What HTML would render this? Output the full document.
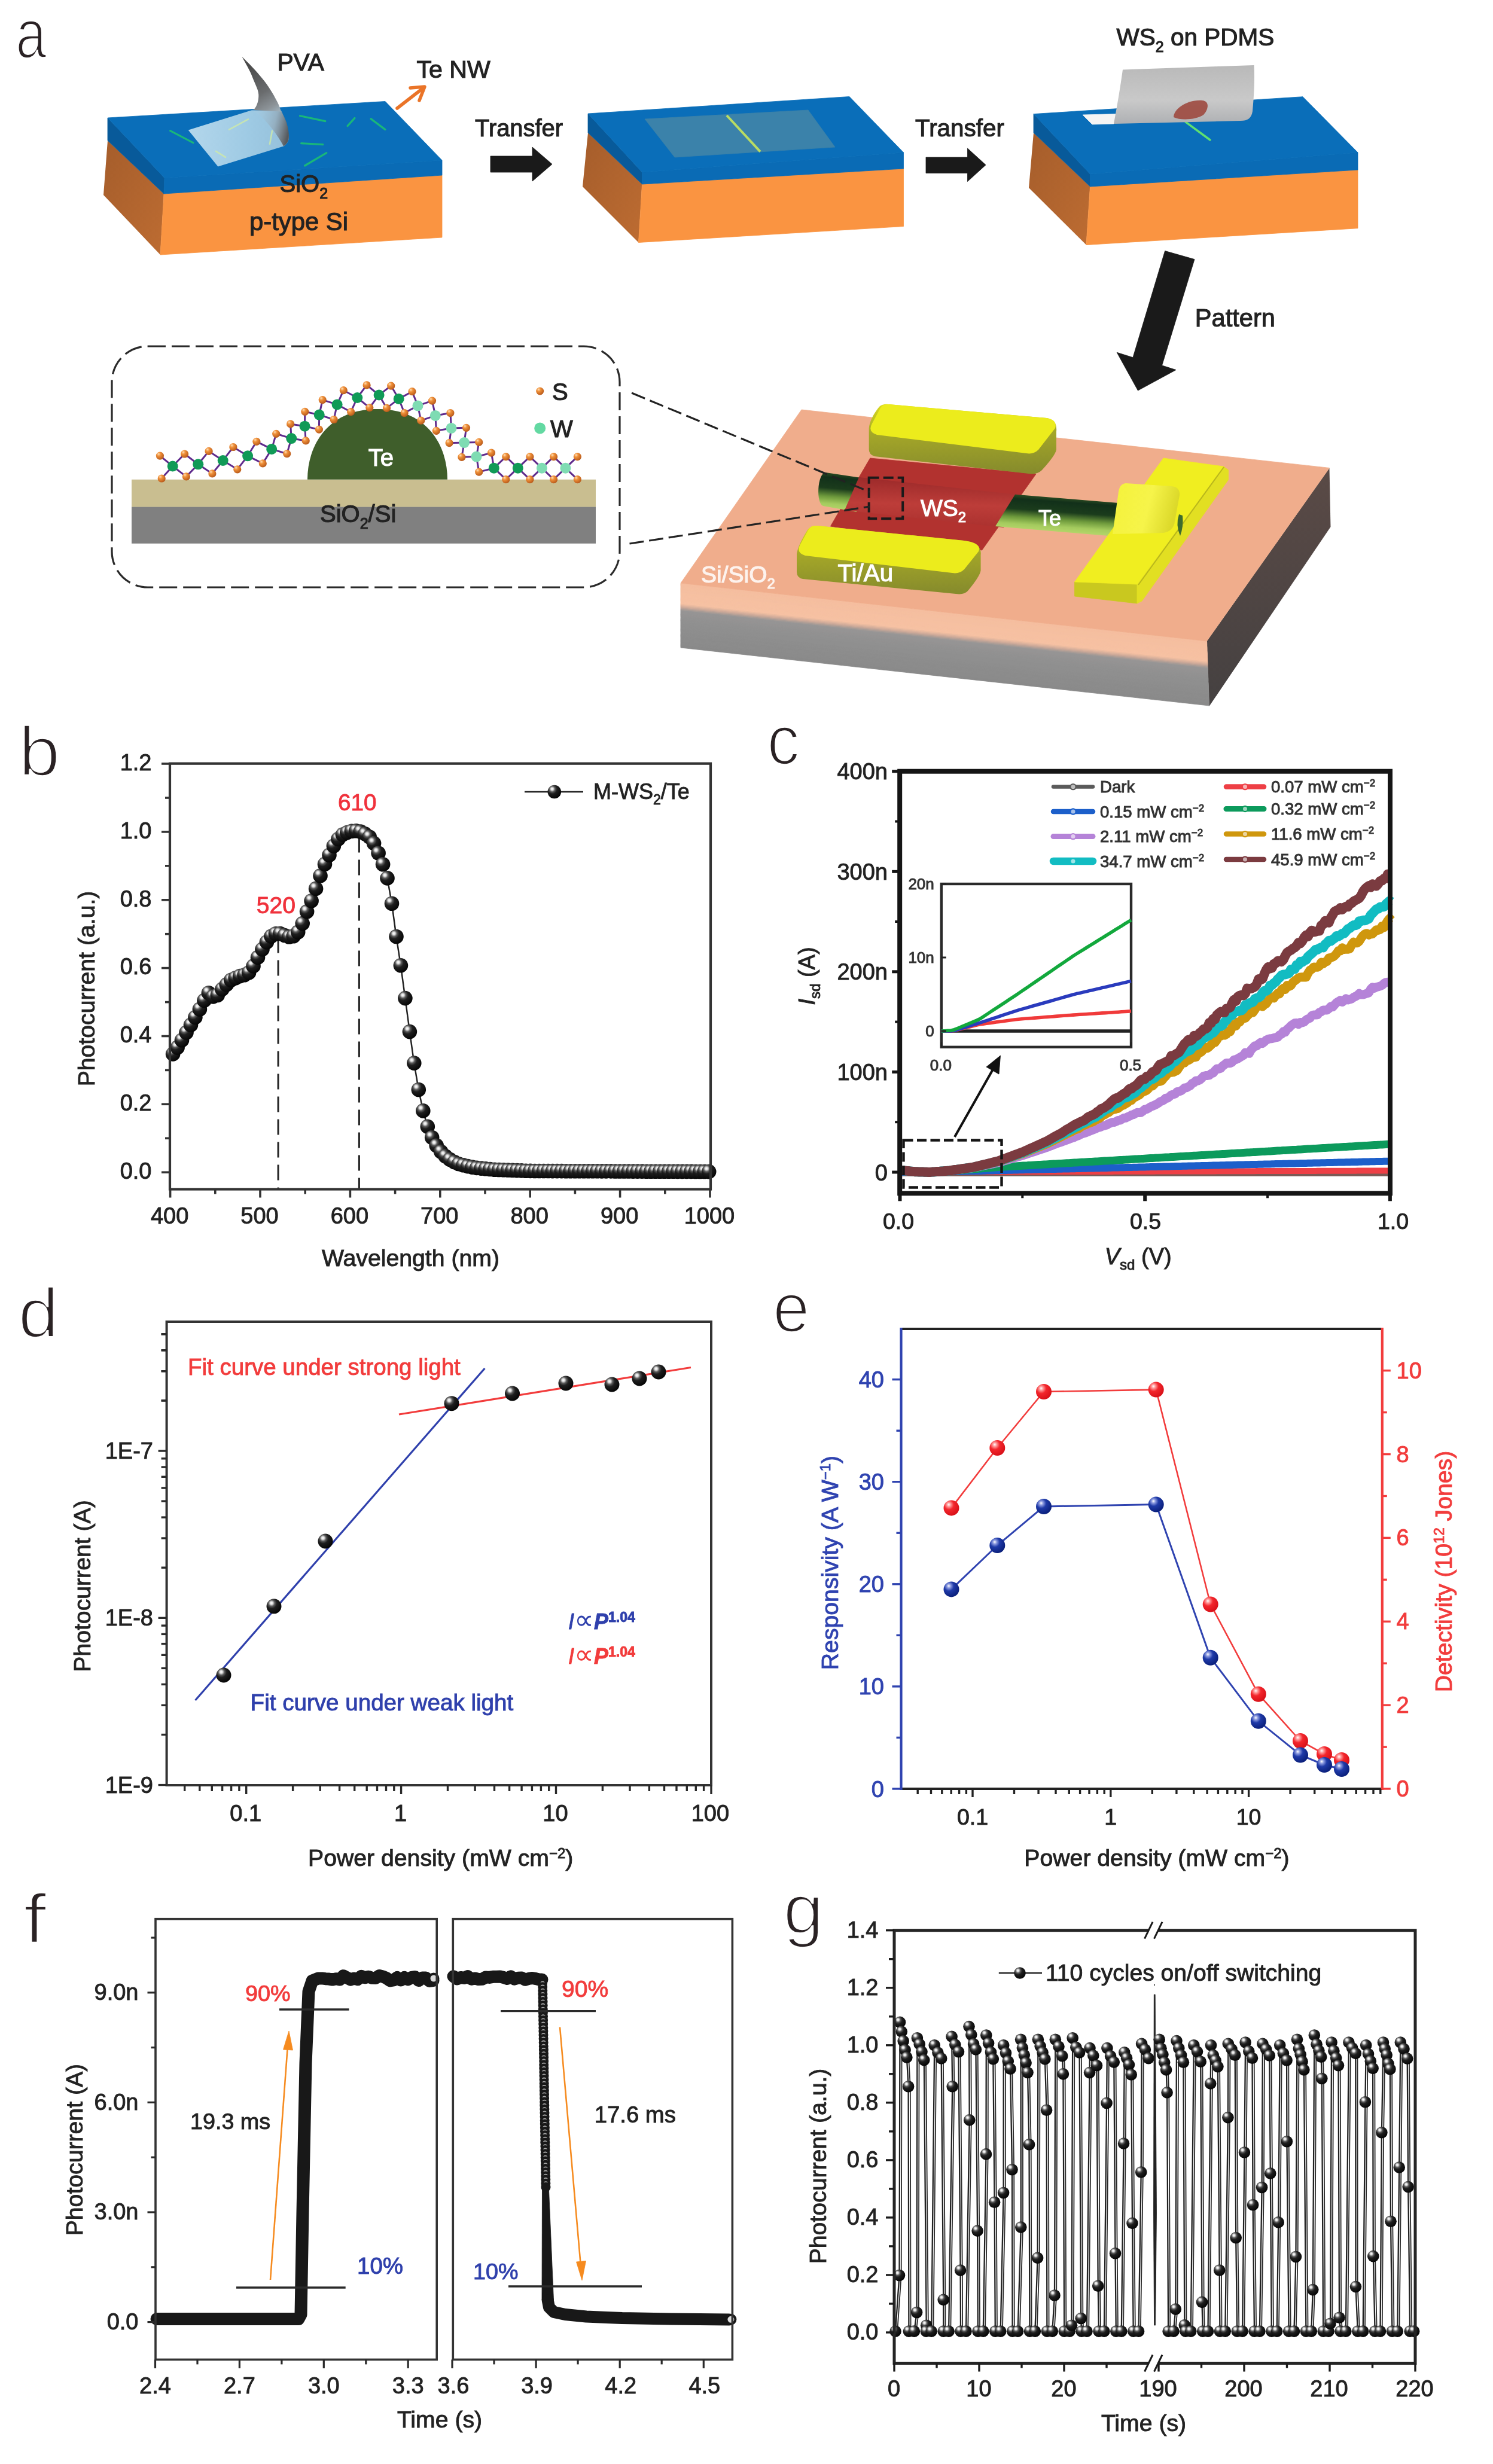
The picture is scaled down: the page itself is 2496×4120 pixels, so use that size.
<!DOCTYPE html>
<html lang="en"><head><meta charset="utf-8"><title>Figure</title>
<style>
html,body{margin:0;padding:0;background:#fff;}
svg{display:block;font-family:"Liberation Sans",sans-serif;filter:blur(0.6px);}
</style></head><body>
<svg width="2496" height="4120" viewBox="0 0 2496 4120">
<rect width="2496" height="4120" fill="#fff"/>

<defs>
<radialGradient id="spk" cx="0.36" cy="0.32" r="0.7" fx="0.33" fy="0.28">
 <stop offset="0" stop-color="#ffffff"/><stop offset="0.13" stop-color="#e0e0e0"/><stop offset="0.3" stop-color="#5a5a5a"/><stop offset="0.5" stop-color="#1e1e1e"/><stop offset="1" stop-color="#050505"/>
</radialGradient>
<radialGradient id="spr" cx="0.36" cy="0.32" r="0.7" fx="0.33" fy="0.28">
 <stop offset="0" stop-color="#fff"/><stop offset="0.18" stop-color="#ff9a9a"/><stop offset="0.45" stop-color="#f3262c"/><stop offset="1" stop-color="#d81018"/>
</radialGradient>
<radialGradient id="spb" cx="0.36" cy="0.32" r="0.7" fx="0.33" fy="0.28">
 <stop offset="0" stop-color="#fff"/><stop offset="0.18" stop-color="#8d9be0"/><stop offset="0.45" stop-color="#1f3aa8"/><stop offset="1" stop-color="#0a1f7a"/>
</radialGradient>
<radialGradient id="spS" cx="0.36" cy="0.32" r="0.7" fx="0.33" fy="0.28">
 <stop offset="0" stop-color="#ffe0b8"/><stop offset="0.35" stop-color="#f0913a"/><stop offset="1" stop-color="#b8591a"/>
</radialGradient>
<linearGradient id="orL" x1="0" y1="0" x2="1" y2="1"><stop offset="0" stop-color="#a55d2b"/><stop offset="1" stop-color="#bd6c32"/></linearGradient>
<linearGradient id="pvaflat" x1="0" y1="0" x2="1" y2="0"><stop offset="0" stop-color="#bcdcee"/><stop offset="0.6" stop-color="#a6cfe6"/><stop offset="1" stop-color="#9cc4dc"/></linearGradient>
<linearGradient id="pvacurl" gradientUnits="userSpaceOnUse" x1="415" y1="110" x2="462" y2="190"><stop offset="0" stop-color="#4a4a4a"/><stop offset="0.55" stop-color="#6a6c6e"/><stop offset="0.85" stop-color="#8d9499"/><stop offset="1" stop-color="#9fb2be"/></linearGradient>
<linearGradient id="pvalow" gradientUnits="userSpaceOnUse" x1="428" y1="200" x2="484" y2="214"><stop offset="0" stop-color="#a9cbe0" stop-opacity="0.3"/><stop offset="0.55" stop-color="#93a9b8" stop-opacity="0.75"/><stop offset="0.85" stop-color="#6d757c" stop-opacity="0.95"/><stop offset="1" stop-color="#55595d"/></linearGradient>
<linearGradient id="pdms" x1="0" y1="0" x2="0" y2="1"><stop offset="0" stop-color="#b9b9b9"/><stop offset="0.6" stop-color="#c9c9c9"/><stop offset="1" stop-color="#aeb0b3"/></linearGradient>
<linearGradient id="devR" x1="0" y1="0" x2="0" y2="1"><stop offset="0" stop-color="#5a4a46"/><stop offset="1" stop-color="#454141"/></linearGradient>
<linearGradient id="devF" x1="0" y1="0" x2="0" y2="1"><stop offset="0" stop-color="#f3b496"/><stop offset="0.22" stop-color="#eeb096"/><stop offset="0.38" stop-color="#a9a4a2"/><stop offset="1" stop-color="#8f8f8f"/></linearGradient>
<linearGradient id="wire" gradientUnits="userSpaceOnUse" x1="1780" y1="833" x2="1776" y2="889"><stop offset="0" stop-color="#2a4a22"/><stop offset="0.12" stop-color="#12301a"/><stop offset="0.42" stop-color="#1b3c1c"/><stop offset="0.66" stop-color="#6e9a3c"/><stop offset="0.86" stop-color="#a4cb5e"/><stop offset="1" stop-color="#b2d468"/></linearGradient>
<linearGradient id="wireL" gradientUnits="userSpaceOnUse" x1="1410" y1="793" x2="1405" y2="852"><stop offset="0" stop-color="#2a4a22"/><stop offset="0.12" stop-color="#12301a"/><stop offset="0.42" stop-color="#1b3c1c"/><stop offset="0.66" stop-color="#6e9a3c"/><stop offset="0.86" stop-color="#a4cb5e"/><stop offset="1" stop-color="#b2d468"/></linearGradient>
<linearGradient id="ridge" x1="0.04" y1="0" x2="-0.04" y2="1"><stop offset="0" stop-color="#9c2a2a"/><stop offset="0.5" stop-color="#bd3d39"/><stop offset="1" stop-color="#a82f2d"/></linearGradient>
<linearGradient id="elF" x1="0" y1="0" x2="0.05" y2="1"><stop offset="0" stop-color="#dcdc20"/><stop offset="0.4" stop-color="#a6a828"/><stop offset="1" stop-color="#878c2c"/></linearGradient>
<linearGradient id="bump" x1="0" y1="0" x2="1" y2="0.2"><stop offset="0" stop-color="#f4f23a"/><stop offset="0.6" stop-color="#f6f44a"/><stop offset="1" stop-color="#dcd92a"/></linearGradient>
</defs>

<polygon points="180.0,235.0 274.0,324.0 268.0,426.0 173.0,326.0" fill="url(#orL)"  />
<polygon points="274.0,324.0 739.0,293.0 739.0,397.0 268.0,426.0" fill="#fa9441" stroke="#fa9441" stroke-width="0.8" />
<polygon points="180.0,197.0 275.0,297.5 274.0,324.0 180.0,235.0" fill="#085a9a" stroke="#085a9a" stroke-width="0.8" />
<polygon points="275.0,297.5 739.0,268.0 739.0,293.0 274.0,324.0" fill="#0a6bb5" stroke="#0a6bb5" stroke-width="0.8" />
<polygon points="180.0,197.0 644.0,169.5 739.0,268.0 275.0,297.5" fill="#0a6eb9" stroke="#0a6eb9" stroke-width="0.8" />
<line x1="284.6" y1="218.7" x2="322.8" y2="238.7" stroke="#19b77a" stroke-width="3.2" stroke-linecap="round"/>
<line x1="501.6" y1="193.7" x2="543.8" y2="202.6" stroke="#19b77a" stroke-width="3.2" stroke-linecap="round"/>
<line x1="581.0" y1="210.6" x2="593.0" y2="197.4" stroke="#19b77a" stroke-width="3.2" stroke-linecap="round"/>
<line x1="620.0" y1="198.6" x2="644.0" y2="216.6" stroke="#19b77a" stroke-width="3.2" stroke-linecap="round"/>
<line x1="503.6" y1="239.6" x2="539.8" y2="241.6" stroke="#19b77a" stroke-width="3.2" stroke-linecap="round"/>
<line x1="509.6" y1="277.0" x2="545.8" y2="255.6" stroke="#19b77a" stroke-width="3.2" stroke-linecap="round"/>
<path d="M314.8,217.5 L420.1,184.5 L470,185 C476,198 482,215 482.8,231.5 C482,238 478,242 474.1,244.5 L364.4,278.5 Z" fill="url(#pvaflat)" opacity="0.95"/>
<line x1="383.0" y1="216.6" x2="415.0" y2="199.4" stroke="#cfeaa8" stroke-width="2.6" stroke-linecap="round" opacity="0.8"/>
<line x1="451.0" y1="240.8" x2="455.0" y2="218.7" stroke="#cfeaa8" stroke-width="2.6" stroke-linecap="round" opacity="0.8"/>
<line x1="361.0" y1="252.8" x2="377.0" y2="262.9" stroke="#cfeaa8" stroke-width="2.6" stroke-linecap="round" opacity="0.8"/>
<path d="M428,181 L470,185 C474,193 477,199 479.3,205.4 C482,215 483.5,224 482.8,231.5 C482,238 478,242 474.1,244.5 C468,232 452,210 440,198 C434,192 428,187 420.1,184.5 Z" fill="url(#pvalow)"/>
<path d="M404.5,94.8 C410,105 418,118 421.9,128.7 C427,142 432,150 432.3,158.3 C432.5,166 431,176 424,184 L470,186.5 C468,180 466,175 463.7,170.5 C456,155 448,143 439.3,132.2 C428,118 415,105 404.5,94.8 Z" fill="url(#pvacurl)"/>
<g stroke="#ea7428" stroke-width="5.5" fill="none" stroke-linecap="round" stroke-linejoin="round"><path d="M664,181 L709,146"/><path d="M686,147 L710,145 L701,168"/></g>
<text x="463.4" y="118.0" font-size="40.7" text-anchor="start" fill="#222" stroke="#222" stroke-width="1.1" >PVA</text>
<text x="696.5" y="130.4" font-size="41.1" text-anchor="start" fill="#222" stroke="#222" stroke-width="1.1" >Te NW</text>
<text x="467.5" y="321.0" font-size="40.0" text-anchor="start" fill="#222" stroke="#222" stroke-width="1.1" >SiO<tspan font-size="25" dy="11">2</tspan></text>
<text x="417.0" y="385.4" font-size="41.8" text-anchor="start" fill="#222" stroke="#222" stroke-width="1.1" >p-type Si</text>
<polygon points="820.0,261.0 890.0,261.0 890.0,246.0 923.0,274.5 890.0,303.0 890.0,288.0 820.0,288.0" fill="#1a1a1a" stroke="#1a1a1a" stroke-width="0.8" />
<polygon points="1548.0,263.0 1617.5,263.0 1617.5,248.0 1648.0,275.8 1617.5,303.5 1617.5,289.5 1548.0,289.5" fill="#1a1a1a" stroke="#1a1a1a" stroke-width="0.8" />
<text x="794.0" y="227.7" font-size="39.9" text-anchor="start" fill="#222" stroke="#222" stroke-width="1.1" >Transfer</text>
<text x="1530.0" y="228.0" font-size="40.4" text-anchor="start" fill="#222" stroke="#222" stroke-width="1.1" >Transfer</text>
<polygon points="983.0,222.0 1073.5,308.0 1067.5,405.5 974.0,312.0" fill="url(#orL)"  />
<polygon points="1073.5,308.0 1510.5,282.0 1510.5,378.5 1067.5,405.5" fill="#fa9441" stroke="#fa9441" stroke-width="0.8" />
<polygon points="983.0,190.0 1073.5,288.0 1073.5,308.0 983.0,222.0" fill="#085a9a" stroke="#085a9a" stroke-width="0.8" />
<polygon points="1073.5,288.0 1510.5,255.0 1510.5,282.0 1073.5,308.0" fill="#0a6bb5" stroke="#0a6bb5" stroke-width="0.8" />
<polygon points="983.0,190.0 1420.0,161.5 1510.5,255.0 1073.5,288.0" fill="#0a6eb9" stroke="#0a6eb9" stroke-width="0.8" />
<polygon points="1078.0,199.0 1351.0,184.0 1396.0,246.0 1128.0,263.0" fill="#3b82aa" stroke="#3b82aa" stroke-width="0.8" />
<line x1="1215.0" y1="193.0" x2="1271.0" y2="253.6" stroke="#b9dc62" stroke-width="4" />
<polygon points="1728.0,222.0 1822.5,312.0 1816.0,409.5 1720.0,314.0" fill="url(#orL)"  />
<polygon points="1822.5,312.0 2270.0,284.0 2270.0,381.7 1816.0,409.5" fill="#fa9441" stroke="#fa9441" stroke-width="0.8" />
<polygon points="1728.0,190.6 1822.5,291.0 1822.5,312.0 1728.0,222.0" fill="#085a9a" stroke="#085a9a" stroke-width="0.8" />
<polygon points="1822.5,291.0 2270.0,255.0 2270.0,284.0 1822.5,312.0" fill="#0a6bb5" stroke="#0a6bb5" stroke-width="0.8" />
<polygon points="1728.0,190.6 2178.0,161.7 2270.0,255.0 1822.5,291.0" fill="#0a6eb9" stroke="#0a6eb9" stroke-width="0.8" />
<line x1="1982.0" y1="203.9" x2="2023.0" y2="234.0" stroke="#5fe070" stroke-width="3.5" stroke-linecap="round"/>
<polygon points="1810.0,192.0 1868.0,190.6 1862.0,207.0 1826.0,208.0" fill="#f4f4f4" stroke="#f4f4f4" stroke-width="0.8" />
<path d="M1877,116.5 L2096.5,109 C2098,135 2096,165 2094,186 C2092,198 2086,202 2074,202 L1862,207 C1868,175 1873,145 1877,116.5 Z" fill="url(#pdms)"/>
<path d="M1962,196 C1962,182 1985,166 2010,168 C2022,169 2021,182 2012,192 C2000,200 1975,202 1962,196 Z" fill="#9e4c42" opacity="0.92"/>
<text x="1866.5" y="75.5" font-size="40.5" text-anchor="start" fill="#222" stroke="#222" stroke-width="1.1" >WS<tspan font-size="25" dy="11">2</tspan><tspan dy="-11"> on PDMS</tspan></text>
<polygon points="1947.6,419.5 1997.0,433.6 1942.6,611.0 1966.0,618.5 1902.4,653.0 1867.2,589.3 1894.0,597.7" fill="#1a1a1a" stroke="#1a1a1a" stroke-width="0.8" />
<text x="1997.8" y="546.4" font-size="41.6" text-anchor="start" fill="#222" stroke="#222" stroke-width="1.1" >Pattern</text>
<rect x="187" y="579" width="849" height="403" rx="60" ry="60" fill="none" stroke="#2a2a2a" stroke-width="3.2" stroke-dasharray="30 10"/>
<rect x="220" y="801.8" width="776" height="46" fill="#c9be90"/>
<rect x="220" y="847.6" width="776" height="61.2" fill="#808080"/>
<path d="M514,801.8 C514,745 548,684 631,684 C714,684 748,745 748,801.8 Z" fill="#3f5e2b"/>
<text x="636.8" y="779.0" font-size="40.0" text-anchor="middle" fill="#fff" stroke="#fff" stroke-width="1.1" >Te</text>
<text x="535.0" y="873.0" font-size="40.0" text-anchor="start" fill="#222" stroke="#222" stroke-width="1.1" >SiO<tspan font-size="25" dy="11">2</tspan><tspan dy="-11">/Si</tspan></text>
<circle cx="902.7" cy="654" r="6.5" fill="url(#spS)"/>
<text x="923.0" y="669.4" font-size="40.0" text-anchor="start" fill="#222" stroke="#222" stroke-width="1.1" >S</text>
<circle cx="902.7" cy="716" r="9.5" fill="#63d9a2"/>
<text x="920.0" y="730.5" font-size="40.0" text-anchor="start" fill="#222" stroke="#222" stroke-width="1.1" >W</text>
<g stroke="#5f2a8c" stroke-width="3">
<line x1="288.7" y1="779.5" x2="267.4" y2="762.1"/>
<line x1="288.7" y1="779.5" x2="270.2" y2="800.0"/>
<line x1="288.7" y1="779.5" x2="308.6" y2="759.0"/>
<line x1="288.7" y1="779.5" x2="311.4" y2="796.9"/>
<line x1="331.3" y1="776.3" x2="308.6" y2="759.0"/>
<line x1="331.3" y1="776.3" x2="311.4" y2="796.9"/>
<line x1="331.3" y1="776.3" x2="349.1" y2="754.4"/>
<line x1="331.3" y1="776.3" x2="354.9" y2="791.9"/>
<line x1="372.7" y1="770.0" x2="349.1" y2="754.4"/>
<line x1="372.7" y1="770.0" x2="354.9" y2="791.9"/>
<line x1="372.7" y1="770.0" x2="389.9" y2="747.5"/>
<line x1="372.7" y1="770.0" x2="396.8" y2="784.8"/>
<line x1="414.1" y1="762.3" x2="389.9" y2="747.5"/>
<line x1="414.1" y1="762.3" x2="396.8" y2="784.8"/>
<line x1="414.1" y1="762.3" x2="428.9" y2="738.3"/>
<line x1="414.1" y1="762.3" x2="439.3" y2="774.9"/>
<line x1="454.2" y1="750.9" x2="428.9" y2="738.3"/>
<line x1="454.2" y1="750.9" x2="439.3" y2="774.9"/>
<line x1="454.2" y1="750.9" x2="461.7" y2="725.3"/>
<line x1="454.2" y1="750.9" x2="479.7" y2="758.7"/>
<line x1="487.2" y1="733.1" x2="461.7" y2="725.3"/>
<line x1="487.2" y1="733.1" x2="479.7" y2="758.7"/>
<line x1="487.2" y1="733.1" x2="485.6" y2="708.9"/>
<line x1="487.2" y1="733.1" x2="511.2" y2="736.9"/>
<line x1="509.5" y1="712.7" x2="485.6" y2="708.9"/>
<line x1="509.5" y1="712.7" x2="511.2" y2="736.9"/>
<line x1="509.5" y1="712.7" x2="509.8" y2="688.3"/>
<line x1="509.5" y1="712.7" x2="533.4" y2="718.1"/>
<line x1="533.7" y1="693.6" x2="509.8" y2="688.3"/>
<line x1="533.7" y1="693.6" x2="533.4" y2="718.1"/>
<line x1="533.7" y1="693.6" x2="539.2" y2="668.6"/>
<line x1="533.7" y1="693.6" x2="558.1" y2="701.5"/>
<line x1="563.6" y1="676.4" x2="539.2" y2="668.6"/>
<line x1="563.6" y1="676.4" x2="558.1" y2="701.5"/>
<line x1="563.6" y1="676.4" x2="574.3" y2="652.7"/>
<line x1="563.6" y1="676.4" x2="586.6" y2="688.7"/>
<line x1="597.3" y1="665.0" x2="574.3" y2="652.7"/>
<line x1="597.3" y1="665.0" x2="586.6" y2="688.7"/>
<line x1="597.3" y1="665.0" x2="613.1" y2="643.9"/>
<line x1="597.3" y1="665.0" x2="617.8" y2="681.6"/>
<line x1="633.6" y1="660.5" x2="613.1" y2="643.9"/>
<line x1="633.6" y1="660.5" x2="617.8" y2="681.6"/>
<line x1="633.6" y1="660.5" x2="653.7" y2="645.1"/>
<line x1="633.6" y1="660.5" x2="646.5" y2="682.4"/>
<line x1="666.7" y1="666.9" x2="653.7" y2="645.1"/>
<line x1="666.7" y1="666.9" x2="646.5" y2="682.4"/>
<line x1="666.7" y1="666.9" x2="689.0" y2="654.7"/>
<line x1="666.7" y1="666.9" x2="676.1" y2="690.5"/>
<line x1="698.5" y1="678.4" x2="689.0" y2="654.7"/>
<line x1="698.5" y1="678.4" x2="676.1" y2="690.5"/>
<line x1="698.5" y1="678.4" x2="722.5" y2="670.1"/>
<line x1="698.5" y1="678.4" x2="703.8" y2="703.2"/>
<line x1="727.8" y1="694.9" x2="722.5" y2="670.1"/>
<line x1="727.8" y1="694.9" x2="703.8" y2="703.2"/>
<line x1="727.8" y1="694.9" x2="752.9" y2="690.5"/>
<line x1="727.8" y1="694.9" x2="729.4" y2="720.3"/>
<line x1="754.5" y1="715.9" x2="752.9" y2="690.5"/>
<line x1="754.5" y1="715.9" x2="729.4" y2="720.3"/>
<line x1="754.5" y1="715.9" x2="779.5" y2="715.3"/>
<line x1="754.5" y1="715.9" x2="751.1" y2="740.7"/>
<line x1="776.1" y1="740.1" x2="779.5" y2="715.3"/>
<line x1="776.1" y1="740.1" x2="751.1" y2="740.7"/>
<line x1="776.1" y1="740.1" x2="800.7" y2="739.4"/>
<line x1="776.1" y1="740.1" x2="771.9" y2="764.3"/>
<line x1="796.5" y1="763.6" x2="800.7" y2="739.4"/>
<line x1="796.5" y1="763.6" x2="771.9" y2="764.3"/>
<line x1="796.5" y1="763.6" x2="821.5" y2="757.2"/>
<line x1="796.5" y1="763.6" x2="800.7" y2="789.1"/>
<line x1="825.8" y1="782.7" x2="821.5" y2="757.2"/>
<line x1="825.8" y1="782.7" x2="800.7" y2="789.1"/>
<line x1="825.8" y1="782.7" x2="845.8" y2="763.7"/>
<line x1="825.8" y1="782.7" x2="845.8" y2="801.7"/>
<line x1="865.8" y1="782.7" x2="845.8" y2="763.7"/>
<line x1="865.8" y1="782.7" x2="845.8" y2="801.7"/>
<line x1="865.8" y1="782.7" x2="885.9" y2="763.7"/>
<line x1="865.8" y1="782.7" x2="885.9" y2="801.7"/>
<line x1="905.9" y1="782.7" x2="885.9" y2="763.7"/>
<line x1="905.9" y1="782.7" x2="885.9" y2="801.7"/>
<line x1="905.9" y1="782.7" x2="925.6" y2="763.7"/>
<line x1="905.9" y1="782.7" x2="925.6" y2="801.7"/>
<line x1="945.4" y1="782.7" x2="925.6" y2="763.7"/>
<line x1="945.4" y1="782.7" x2="925.6" y2="801.7"/>
<line x1="945.4" y1="782.7" x2="965.4" y2="763.7"/>
<line x1="945.4" y1="782.7" x2="965.4" y2="801.7"/>
</g>
<circle cx="288.7" cy="779.5" r="9" fill="#109a57"/>
<circle cx="331.3" cy="776.3" r="9" fill="#109a57"/>
<circle cx="372.7" cy="770.0" r="9" fill="#109a57"/>
<circle cx="414.1" cy="762.3" r="9" fill="#109a57"/>
<circle cx="454.2" cy="750.9" r="9" fill="#109a57"/>
<circle cx="487.2" cy="733.1" r="9" fill="#109a57"/>
<circle cx="509.5" cy="712.7" r="9" fill="#109a57"/>
<circle cx="533.7" cy="693.6" r="9" fill="#109a57"/>
<circle cx="563.6" cy="676.4" r="9" fill="#109a57"/>
<circle cx="597.3" cy="665.0" r="9" fill="#109a57"/>
<circle cx="633.6" cy="660.5" r="9" fill="#109a57"/>
<circle cx="666.7" cy="666.9" r="9" fill="#109a57"/>
<circle cx="698.5" cy="678.4" r="9" fill="#7fdcb3"/>
<circle cx="727.8" cy="694.9" r="9" fill="#7fdcb3"/>
<circle cx="754.5" cy="715.9" r="9" fill="#7fdcb3"/>
<circle cx="776.1" cy="740.1" r="9" fill="#7fdcb3"/>
<circle cx="796.5" cy="763.6" r="9" fill="#7fdcb3"/>
<circle cx="825.8" cy="782.7" r="9" fill="#109a57"/>
<circle cx="865.8" cy="782.7" r="9" fill="#109a57"/>
<circle cx="905.9" cy="782.7" r="9" fill="#7fdcb3"/>
<circle cx="945.4" cy="782.7" r="9" fill="#7fdcb3"/>
<circle cx="267.4" cy="762.1" r="6.6" fill="url(#spS)"/>
<circle cx="270.2" cy="800.0" r="6.6" fill="url(#spS)"/>
<circle cx="308.6" cy="759.0" r="6.6" fill="url(#spS)"/>
<circle cx="311.4" cy="796.9" r="6.6" fill="url(#spS)"/>
<circle cx="349.1" cy="754.4" r="6.6" fill="url(#spS)"/>
<circle cx="354.9" cy="791.9" r="6.6" fill="url(#spS)"/>
<circle cx="389.9" cy="747.5" r="6.6" fill="url(#spS)"/>
<circle cx="396.8" cy="784.8" r="6.6" fill="url(#spS)"/>
<circle cx="428.9" cy="738.3" r="6.6" fill="url(#spS)"/>
<circle cx="439.3" cy="774.9" r="6.6" fill="url(#spS)"/>
<circle cx="461.7" cy="725.3" r="6.6" fill="url(#spS)"/>
<circle cx="479.7" cy="758.7" r="6.6" fill="url(#spS)"/>
<circle cx="485.6" cy="708.9" r="6.6" fill="url(#spS)"/>
<circle cx="511.2" cy="736.9" r="6.6" fill="url(#spS)"/>
<circle cx="509.8" cy="688.3" r="6.6" fill="url(#spS)"/>
<circle cx="533.4" cy="718.1" r="6.6" fill="url(#spS)"/>
<circle cx="539.2" cy="668.6" r="6.6" fill="url(#spS)"/>
<circle cx="558.1" cy="701.5" r="6.6" fill="url(#spS)"/>
<circle cx="574.3" cy="652.7" r="6.6" fill="url(#spS)"/>
<circle cx="586.6" cy="688.7" r="6.6" fill="url(#spS)"/>
<circle cx="613.1" cy="643.9" r="6.6" fill="url(#spS)"/>
<circle cx="617.8" cy="681.6" r="6.6" fill="url(#spS)"/>
<circle cx="653.7" cy="645.1" r="6.6" fill="url(#spS)"/>
<circle cx="646.5" cy="682.4" r="6.6" fill="url(#spS)"/>
<circle cx="689.0" cy="654.7" r="6.6" fill="url(#spS)"/>
<circle cx="676.1" cy="690.5" r="6.6" fill="url(#spS)"/>
<circle cx="722.5" cy="670.1" r="6.6" fill="url(#spS)"/>
<circle cx="703.8" cy="703.2" r="6.6" fill="url(#spS)"/>
<circle cx="752.9" cy="690.5" r="6.6" fill="url(#spS)"/>
<circle cx="729.4" cy="720.3" r="6.6" fill="url(#spS)"/>
<circle cx="779.5" cy="715.3" r="6.6" fill="url(#spS)"/>
<circle cx="751.1" cy="740.7" r="6.6" fill="url(#spS)"/>
<circle cx="800.7" cy="739.4" r="6.6" fill="url(#spS)"/>
<circle cx="771.9" cy="764.3" r="6.6" fill="url(#spS)"/>
<circle cx="821.5" cy="757.2" r="6.6" fill="url(#spS)"/>
<circle cx="800.7" cy="789.1" r="6.6" fill="url(#spS)"/>
<circle cx="845.8" cy="763.7" r="6.6" fill="url(#spS)"/>
<circle cx="845.8" cy="801.7" r="6.6" fill="url(#spS)"/>
<circle cx="885.9" cy="763.7" r="6.6" fill="url(#spS)"/>
<circle cx="885.9" cy="801.7" r="6.6" fill="url(#spS)"/>
<circle cx="925.6" cy="763.7" r="6.6" fill="url(#spS)"/>
<circle cx="925.6" cy="801.7" r="6.6" fill="url(#spS)"/>
<circle cx="965.4" cy="763.7" r="6.6" fill="url(#spS)"/>
<circle cx="965.4" cy="801.7" r="6.6" fill="url(#spS)"/>
<polygon points="2222.5,782.4 2224.5,881.0 2021.5,1181.0 2017.5,1072.0" fill="url(#devR)"  />
<polygon points="1138.0,975.0 2017.5,1072.0 2017.6,1074.9 1138.0,977.9" fill="#f5be9f" stroke="#f5be9f" stroke-width="0.8" />
<polygon points="1138.0,977.1 2017.6,1074.0 2017.7,1076.9 1138.0,980.0" fill="#f5be9f" stroke="#f5be9f" stroke-width="0.8" />
<polygon points="1138.0,979.1 2017.7,1076.1 2017.8,1079.0 1138.0,982.1" fill="#f5bea0" stroke="#f5bea0" stroke-width="0.8" />
<polygon points="1138.0,981.2 2017.7,1078.2 2017.8,1081.0 1138.0,984.1" fill="#f5bfa0" stroke="#f5bfa0" stroke-width="0.8" />
<polygon points="1138.0,983.3 2017.8,1080.2 2017.9,1083.1 1138.0,986.2" fill="#f5bfa0" stroke="#f5bfa0" stroke-width="0.8" />
<polygon points="1138.0,985.4 2017.9,1082.2 2018.0,1085.1 1138.0,988.3" fill="#f5bfa0" stroke="#f5bfa0" stroke-width="0.8" />
<polygon points="1138.0,987.5 2018.0,1084.3 2018.1,1087.2 1138.0,990.4" fill="#f5bfa1" stroke="#f5bfa1" stroke-width="0.8" />
<polygon points="1138.0,989.5 2018.0,1086.3 2018.1,1089.2 1138.0,992.4" fill="#f5bfa1" stroke="#f5bfa1" stroke-width="0.8" />
<polygon points="1138.0,991.6 2018.1,1088.4 2018.2,1091.3 1138.0,994.5" fill="#f6c0a1" stroke="#f6c0a1" stroke-width="0.8" />
<polygon points="1138.0,993.7 2018.2,1090.5 2018.3,1093.3 1138.0,996.6" fill="#f6c0a1" stroke="#f6c0a1" stroke-width="0.8" />
<polygon points="1138.0,995.8 2018.3,1092.5 2018.4,1095.4 1138.0,998.7" fill="#f6c0a2" stroke="#f6c0a2" stroke-width="0.8" />
<polygon points="1138.0,997.8 2018.3,1094.5 2018.4,1097.4 1138.0,1000.7" fill="#f6c0a2" stroke="#f6c0a2" stroke-width="0.8" />
<polygon points="1138.0,999.9 2018.4,1096.6 2018.5,1099.5 1138.0,1002.8" fill="#f6c0a2" stroke="#f6c0a2" stroke-width="0.8" />
<polygon points="1138.0,1002.0 2018.5,1098.7 2018.6,1101.5 1138.0,1004.9" fill="#f6c0a2" stroke="#f6c0a2" stroke-width="0.8" />
<polygon points="1138.0,1004.0 2018.6,1100.7 2018.7,1103.6 1138.0,1007.0" fill="#f6c1a2" stroke="#f6c1a2" stroke-width="0.8" />
<polygon points="1138.0,1006.1 2018.6,1102.8 2018.7,1105.6 1138.0,1009.0" fill="#f6c1a3" stroke="#f6c1a3" stroke-width="0.8" />
<polygon points="1138.0,1008.2 2018.7,1104.8 2018.8,1107.7 1138.0,1011.1" fill="#f6c1a3" stroke="#f6c1a3" stroke-width="0.8" />
<polygon points="1138.0,1010.3 2018.8,1106.8 2018.9,1109.7 1138.0,1013.2" fill="#ebbba0" stroke="#ebbba0" stroke-width="0.8" />
<polygon points="1138.0,1012.4 2018.9,1108.9 2019.0,1111.8 1138.0,1015.3" fill="#dcb39d" stroke="#dcb39d" stroke-width="0.8" />
<polygon points="1138.0,1014.4 2018.9,1111.0 2019.0,1113.8 1138.0,1017.3" fill="#ceaa99" stroke="#ceaa99" stroke-width="0.8" />
<polygon points="1138.0,1016.5 2019.0,1113.0 2019.1,1115.9 1138.0,1019.4" fill="#baa297" stroke="#baa297" stroke-width="0.8" />
<polygon points="1138.0,1018.6 2019.1,1115.1 2019.2,1118.0 1138.0,1021.5" fill="#a69b96" stroke="#a69b96" stroke-width="0.8" />
<polygon points="1138.0,1020.7 2019.2,1117.2 2019.3,1120.1 1138.0,1023.6" fill="#979595" stroke="#979595" stroke-width="0.8" />
<polygon points="1138.0,1022.7 2019.3,1119.3 2019.4,1122.2 1138.0,1025.6" fill="#969494" stroke="#969494" stroke-width="0.8" />
<polygon points="1138.0,1024.8 2019.3,1121.4 2019.4,1124.3 1138.0,1027.7" fill="#959494" stroke="#959494" stroke-width="0.8" />
<polygon points="1138.0,1026.9 2019.4,1123.5 2019.5,1126.4 1138.0,1029.8" fill="#959393" stroke="#959393" stroke-width="0.8" />
<polygon points="1138.0,1029.0 2019.5,1125.6 2019.6,1128.5 1138.0,1031.9" fill="#949393" stroke="#949393" stroke-width="0.8" />
<polygon points="1138.0,1031.0 2019.6,1127.7 2019.7,1130.6 1138.0,1034.0" fill="#939292" stroke="#939292" stroke-width="0.8" />
<polygon points="1138.0,1033.1 2019.6,1129.8 2019.7,1132.7 1138.0,1036.0" fill="#929292" stroke="#929292" stroke-width="0.8" />
<polygon points="1138.0,1035.2 2019.7,1131.8 2019.8,1134.8 1138.0,1038.1" fill="#929191" stroke="#929191" stroke-width="0.8" />
<polygon points="1138.0,1037.3 2019.8,1133.9 2019.9,1136.9 1138.0,1040.2" fill="#919191" stroke="#919191" stroke-width="0.8" />
<polygon points="1138.0,1039.4 2019.9,1136.0 2020.0,1139.0 1138.0,1042.3" fill="#909090" stroke="#909090" stroke-width="0.8" />
<polygon points="1138.0,1041.4 2019.9,1138.1 2020.1,1141.1 1138.0,1044.3" fill="#909090" stroke="#909090" stroke-width="0.8" />
<polygon points="1138.0,1043.5 2020.0,1140.2 2020.1,1143.2 1138.0,1046.4" fill="#8f8f8f" stroke="#8f8f8f" stroke-width="0.8" />
<polygon points="1138.0,1045.6 2020.1,1142.3 2020.2,1145.2 1138.0,1048.5" fill="#8f8f8f" stroke="#8f8f8f" stroke-width="0.8" />
<polygon points="1138.0,1047.7 2020.2,1144.4 2020.3,1147.3 1138.0,1050.6" fill="#8f8f8f" stroke="#8f8f8f" stroke-width="0.8" />
<polygon points="1138.0,1049.8 2020.3,1146.5 2020.4,1149.4 1138.0,1052.7" fill="#8f8f8f" stroke="#8f8f8f" stroke-width="0.8" />
<polygon points="1138.0,1051.8 2020.3,1148.6 2020.4,1151.5 1138.0,1054.7" fill="#8e8e8e" stroke="#8e8e8e" stroke-width="0.8" />
<polygon points="1138.0,1053.9 2020.4,1150.7 2020.5,1153.6 1138.0,1056.8" fill="#8e8e8e" stroke="#8e8e8e" stroke-width="0.8" />
<polygon points="1138.0,1056.0 2020.5,1152.8 2020.6,1155.7 1138.0,1058.9" fill="#8e8e8e" stroke="#8e8e8e" stroke-width="0.8" />
<polygon points="1138.0,1058.1 2020.6,1154.9 2020.7,1157.8 1138.0,1061.0" fill="#8d8d8d" stroke="#8d8d8d" stroke-width="0.8" />
<polygon points="1138.0,1060.1 2020.6,1157.0 2020.8,1159.9 1138.0,1063.0" fill="#8d8d8d" stroke="#8d8d8d" stroke-width="0.8" />
<polygon points="1138.0,1062.2 2020.7,1159.1 2020.8,1162.0 1138.0,1065.1" fill="#8d8d8d" stroke="#8d8d8d" stroke-width="0.8" />
<polygon points="1138.0,1064.3 2020.8,1161.2 2020.9,1164.1 1138.0,1067.2" fill="#8c8c8c" stroke="#8c8c8c" stroke-width="0.8" />
<polygon points="1138.0,1066.4 2020.9,1163.2 2021.0,1166.2 1138.0,1069.3" fill="#8c8c8c" stroke="#8c8c8c" stroke-width="0.8" />
<polygon points="1138.0,1068.5 2021.0,1165.3 2021.1,1168.3 1138.0,1071.4" fill="#8c8c8c" stroke="#8c8c8c" stroke-width="0.8" />
<polygon points="1138.0,1070.5 2021.0,1167.4 2021.1,1170.4 1138.0,1073.4" fill="#8c8c8c" stroke="#8c8c8c" stroke-width="0.8" />
<polygon points="1138.0,1072.6 2021.1,1169.5 2021.2,1172.5 1138.0,1075.5" fill="#8b8b8b" stroke="#8b8b8b" stroke-width="0.8" />
<polygon points="1138.0,1074.7 2021.2,1171.6 2021.3,1174.6 1138.0,1077.6" fill="#8b8b8b" stroke="#8b8b8b" stroke-width="0.8" />
<polygon points="1138.0,1076.8 2021.3,1173.7 2021.4,1176.7 1138.0,1079.7" fill="#8b8b8b" stroke="#8b8b8b" stroke-width="0.8" />
<polygon points="1138.0,1078.8 2021.3,1175.8 2021.5,1178.7 1138.0,1081.8" fill="#8a8a8a" stroke="#8a8a8a" stroke-width="0.8" />
<polygon points="1138.0,1080.9 2021.4,1177.9 2021.5,1180.0 1138.0,1083.0" fill="#8a8a8a" stroke="#8a8a8a" stroke-width="0.8" />
<polygon points="1340.0,685.0 2222.5,782.4 2017.5,1072.0 1138.0,975.0" fill="#f0ad8c" stroke="#f0ad8c" stroke-width="0.8" />
<polygon points="1454.7,766.0 1732.0,792.6 1641.6,920.0 1388.4,880.0" fill="#b2322f" stroke="#b2322f" stroke-width="0.8" />
<path d="M1380,790 L1440,799 L1432,856 L1376,846 C1364,842 1366,792 1380,790 Z" fill="url(#wireL)"/>
<polygon points="1436.0,798.0 1700.0,827.0 1678.0,882.0 1412.0,853.0" fill="url(#ridge)"  />
<polygon points="1697.0,826.8 1870.0,841.0 1866.0,897.0 1664.0,880.0" fill="url(#wire)"  />
<path d="M1486,676 L1750,699 Q1768,702 1766,722 L1766,752 Q1764,762 1742,786 Q1734,794 1720,792 L1462,763 Q1452,760 1452.7,750 L1452.7,716 Q1454,700 1470,680 Q1476,675 1486,676 Z" fill="url(#elF)"/>
<path d="M1486,676 L1750,699 Q1768,702 1764,716 L1736,752 Q1728,760 1716,758 L1466,727 Q1450,722 1458,708 L1472,682 Q1476,675 1486,676 Z" fill="#ecec1c"/>
<path d="M1366,879 L1612,904 Q1642,908 1639.6,928 L1639.6,954 Q1638,964 1618,988 Q1612,995 1598,993 L1342,968 Q1332,966 1332,956 L1332,926 Q1334,912 1350,886 Q1356,878 1366,879 Z" fill="url(#elF)"/>
<path d="M1366,879 L1612,904 Q1642,908 1636,922 L1612,952 Q1604,960 1592,958 L1346,929 Q1330,924 1338,910 L1352,885 Q1356,878 1366,879 Z" fill="#ecec1c"/>
<rect x="1452.7" y="798.7" width="56.5" height="68.5" fill="none" stroke="#1a1a1a" stroke-width="4" stroke-dasharray="17 7"/>
<path d="M1056,657 L1454,822.6" stroke="#222" stroke-width="3.2" stroke-dasharray="24 9" fill="none"/>
<path d="M1052.5,909 L1454,847" stroke="#222" stroke-width="3.2" stroke-dasharray="24 9" fill="none"/>
<polygon points="1796.5,973.0 1901.0,977.0 1901.0,1009.0 1796.5,997.0" fill="#c9c81f" stroke="#c9c81f" stroke-width="0.8" />
<polygon points="2045.6,780.0 2053.7,786.0 2053.7,802.0 1909.0,1005.0 1901.0,1009.0 1901.0,977.0" fill="#e2df22" stroke="#e2df22" stroke-width="0.8" />
<polygon points="1945.0,766.0 2045.6,780.0 1901.0,977.0 1796.5,973.0" fill="#f0ee20" stroke="#f0ee20" stroke-width="0.8" />
<path d="M1882,808 Q1872,809 1870,822 L1860,893 L1945,891 Q1962,888 1964,872 L1972,828 Q1973,814 1958,813 Z" fill="url(#bump)"/>
<line x1="2046.0" y1="781.0" x2="1903.0" y2="978.0" stroke="#b9b71c" stroke-width="2" />
<path d="M1971,860 Q1965,878 1973,896 Q1979,880 1977,862 Z" fill="#3d6b2e"/>
<text x="1539.0" y="863.0" font-size="39.0" text-anchor="start" fill="#fff" stroke="#fff" stroke-width="1.1" >WS<tspan font-size="24" dy="10">2</tspan></text>
<text x="1736.0" y="879.0" font-size="36.0" text-anchor="start" fill="#fff" stroke="#fff" stroke-width="1.1" >Te</text>
<text x="1400.5" y="971.5" font-size="40.3" text-anchor="start" fill="#fff" stroke="#fff" stroke-width="1.1" >Ti/Au</text>
<text x="1172.0" y="973.7" font-size="39.0" text-anchor="start" fill="#fdf3ee" stroke="#fdf3ee" stroke-width="1.1" >Si/SiO<tspan font-size="24" dy="10">2</tspan></text>
<line x1="465.1" y1="1567.4" x2="465.1" y2="1988.5" stroke="#222" stroke-width="3" stroke-dasharray="26 12"/>
<line x1="600.4" y1="1399.4" x2="600.4" y2="1988.5" stroke="#222" stroke-width="3" stroke-dasharray="26 12"/>
<polyline points="289.1,1762.4 296.6,1751.6 304.0,1739.2 311.5,1726.5 319.0,1713.8 326.4,1701.0 333.9,1687.5 341.4,1672.9 348.9,1660.2 356.3,1666.4 363.8,1664.0 371.3,1654.1 378.7,1646.4 386.2,1638.7 393.7,1635.2 401.1,1632.1 408.6,1630.3 416.1,1626.3 423.5,1615.4 431.0,1600.9 438.5,1587.2 445.9,1575.2 453.4,1565.6 460.9,1561.2 468.3,1561.0 475.8,1564.0 483.3,1566.5 490.7,1565.3 498.2,1558.5 505.7,1544.1 513.1,1524.3 520.6,1506.2 528.1,1485.9 535.5,1464.4 543.0,1444.9 550.5,1429.7 557.9,1414.5 565.4,1403.0 572.9,1395.6 580.3,1392.1 587.8,1389.7 595.3,1389.3 602.7,1390.5 610.2,1394.4 617.7,1399.5 625.1,1410.1 632.6,1426.5 640.1,1445.2 647.5,1468.4 655.0,1510.7 662.5,1566.0 669.9,1614.3 677.4,1669.1 684.9,1725.1 692.3,1777.6 699.8,1822.0 707.3,1857.4 714.8,1883.8 722.2,1902.0 729.7,1915.5 737.2,1925.8 744.6,1933.3 752.1,1938.8 759.6,1943.1 767.0,1946.3 774.5,1948.2 782.0,1950.1 789.4,1951.6 796.9,1952.9 804.4,1953.6 811.8,1954.3 819.3,1955.0 826.8,1955.7 834.2,1956.0 841.7,1956.2 849.2,1956.5 856.6,1956.8 864.1,1957.1 871.6,1957.4 879.0,1957.7 886.5,1957.9 894.0,1958.0 901.4,1958.0 908.9,1958.0 916.4,1958.0 923.8,1958.1 931.3,1958.1 938.8,1958.1 946.2,1958.2 953.7,1958.2 961.2,1958.2 968.6,1958.2 976.1,1958.3 983.6,1958.3 991.0,1958.3 998.5,1958.3 1006.0,1958.4 1013.4,1958.4 1020.9,1958.4 1028.4,1958.5 1035.8,1958.5 1043.3,1958.5 1050.8,1958.5 1058.3,1958.6 1065.7,1958.6 1073.2,1958.6 1080.7,1958.7 1088.1,1958.7 1095.6,1958.7 1103.1,1958.7 1110.5,1958.8 1118.0,1958.8 1125.5,1958.8 1132.9,1958.9 1140.4,1958.9 1147.9,1958.9 1155.3,1958.9 1162.8,1959.0 1170.3,1959.0 1177.7,1959.0 1185.2,1959.1" fill="none" stroke="#222" stroke-width="2.5"/>
<circle cx="289.1" cy="1762.4" r="12.3" fill="url(#spk)"/>
<circle cx="296.6" cy="1751.6" r="12.3" fill="url(#spk)"/>
<circle cx="304.0" cy="1739.2" r="12.3" fill="url(#spk)"/>
<circle cx="311.5" cy="1726.5" r="12.3" fill="url(#spk)"/>
<circle cx="319.0" cy="1713.8" r="12.3" fill="url(#spk)"/>
<circle cx="326.4" cy="1701.0" r="12.3" fill="url(#spk)"/>
<circle cx="333.9" cy="1687.5" r="12.3" fill="url(#spk)"/>
<circle cx="341.4" cy="1672.9" r="12.3" fill="url(#spk)"/>
<circle cx="348.9" cy="1660.2" r="12.3" fill="url(#spk)"/>
<circle cx="356.3" cy="1666.4" r="12.3" fill="url(#spk)"/>
<circle cx="363.8" cy="1664.0" r="12.3" fill="url(#spk)"/>
<circle cx="371.3" cy="1654.1" r="12.3" fill="url(#spk)"/>
<circle cx="378.7" cy="1646.4" r="12.3" fill="url(#spk)"/>
<circle cx="386.2" cy="1638.7" r="12.3" fill="url(#spk)"/>
<circle cx="393.7" cy="1635.2" r="12.3" fill="url(#spk)"/>
<circle cx="401.1" cy="1632.1" r="12.3" fill="url(#spk)"/>
<circle cx="408.6" cy="1630.3" r="12.3" fill="url(#spk)"/>
<circle cx="416.1" cy="1626.3" r="12.3" fill="url(#spk)"/>
<circle cx="423.5" cy="1615.4" r="12.3" fill="url(#spk)"/>
<circle cx="431.0" cy="1600.9" r="12.3" fill="url(#spk)"/>
<circle cx="438.5" cy="1587.2" r="12.3" fill="url(#spk)"/>
<circle cx="445.9" cy="1575.2" r="12.3" fill="url(#spk)"/>
<circle cx="453.4" cy="1565.6" r="12.3" fill="url(#spk)"/>
<circle cx="460.9" cy="1561.2" r="12.3" fill="url(#spk)"/>
<circle cx="468.3" cy="1561.0" r="12.3" fill="url(#spk)"/>
<circle cx="475.8" cy="1564.0" r="12.3" fill="url(#spk)"/>
<circle cx="483.3" cy="1566.5" r="12.3" fill="url(#spk)"/>
<circle cx="490.7" cy="1565.3" r="12.3" fill="url(#spk)"/>
<circle cx="498.2" cy="1558.5" r="12.3" fill="url(#spk)"/>
<circle cx="505.7" cy="1544.1" r="12.3" fill="url(#spk)"/>
<circle cx="513.1" cy="1524.3" r="12.3" fill="url(#spk)"/>
<circle cx="520.6" cy="1506.2" r="12.3" fill="url(#spk)"/>
<circle cx="528.1" cy="1485.9" r="12.3" fill="url(#spk)"/>
<circle cx="535.5" cy="1464.4" r="12.3" fill="url(#spk)"/>
<circle cx="543.0" cy="1444.9" r="12.3" fill="url(#spk)"/>
<circle cx="550.5" cy="1429.7" r="12.3" fill="url(#spk)"/>
<circle cx="557.9" cy="1414.5" r="12.3" fill="url(#spk)"/>
<circle cx="565.4" cy="1403.0" r="12.3" fill="url(#spk)"/>
<circle cx="572.9" cy="1395.6" r="12.3" fill="url(#spk)"/>
<circle cx="580.3" cy="1392.1" r="12.3" fill="url(#spk)"/>
<circle cx="587.8" cy="1389.7" r="12.3" fill="url(#spk)"/>
<circle cx="595.3" cy="1389.3" r="12.3" fill="url(#spk)"/>
<circle cx="602.7" cy="1390.5" r="12.3" fill="url(#spk)"/>
<circle cx="610.2" cy="1394.4" r="12.3" fill="url(#spk)"/>
<circle cx="617.7" cy="1399.5" r="12.3" fill="url(#spk)"/>
<circle cx="625.1" cy="1410.1" r="12.3" fill="url(#spk)"/>
<circle cx="632.6" cy="1426.5" r="12.3" fill="url(#spk)"/>
<circle cx="640.1" cy="1445.2" r="12.3" fill="url(#spk)"/>
<circle cx="647.5" cy="1468.4" r="12.3" fill="url(#spk)"/>
<circle cx="655.0" cy="1510.7" r="12.3" fill="url(#spk)"/>
<circle cx="662.5" cy="1566.0" r="12.3" fill="url(#spk)"/>
<circle cx="669.9" cy="1614.3" r="12.3" fill="url(#spk)"/>
<circle cx="677.4" cy="1669.1" r="12.3" fill="url(#spk)"/>
<circle cx="684.9" cy="1725.1" r="12.3" fill="url(#spk)"/>
<circle cx="692.3" cy="1777.6" r="12.3" fill="url(#spk)"/>
<circle cx="699.8" cy="1822.0" r="12.3" fill="url(#spk)"/>
<circle cx="707.3" cy="1857.4" r="12.3" fill="url(#spk)"/>
<circle cx="714.8" cy="1883.8" r="12.3" fill="url(#spk)"/>
<circle cx="722.2" cy="1902.0" r="12.3" fill="url(#spk)"/>
<circle cx="729.7" cy="1915.5" r="12.3" fill="url(#spk)"/>
<circle cx="737.2" cy="1925.8" r="12.3" fill="url(#spk)"/>
<circle cx="744.6" cy="1933.3" r="12.3" fill="url(#spk)"/>
<circle cx="752.1" cy="1938.8" r="12.3" fill="url(#spk)"/>
<circle cx="759.6" cy="1943.1" r="12.3" fill="url(#spk)"/>
<circle cx="767.0" cy="1946.3" r="12.3" fill="url(#spk)"/>
<circle cx="774.5" cy="1948.2" r="12.3" fill="url(#spk)"/>
<circle cx="782.0" cy="1950.1" r="12.3" fill="url(#spk)"/>
<circle cx="789.4" cy="1951.6" r="12.3" fill="url(#spk)"/>
<circle cx="796.9" cy="1952.9" r="12.3" fill="url(#spk)"/>
<circle cx="804.4" cy="1953.6" r="12.3" fill="url(#spk)"/>
<circle cx="811.8" cy="1954.3" r="12.3" fill="url(#spk)"/>
<circle cx="819.3" cy="1955.0" r="12.3" fill="url(#spk)"/>
<circle cx="826.8" cy="1955.7" r="12.3" fill="url(#spk)"/>
<circle cx="834.2" cy="1956.0" r="12.3" fill="url(#spk)"/>
<circle cx="841.7" cy="1956.2" r="12.3" fill="url(#spk)"/>
<circle cx="849.2" cy="1956.5" r="12.3" fill="url(#spk)"/>
<circle cx="856.6" cy="1956.8" r="12.3" fill="url(#spk)"/>
<circle cx="864.1" cy="1957.1" r="12.3" fill="url(#spk)"/>
<circle cx="871.6" cy="1957.4" r="12.3" fill="url(#spk)"/>
<circle cx="879.0" cy="1957.7" r="12.3" fill="url(#spk)"/>
<circle cx="886.5" cy="1957.9" r="12.3" fill="url(#spk)"/>
<circle cx="894.0" cy="1958.0" r="12.3" fill="url(#spk)"/>
<circle cx="901.4" cy="1958.0" r="12.3" fill="url(#spk)"/>
<circle cx="908.9" cy="1958.0" r="12.3" fill="url(#spk)"/>
<circle cx="916.4" cy="1958.0" r="12.3" fill="url(#spk)"/>
<circle cx="923.8" cy="1958.1" r="12.3" fill="url(#spk)"/>
<circle cx="931.3" cy="1958.1" r="12.3" fill="url(#spk)"/>
<circle cx="938.8" cy="1958.1" r="12.3" fill="url(#spk)"/>
<circle cx="946.2" cy="1958.2" r="12.3" fill="url(#spk)"/>
<circle cx="953.7" cy="1958.2" r="12.3" fill="url(#spk)"/>
<circle cx="961.2" cy="1958.2" r="12.3" fill="url(#spk)"/>
<circle cx="968.6" cy="1958.2" r="12.3" fill="url(#spk)"/>
<circle cx="976.1" cy="1958.3" r="12.3" fill="url(#spk)"/>
<circle cx="983.6" cy="1958.3" r="12.3" fill="url(#spk)"/>
<circle cx="991.0" cy="1958.3" r="12.3" fill="url(#spk)"/>
<circle cx="998.5" cy="1958.3" r="12.3" fill="url(#spk)"/>
<circle cx="1006.0" cy="1958.4" r="12.3" fill="url(#spk)"/>
<circle cx="1013.4" cy="1958.4" r="12.3" fill="url(#spk)"/>
<circle cx="1020.9" cy="1958.4" r="12.3" fill="url(#spk)"/>
<circle cx="1028.4" cy="1958.5" r="12.3" fill="url(#spk)"/>
<circle cx="1035.8" cy="1958.5" r="12.3" fill="url(#spk)"/>
<circle cx="1043.3" cy="1958.5" r="12.3" fill="url(#spk)"/>
<circle cx="1050.8" cy="1958.5" r="12.3" fill="url(#spk)"/>
<circle cx="1058.3" cy="1958.6" r="12.3" fill="url(#spk)"/>
<circle cx="1065.7" cy="1958.6" r="12.3" fill="url(#spk)"/>
<circle cx="1073.2" cy="1958.6" r="12.3" fill="url(#spk)"/>
<circle cx="1080.7" cy="1958.7" r="12.3" fill="url(#spk)"/>
<circle cx="1088.1" cy="1958.7" r="12.3" fill="url(#spk)"/>
<circle cx="1095.6" cy="1958.7" r="12.3" fill="url(#spk)"/>
<circle cx="1103.1" cy="1958.7" r="12.3" fill="url(#spk)"/>
<circle cx="1110.5" cy="1958.8" r="12.3" fill="url(#spk)"/>
<circle cx="1118.0" cy="1958.8" r="12.3" fill="url(#spk)"/>
<circle cx="1125.5" cy="1958.8" r="12.3" fill="url(#spk)"/>
<circle cx="1132.9" cy="1958.9" r="12.3" fill="url(#spk)"/>
<circle cx="1140.4" cy="1958.9" r="12.3" fill="url(#spk)"/>
<circle cx="1147.9" cy="1958.9" r="12.3" fill="url(#spk)"/>
<circle cx="1155.3" cy="1958.9" r="12.3" fill="url(#spk)"/>
<circle cx="1162.8" cy="1959.0" r="12.3" fill="url(#spk)"/>
<circle cx="1170.3" cy="1959.0" r="12.3" fill="url(#spk)"/>
<circle cx="1177.7" cy="1959.0" r="12.3" fill="url(#spk)"/>
<circle cx="1185.2" cy="1959.1" r="12.3" fill="url(#spk)"/>
<rect x="284" y="1276.7" width="904" height="711.8" fill="none" stroke="#333" stroke-width="4.2"/>
<line x1="270.0" y1="1960.2" x2="284.0" y2="1960.2" stroke="#333" stroke-width="3.6" />
<line x1="276.0" y1="1903.3" x2="284.0" y2="1903.3" stroke="#333" stroke-width="3.6" />
<line x1="270.0" y1="1846.3" x2="284.0" y2="1846.3" stroke="#333" stroke-width="3.6" />
<line x1="276.0" y1="1789.4" x2="284.0" y2="1789.4" stroke="#333" stroke-width="3.6" />
<line x1="270.0" y1="1732.5" x2="284.0" y2="1732.5" stroke="#333" stroke-width="3.6" />
<line x1="276.0" y1="1675.6" x2="284.0" y2="1675.6" stroke="#333" stroke-width="3.6" />
<line x1="270.0" y1="1618.6" x2="284.0" y2="1618.6" stroke="#333" stroke-width="3.6" />
<line x1="276.0" y1="1561.7" x2="284.0" y2="1561.7" stroke="#333" stroke-width="3.6" />
<line x1="270.0" y1="1504.8" x2="284.0" y2="1504.8" stroke="#333" stroke-width="3.6" />
<line x1="276.0" y1="1447.8" x2="284.0" y2="1447.8" stroke="#333" stroke-width="3.6" />
<line x1="270.0" y1="1390.9" x2="284.0" y2="1390.9" stroke="#333" stroke-width="3.6" />
<line x1="276.0" y1="1334.0" x2="284.0" y2="1334.0" stroke="#333" stroke-width="3.6" />
<line x1="270.0" y1="1277.0" x2="284.0" y2="1277.0" stroke="#333" stroke-width="3.6" />
<line x1="284.6" y1="1988.5" x2="284.6" y2="2002.5" stroke="#333" stroke-width="3.6" />
<line x1="359.8" y1="1988.5" x2="359.8" y2="1996.5" stroke="#333" stroke-width="3.6" />
<line x1="435.0" y1="1988.5" x2="435.0" y2="2002.5" stroke="#333" stroke-width="3.6" />
<line x1="510.2" y1="1988.5" x2="510.2" y2="1996.5" stroke="#333" stroke-width="3.6" />
<line x1="585.4" y1="1988.5" x2="585.4" y2="2002.5" stroke="#333" stroke-width="3.6" />
<line x1="660.6" y1="1988.5" x2="660.6" y2="1996.5" stroke="#333" stroke-width="3.6" />
<line x1="735.8" y1="1988.5" x2="735.8" y2="2002.5" stroke="#333" stroke-width="3.6" />
<line x1="811.0" y1="1988.5" x2="811.0" y2="1996.5" stroke="#333" stroke-width="3.6" />
<line x1="886.2" y1="1988.5" x2="886.2" y2="2002.5" stroke="#333" stroke-width="3.6" />
<line x1="961.4" y1="1988.5" x2="961.4" y2="1996.5" stroke="#333" stroke-width="3.6" />
<line x1="1036.6" y1="1988.5" x2="1036.6" y2="2002.5" stroke="#333" stroke-width="3.6" />
<line x1="1111.8" y1="1988.5" x2="1111.8" y2="1996.5" stroke="#333" stroke-width="3.6" />
<line x1="1187.0" y1="1988.5" x2="1187.0" y2="2002.5" stroke="#333" stroke-width="3.6" />
<text x="253.5" y="1971.0" font-size="38.0" text-anchor="end" fill="#222" stroke="#222" stroke-width="0.9" >0.0</text>
<text x="253.5" y="1857.1" font-size="38.0" text-anchor="end" fill="#222" stroke="#222" stroke-width="0.9" >0.2</text>
<text x="253.5" y="1743.3" font-size="38.0" text-anchor="end" fill="#222" stroke="#222" stroke-width="0.9" >0.4</text>
<text x="253.5" y="1629.4" font-size="38.0" text-anchor="end" fill="#222" stroke="#222" stroke-width="0.9" >0.6</text>
<text x="253.5" y="1515.6" font-size="38.0" text-anchor="end" fill="#222" stroke="#222" stroke-width="0.9" >0.8</text>
<text x="253.5" y="1401.7" font-size="38.0" text-anchor="end" fill="#222" stroke="#222" stroke-width="0.9" >1.0</text>
<text x="253.5" y="1287.8" font-size="38.0" text-anchor="end" fill="#222" stroke="#222" stroke-width="0.9" >1.2</text>
<text x="283.6" y="2046.0" font-size="38.0" text-anchor="middle" fill="#222" stroke="#222" stroke-width="0.9" >400</text>
<text x="434.0" y="2046.0" font-size="38.0" text-anchor="middle" fill="#222" stroke="#222" stroke-width="0.9" >500</text>
<text x="584.4" y="2046.0" font-size="38.0" text-anchor="middle" fill="#222" stroke="#222" stroke-width="0.9" >600</text>
<text x="734.8" y="2046.0" font-size="38.0" text-anchor="middle" fill="#222" stroke="#222" stroke-width="0.9" >700</text>
<text x="885.2" y="2046.0" font-size="38.0" text-anchor="middle" fill="#222" stroke="#222" stroke-width="0.9" >800</text>
<text x="1035.6" y="2046.0" font-size="38.0" text-anchor="middle" fill="#222" stroke="#222" stroke-width="0.9" >900</text>
<text x="1186.0" y="2046.0" font-size="38.0" text-anchor="middle" fill="#222" stroke="#222" stroke-width="0.9" >1000</text>
<text x="686.5" y="2116.7" font-size="39.2" text-anchor="middle" fill="#222" stroke="#222" stroke-width="0.9" >Wavelength (nm)</text>
<text transform="translate(157.5,1653.0) rotate(-90)" font-size="39.2" text-anchor="middle" fill="#222" stroke="#222" stroke-width="0.9" >Photocurrent (a.u.)</text>
<line x1="877.0" y1="1324.0" x2="975.0" y2="1324.0" stroke="#222" stroke-width="2.5" />
<circle cx="926.8" cy="1324.0" r="11.3" fill="url(#spk)"/>
<text x="992.0" y="1335.6" font-size="36.0" text-anchor="start" fill="#222" stroke="#222" stroke-width="0.9" >M-WS<tspan font-size="23" dy="9">2</tspan><tspan dy="-9">/Te</tspan></text>
<text x="565.0" y="1355.0" font-size="38.7" text-anchor="start" fill="#f0323c" stroke="#f0323c" stroke-width="0.9" >610</text>
<text x="428.7" y="1526.5" font-size="39.1" text-anchor="start" fill="#f0323c" stroke="#f0323c" stroke-width="0.9" >520</text>
<polyline points="1504.5,1963.7 1507.7,1963.7 1510.8,1963.7 1514.0,1963.7 1517.2,1963.7 1520.4,1963.7 1523.5,1963.7 1526.7,1963.7 1529.9,1963.7 1533.1,1963.7 1536.2,1963.7 1539.4,1963.7 1542.6,1963.7 1545.8,1963.7 1548.9,1963.7 1552.1,1963.7 1555.3,1963.7 1558.4,1963.7 1561.6,1963.7 1564.8,1963.7 1568.0,1963.7 1571.1,1963.7 1574.3,1963.7 1577.5,1963.7 1580.7,1963.7 1583.8,1963.7 1587.0,1963.7 1590.2,1963.7 1593.3,1963.7 1596.5,1963.7 1599.7,1963.7 1602.9,1963.7 1606.0,1963.7 1609.2,1963.7 1612.4,1963.7 1615.6,1963.7 1618.7,1963.7 1621.9,1963.7 1625.1,1963.7 1628.3,1963.7 1631.4,1963.7 1634.6,1963.7 1637.8,1963.7 1640.9,1963.7 1644.1,1963.7 1647.3,1963.7 1650.5,1963.7 1653.6,1963.7 1656.8,1963.7 1660.0,1963.7 1663.2,1963.7 1666.3,1963.7 1669.5,1963.7 1672.7,1963.7 1675.9,1963.7 1679.0,1963.7 1682.2,1963.7 1685.4,1963.7 1688.5,1963.7 1691.7,1963.7 1694.9,1963.7 1698.1,1963.7 1701.2,1963.7 1704.4,1963.7 1707.6,1963.7 1710.8,1963.7 1713.9,1963.7 1717.1,1963.7 1720.3,1963.7 1723.5,1963.7 1726.6,1963.7 1729.8,1963.7 1733.0,1963.7 1736.1,1963.7 1739.3,1963.7 1742.5,1963.7 1745.7,1963.7 1748.8,1963.7 1752.0,1963.7 1755.2,1963.7 1758.4,1963.7 1761.5,1963.7 1764.7,1963.7 1767.9,1963.7 1771.0,1963.7 1774.2,1963.7 1777.4,1963.7 1780.6,1963.7 1783.7,1963.7 1786.9,1963.7 1790.1,1963.7 1793.3,1963.7 1796.4,1963.7 1799.6,1963.7 1802.8,1963.7 1806.0,1963.7 1809.1,1963.7 1812.3,1963.7 1815.5,1963.7 1818.6,1963.7 1821.8,1963.7 1825.0,1963.7 1828.2,1963.7 1831.3,1963.7 1834.5,1963.7 1837.7,1963.7 1840.9,1963.7 1844.0,1963.7 1847.2,1963.7 1850.4,1963.7 1853.6,1963.7 1856.7,1963.7 1859.9,1963.7 1863.1,1963.7 1866.2,1963.7 1869.4,1963.7 1872.6,1963.7 1875.8,1963.7 1878.9,1963.7 1882.1,1963.7 1885.3,1963.7 1888.5,1963.7 1891.6,1963.7 1894.8,1963.7 1898.0,1963.7 1901.1,1963.7 1904.3,1963.7 1907.5,1963.7 1910.7,1963.7 1913.8,1963.7 1917.0,1963.7 1920.2,1963.7 1923.4,1963.7 1926.5,1963.7 1929.7,1963.7 1932.9,1963.7 1936.1,1963.7 1939.2,1963.7 1942.4,1963.7 1945.6,1963.7 1948.7,1963.7 1951.9,1963.7 1955.1,1963.7 1958.3,1963.7 1961.4,1963.7 1964.6,1963.7 1967.8,1963.7 1971.0,1963.7 1974.1,1963.7 1977.3,1963.7 1980.5,1963.7 1983.7,1963.7 1986.8,1963.7 1990.0,1963.7 1993.2,1963.7 1996.3,1963.7 1999.5,1963.7 2002.7,1963.7 2005.9,1963.7 2009.0,1963.7 2012.2,1963.7 2015.4,1963.7 2018.6,1963.7 2021.7,1963.7 2024.9,1963.7 2028.1,1963.7 2031.3,1963.7 2034.4,1963.7 2037.6,1963.7 2040.8,1963.7 2043.9,1963.7 2047.1,1963.7 2050.3,1963.7 2053.5,1963.7 2056.6,1963.7 2059.8,1963.7 2063.0,1963.7 2066.2,1963.7 2069.3,1963.7 2072.5,1963.7 2075.7,1963.7 2078.8,1963.7 2082.0,1963.7 2085.2,1963.7 2088.4,1963.7 2091.5,1963.7 2094.7,1963.7 2097.9,1963.7 2101.1,1963.7 2104.2,1963.7 2107.4,1963.7 2110.6,1963.7 2113.8,1963.7 2116.9,1963.7 2120.1,1963.7 2123.3,1963.7 2126.4,1963.7 2129.6,1963.7 2132.8,1963.7 2136.0,1963.7 2139.1,1963.7 2142.3,1963.7 2145.5,1963.7 2148.7,1963.7 2151.8,1963.7 2155.0,1963.7 2158.2,1963.7 2161.4,1963.7 2164.5,1963.7 2167.7,1963.7 2170.9,1963.7 2174.0,1963.7 2177.2,1963.7 2180.4,1963.7 2183.6,1963.7 2186.7,1963.7 2189.9,1963.7 2193.1,1963.7 2196.3,1963.7 2199.4,1963.7 2202.6,1963.7 2205.8,1963.7 2208.9,1963.7 2212.1,1963.7 2215.3,1963.7 2218.5,1963.7 2221.6,1963.7 2224.8,1963.7 2228.0,1963.7 2231.2,1963.7 2234.3,1963.7 2237.5,1963.7 2240.7,1963.7 2243.9,1963.7 2247.0,1963.7 2250.2,1963.7 2253.4,1963.7 2256.5,1963.7 2259.7,1963.7 2262.9,1963.7 2266.1,1963.7 2269.2,1963.7 2272.4,1963.7 2275.6,1963.7 2278.8,1963.7 2281.9,1963.7 2285.1,1963.7 2288.3,1963.7 2291.5,1963.7 2294.6,1963.7 2297.8,1963.7 2301.0,1963.7 2304.1,1963.7 2307.3,1963.7 2310.5,1963.7 2313.7,1963.7 2316.8,1963.7 2320.0,1963.7 2323.2,1963.7 2326.4,1963.7" fill="none" stroke="#7a5a55" stroke-width="6" stroke-linejoin="round" stroke-linecap="butt"/>
<polyline points="1504.5,1960.0 1507.7,1960.0 1510.8,1960.0 1514.0,1960.0 1517.2,1959.9 1520.4,1959.9 1523.5,1959.9 1526.7,1959.9 1529.9,1959.9 1533.1,1959.9 1536.2,1959.9 1539.4,1959.9 1542.6,1959.8 1545.8,1959.8 1548.9,1959.8 1552.1,1959.8 1555.3,1959.8 1558.4,1959.8 1561.6,1959.8 1564.8,1959.8 1568.0,1959.7 1571.1,1959.7 1574.3,1959.7 1577.5,1959.7 1580.7,1959.7 1583.8,1959.7 1587.0,1959.7 1590.2,1959.7 1593.3,1959.6 1596.5,1959.6 1599.7,1959.6 1602.9,1959.6 1606.0,1959.6 1609.2,1959.6 1612.4,1959.6 1615.6,1959.6 1618.7,1959.6 1621.9,1959.6 1625.1,1959.6 1628.3,1959.5 1631.4,1959.5 1634.6,1959.5 1637.8,1959.5 1640.9,1959.5 1644.1,1959.5 1647.3,1959.5 1650.5,1959.5 1653.6,1959.5 1656.8,1959.5 1660.0,1959.4 1663.2,1959.4 1666.3,1959.4 1669.5,1959.4 1672.7,1959.4 1675.9,1959.4 1679.0,1959.4 1682.2,1959.4 1685.4,1959.4 1688.5,1959.4 1691.7,1959.4 1694.9,1959.3 1698.1,1959.3 1701.2,1959.3 1704.4,1959.3 1707.6,1959.3 1710.8,1959.3 1713.9,1959.3 1717.1,1959.3 1720.3,1959.3 1723.5,1959.3 1726.6,1959.3 1729.8,1959.2 1733.0,1959.2 1736.1,1959.2 1739.3,1959.2 1742.5,1959.2 1745.7,1959.2 1748.8,1959.2 1752.0,1959.2 1755.2,1959.2 1758.4,1959.2 1761.5,1959.1 1764.7,1959.1 1767.9,1959.1 1771.0,1959.1 1774.2,1959.1 1777.4,1959.1 1780.6,1959.1 1783.7,1959.1 1786.9,1959.1 1790.1,1959.1 1793.3,1959.1 1796.4,1959.0 1799.6,1959.0 1802.8,1959.0 1806.0,1959.0 1809.1,1959.0 1812.3,1959.0 1815.5,1959.0 1818.6,1959.0 1821.8,1959.0 1825.0,1959.0 1828.2,1959.0 1831.3,1958.9 1834.5,1958.9 1837.7,1958.9 1840.9,1958.9 1844.0,1958.9 1847.2,1958.9 1850.4,1958.9 1853.6,1958.9 1856.7,1958.9 1859.9,1958.9 1863.1,1958.8 1866.2,1958.8 1869.4,1958.8 1872.6,1958.8 1875.8,1958.8 1878.9,1958.8 1882.1,1958.8 1885.3,1958.8 1888.5,1958.8 1891.6,1958.8 1894.8,1958.8 1898.0,1958.7 1901.1,1958.7 1904.3,1958.7 1907.5,1958.7 1910.7,1958.7 1913.8,1958.7 1917.0,1958.7 1920.2,1958.7 1923.4,1958.7 1926.5,1958.7 1929.7,1958.7 1932.9,1958.6 1936.1,1958.6 1939.2,1958.6 1942.4,1958.6 1945.6,1958.6 1948.7,1958.6 1951.9,1958.6 1955.1,1958.6 1958.3,1958.6 1961.4,1958.6 1964.6,1958.5 1967.8,1958.5 1971.0,1958.5 1974.1,1958.5 1977.3,1958.5 1980.5,1958.5 1983.7,1958.5 1986.8,1958.5 1990.0,1958.5 1993.2,1958.5 1996.3,1958.5 1999.5,1958.4 2002.7,1958.4 2005.9,1958.4 2009.0,1958.4 2012.2,1958.4 2015.4,1958.4 2018.6,1958.4 2021.7,1958.4 2024.9,1958.4 2028.1,1958.4 2031.3,1958.4 2034.4,1958.3 2037.6,1958.3 2040.8,1958.3 2043.9,1958.3 2047.1,1958.3 2050.3,1958.3 2053.5,1958.3 2056.6,1958.3 2059.8,1958.3 2063.0,1958.3 2066.2,1958.2 2069.3,1958.2 2072.5,1958.2 2075.7,1958.2 2078.8,1958.2 2082.0,1958.2 2085.2,1958.2 2088.4,1958.2 2091.5,1958.2 2094.7,1958.2 2097.9,1958.2 2101.1,1958.1 2104.2,1958.1 2107.4,1958.1 2110.6,1958.1 2113.8,1958.1 2116.9,1958.1 2120.1,1958.1 2123.3,1958.1 2126.4,1958.1 2129.6,1958.1 2132.8,1958.1 2136.0,1958.0 2139.1,1958.0 2142.3,1958.0 2145.5,1958.0 2148.7,1958.0 2151.8,1958.0 2155.0,1958.0 2158.2,1958.0 2161.4,1958.0 2164.5,1958.0 2167.7,1957.9 2170.9,1957.9 2174.0,1957.9 2177.2,1957.9 2180.4,1957.9 2183.6,1957.9 2186.7,1957.9 2189.9,1957.9 2193.1,1957.9 2196.3,1957.9 2199.4,1957.9 2202.6,1957.8 2205.8,1957.8 2208.9,1957.8 2212.1,1957.8 2215.3,1957.8 2218.5,1957.8 2221.6,1957.8 2224.8,1957.8 2228.0,1957.8 2231.2,1957.8 2234.3,1957.8 2237.5,1957.7 2240.7,1957.7 2243.9,1957.7 2247.0,1957.7 2250.2,1957.7 2253.4,1957.7 2256.5,1957.7 2259.7,1957.7 2262.9,1957.7 2266.1,1957.7 2269.2,1957.6 2272.4,1957.6 2275.6,1957.6 2278.8,1957.6 2281.9,1957.6 2285.1,1957.6 2288.3,1957.6 2291.5,1957.6 2294.6,1957.6 2297.8,1957.6 2301.0,1957.6 2304.1,1957.5 2307.3,1957.5 2310.5,1957.5 2313.7,1957.5 2316.8,1957.5 2320.0,1957.5 2323.2,1957.5 2326.4,1957.5" fill="none" stroke="#ee3f45" stroke-width="10" stroke-linejoin="round" stroke-linecap="butt"/>
<polyline points="1504.5,1960.0 1507.7,1960.0 1510.8,1959.9 1514.0,1959.9 1517.2,1959.9 1520.4,1959.8 1523.5,1959.8 1526.7,1959.8 1529.9,1959.7 1533.1,1959.7 1536.2,1959.7 1539.4,1959.6 1542.6,1959.6 1545.8,1959.6 1548.9,1959.5 1552.1,1959.5 1555.3,1959.5 1558.4,1959.4 1561.6,1959.4 1564.8,1959.4 1568.0,1959.4 1571.1,1959.3 1574.3,1959.3 1577.5,1959.3 1580.7,1959.2 1583.8,1959.2 1587.0,1959.1 1590.2,1959.1 1593.3,1959.0 1596.5,1958.9 1599.7,1958.8 1602.9,1958.8 1606.0,1958.7 1609.2,1958.6 1612.4,1958.5 1615.6,1958.5 1618.7,1958.4 1621.9,1958.3 1625.1,1958.2 1628.3,1958.2 1631.4,1958.1 1634.6,1958.0 1637.8,1957.9 1640.9,1957.9 1644.1,1957.8 1647.3,1957.7 1650.5,1957.6 1653.6,1957.6 1656.8,1957.5 1660.0,1957.4 1663.2,1957.3 1666.3,1957.3 1669.5,1957.2 1672.7,1957.1 1675.9,1957.0 1679.0,1957.0 1682.2,1956.9 1685.4,1956.8 1688.5,1956.7 1691.7,1956.7 1694.9,1956.6 1698.1,1956.5 1701.2,1956.4 1704.4,1956.3 1707.6,1956.3 1710.8,1956.2 1713.9,1956.1 1717.1,1956.0 1720.3,1956.0 1723.5,1955.9 1726.6,1955.8 1729.8,1955.7 1733.0,1955.7 1736.1,1955.6 1739.3,1955.5 1742.5,1955.4 1745.7,1955.4 1748.8,1955.3 1752.0,1955.2 1755.2,1955.1 1758.4,1955.1 1761.5,1955.0 1764.7,1954.9 1767.9,1954.8 1771.0,1954.8 1774.2,1954.7 1777.4,1954.6 1780.6,1954.5 1783.7,1954.5 1786.9,1954.4 1790.1,1954.3 1793.3,1954.2 1796.4,1954.2 1799.6,1954.1 1802.8,1954.0 1806.0,1953.9 1809.1,1953.8 1812.3,1953.8 1815.5,1953.7 1818.6,1953.6 1821.8,1953.5 1825.0,1953.5 1828.2,1953.4 1831.3,1953.3 1834.5,1953.2 1837.7,1953.2 1840.9,1953.1 1844.0,1953.0 1847.2,1952.9 1850.4,1952.9 1853.6,1952.8 1856.7,1952.7 1859.9,1952.6 1863.1,1952.6 1866.2,1952.5 1869.4,1952.4 1872.6,1952.3 1875.8,1952.3 1878.9,1952.2 1882.1,1952.1 1885.3,1952.0 1888.5,1952.0 1891.6,1951.9 1894.8,1951.8 1898.0,1951.7 1901.1,1951.7 1904.3,1951.6 1907.5,1951.5 1910.7,1951.4 1913.8,1951.4 1917.0,1951.3 1920.2,1951.2 1923.4,1951.1 1926.5,1951.0 1929.7,1951.0 1932.9,1950.9 1936.1,1950.8 1939.2,1950.7 1942.4,1950.7 1945.6,1950.6 1948.7,1950.5 1951.9,1950.4 1955.1,1950.4 1958.3,1950.3 1961.4,1950.2 1964.6,1950.1 1967.8,1950.1 1971.0,1950.0 1974.1,1949.9 1977.3,1949.8 1980.5,1949.8 1983.7,1949.7 1986.8,1949.6 1990.0,1949.5 1993.2,1949.5 1996.3,1949.4 1999.5,1949.3 2002.7,1949.2 2005.9,1949.2 2009.0,1949.1 2012.2,1949.0 2015.4,1948.9 2018.6,1948.9 2021.7,1948.8 2024.9,1948.7 2028.1,1948.6 2031.3,1948.5 2034.4,1948.5 2037.6,1948.4 2040.8,1948.3 2043.9,1948.2 2047.1,1948.2 2050.3,1948.1 2053.5,1948.0 2056.6,1947.9 2059.8,1947.9 2063.0,1947.8 2066.2,1947.7 2069.3,1947.6 2072.5,1947.6 2075.7,1947.5 2078.8,1947.4 2082.0,1947.3 2085.2,1947.3 2088.4,1947.2 2091.5,1947.1 2094.7,1947.0 2097.9,1947.0 2101.1,1946.9 2104.2,1946.8 2107.4,1946.7 2110.6,1946.7 2113.8,1946.6 2116.9,1946.5 2120.1,1946.4 2123.3,1946.4 2126.4,1946.3 2129.6,1946.2 2132.8,1946.1 2136.0,1946.1 2139.1,1946.0 2142.3,1945.9 2145.5,1945.8 2148.7,1945.7 2151.8,1945.7 2155.0,1945.6 2158.2,1945.5 2161.4,1945.4 2164.5,1945.4 2167.7,1945.3 2170.9,1945.2 2174.0,1945.1 2177.2,1945.1 2180.4,1945.0 2183.6,1944.9 2186.7,1944.8 2189.9,1944.8 2193.1,1944.7 2196.3,1944.6 2199.4,1944.5 2202.6,1944.5 2205.8,1944.4 2208.9,1944.3 2212.1,1944.2 2215.3,1944.2 2218.5,1944.1 2221.6,1944.0 2224.8,1943.9 2228.0,1943.9 2231.2,1943.8 2234.3,1943.7 2237.5,1943.6 2240.7,1943.6 2243.9,1943.5 2247.0,1943.4 2250.2,1943.3 2253.4,1943.2 2256.5,1943.2 2259.7,1943.1 2262.9,1943.0 2266.1,1942.9 2269.2,1942.9 2272.4,1942.8 2275.6,1942.7 2278.8,1942.6 2281.9,1942.6 2285.1,1942.5 2288.3,1942.4 2291.5,1942.3 2294.6,1942.3 2297.8,1942.2 2301.0,1942.1 2304.1,1942.0 2307.3,1942.0 2310.5,1941.9 2313.7,1941.8 2316.8,1941.7 2320.0,1941.7 2323.2,1941.6 2326.4,1941.6" fill="none" stroke="#1c5fca" stroke-width="12" stroke-linejoin="round" stroke-linecap="butt"/>
<polyline points="1504.5,1958.3 1507.7,1958.4 1510.8,1958.5 1514.0,1958.6 1517.2,1958.8 1520.4,1958.9 1523.5,1959.0 1526.7,1959.1 1529.9,1959.2 1533.1,1959.3 1536.2,1959.4 1539.4,1959.5 1542.6,1959.6 1545.8,1959.7 1548.9,1959.8 1552.1,1959.9 1555.3,1959.9 1558.4,1959.8 1561.6,1959.6 1564.8,1959.4 1568.0,1959.3 1571.1,1959.1 1574.3,1958.9 1577.5,1958.8 1580.7,1958.6 1583.8,1958.5 1587.0,1958.3 1590.2,1958.0 1593.3,1957.8 1596.5,1957.5 1599.7,1957.2 1602.9,1957.0 1606.0,1956.7 1609.2,1956.5 1612.4,1956.2 1615.6,1955.9 1618.7,1955.7 1621.9,1955.4 1625.1,1955.2 1628.3,1954.9 1631.4,1954.6 1634.6,1954.4 1637.8,1954.1 1640.9,1953.9 1644.1,1953.6 1647.3,1953.3 1650.5,1953.1 1653.6,1952.8 1656.8,1952.6 1660.0,1952.3 1663.2,1952.0 1666.3,1951.8 1669.5,1951.6 1672.7,1951.4 1675.9,1951.2 1679.0,1951.0 1682.2,1950.8 1685.4,1950.6 1688.5,1950.4 1691.7,1950.2 1694.9,1950.1 1698.1,1949.9 1701.2,1949.7 1704.4,1949.5 1707.6,1949.3 1710.8,1949.1 1713.9,1948.9 1717.1,1948.8 1720.3,1948.6 1723.5,1948.4 1726.6,1948.2 1729.8,1948.0 1733.0,1947.8 1736.1,1947.6 1739.3,1947.5 1742.5,1947.3 1745.7,1947.1 1748.8,1946.9 1752.0,1946.7 1755.2,1946.5 1758.4,1946.3 1761.5,1946.1 1764.7,1946.0 1767.9,1945.8 1771.0,1945.6 1774.2,1945.4 1777.4,1945.2 1780.6,1945.0 1783.7,1944.8 1786.9,1944.7 1790.1,1944.5 1793.3,1944.3 1796.4,1944.1 1799.6,1943.9 1802.8,1943.7 1806.0,1943.5 1809.1,1943.3 1812.3,1943.2 1815.5,1943.0 1818.6,1942.8 1821.8,1942.6 1825.0,1942.4 1828.2,1942.2 1831.3,1942.0 1834.5,1941.9 1837.7,1941.7 1840.9,1941.5 1844.0,1941.3 1847.2,1941.1 1850.4,1940.9 1853.6,1940.7 1856.7,1940.5 1859.9,1940.4 1863.1,1940.2 1866.2,1940.0 1869.4,1939.8 1872.6,1939.6 1875.8,1939.4 1878.9,1939.2 1882.1,1939.1 1885.3,1938.9 1888.5,1938.7 1891.6,1938.5 1894.8,1938.3 1898.0,1938.1 1901.1,1937.9 1904.3,1937.7 1907.5,1937.6 1910.7,1937.4 1913.8,1937.2 1917.0,1937.0 1920.2,1936.8 1923.4,1936.6 1926.5,1936.4 1929.7,1936.3 1932.9,1936.1 1936.1,1935.9 1939.2,1935.7 1942.4,1935.5 1945.6,1935.3 1948.7,1935.1 1951.9,1934.9 1955.1,1934.8 1958.3,1934.6 1961.4,1934.4 1964.6,1934.2 1967.8,1934.0 1971.0,1933.8 1974.1,1933.6 1977.3,1933.5 1980.5,1933.3 1983.7,1933.1 1986.8,1932.9 1990.0,1932.7 1993.2,1932.5 1996.3,1932.3 1999.5,1932.2 2002.7,1932.0 2005.9,1931.8 2009.0,1931.6 2012.2,1931.4 2015.4,1931.2 2018.6,1931.0 2021.7,1930.8 2024.9,1930.7 2028.1,1930.5 2031.3,1930.3 2034.4,1930.1 2037.6,1929.9 2040.8,1929.7 2043.9,1929.5 2047.1,1929.4 2050.3,1929.2 2053.5,1929.0 2056.6,1928.8 2059.8,1928.6 2063.0,1928.4 2066.2,1928.2 2069.3,1928.0 2072.5,1927.9 2075.7,1927.7 2078.8,1927.5 2082.0,1927.3 2085.2,1927.1 2088.4,1926.9 2091.5,1926.7 2094.7,1926.6 2097.9,1926.4 2101.1,1926.2 2104.2,1926.0 2107.4,1925.8 2110.6,1925.6 2113.8,1925.4 2116.9,1925.2 2120.1,1925.1 2123.3,1924.9 2126.4,1924.7 2129.6,1924.5 2132.8,1924.3 2136.0,1924.1 2139.1,1923.9 2142.3,1923.8 2145.5,1923.6 2148.7,1923.4 2151.8,1923.2 2155.0,1923.0 2158.2,1922.8 2161.4,1922.6 2164.5,1922.4 2167.7,1922.3 2170.9,1922.1 2174.0,1921.9 2177.2,1921.7 2180.4,1921.5 2183.6,1921.3 2186.7,1921.1 2189.9,1921.0 2193.1,1920.8 2196.3,1920.6 2199.4,1920.4 2202.6,1920.2 2205.8,1920.0 2208.9,1919.8 2212.1,1919.6 2215.3,1919.5 2218.5,1919.3 2221.6,1919.1 2224.8,1918.9 2228.0,1918.7 2231.2,1918.5 2234.3,1918.3 2237.5,1918.2 2240.7,1918.0 2243.9,1917.8 2247.0,1917.6 2250.2,1917.4 2253.4,1917.2 2256.5,1917.0 2259.7,1916.9 2262.9,1916.7 2266.1,1916.5 2269.2,1916.3 2272.4,1916.1 2275.6,1915.9 2278.8,1915.7 2281.9,1915.5 2285.1,1915.4 2288.3,1915.2 2291.5,1915.0 2294.6,1914.8 2297.8,1914.6 2301.0,1914.4 2304.1,1914.2 2307.3,1914.1 2310.5,1913.9 2313.7,1913.7 2316.8,1913.5 2320.0,1913.3 2323.2,1913.1 2326.4,1913.1" fill="none" stroke="#0c9a5c" stroke-width="13" stroke-linejoin="round" stroke-linecap="butt"/>
<polyline points="1504.5,1956.6 1507.7,1957.0 1510.8,1957.3 1514.0,1957.6 1517.2,1958.0 1520.4,1958.3 1523.5,1958.6 1526.7,1958.9 1529.9,1959.2 1533.1,1959.3 1536.2,1959.4 1539.4,1959.5 1542.6,1959.6 1545.8,1959.7 1548.9,1959.8 1552.1,1959.9 1555.3,1959.9 1558.4,1959.7 1561.6,1959.4 1564.8,1959.2 1568.0,1959.0 1571.1,1958.7 1574.3,1958.5 1577.5,1958.3 1580.7,1958.1 1583.8,1957.8 1587.0,1957.6 1590.2,1957.2 1593.3,1956.8 1596.5,1956.4 1599.7,1956.0 1602.9,1955.6 1606.0,1955.2 1609.2,1954.8 1612.4,1954.4 1615.6,1954.0 1618.7,1953.6 1621.9,1953.2 1625.1,1952.8 1628.3,1952.3 1631.4,1951.6 1634.6,1951.0 1637.8,1950.3 1640.9,1949.7 1644.1,1949.0 1647.3,1948.4 1650.5,1947.7 1653.6,1947.1 1656.8,1946.4 1660.0,1945.8 1663.2,1945.1 1666.3,1944.4 1669.5,1943.7 1672.7,1942.8 1675.9,1941.8 1679.0,1940.9 1682.2,1940.0 1685.4,1939.1 1688.5,1938.1 1691.7,1937.2 1694.9,1936.3 1698.1,1935.4 1701.2,1934.4 1704.4,1933.5 1707.6,1932.6 1710.8,1931.6 1713.9,1930.5 1717.1,1929.5 1720.3,1928.4 1723.5,1927.4 1726.6,1926.3 1729.8,1925.3 1733.0,1924.2 1736.1,1923.2 1739.3,1922.1 1742.5,1921.0 1745.7,1920.0 1748.8,1918.9 1752.0,1917.8 1755.2,1916.6 1758.4,1915.4 1761.5,1914.1 1764.7,1912.9 1767.9,1911.6 1771.0,1910.5 1774.2,1909.5 1777.4,1908.2 1780.6,1907.3 1783.7,1906.1 1786.9,1904.9 1790.1,1903.5 1793.3,1902.5 1796.4,1901.5 1799.6,1899.8 1802.8,1898.8 1806.0,1897.1 1809.1,1895.7 1812.3,1894.8 1815.5,1893.8 1818.6,1892.6 1821.8,1891.2 1825.0,1890.0 1828.2,1888.8 1831.3,1887.6 1834.5,1885.9 1837.7,1885.0 1840.9,1884.0 1844.0,1882.6 1847.2,1881.9 1850.4,1881.0 1853.6,1878.8 1856.7,1877.8 1859.9,1876.6 1863.1,1876.4 1866.2,1875.1 1869.4,1873.4 1872.6,1873.1 1875.8,1871.2 1878.9,1869.5 1882.1,1869.3 1885.3,1867.4 1888.5,1866.2 1891.6,1864.4 1894.8,1863.7 1898.0,1861.9 1901.1,1860.3 1904.3,1860.6 1907.5,1860.2 1910.7,1857.9 1913.8,1855.2 1917.0,1854.6 1920.2,1852.9 1923.4,1850.8 1926.5,1849.6 1929.7,1848.1 1932.9,1846.6 1936.1,1844.8 1939.2,1842.3 1942.4,1841.1 1945.6,1839.4 1948.7,1836.3 1951.9,1836.3 1955.1,1833.7 1958.3,1830.9 1961.4,1830.0 1964.6,1829.1 1967.8,1825.7 1971.0,1825.0 1974.1,1824.1 1977.3,1821.9 1980.5,1818.9 1983.7,1818.7 1986.8,1817.0 1990.0,1815.2 1993.2,1811.4 1996.3,1810.1 1999.5,1806.9 2002.7,1807.1 2005.9,1805.7 2009.0,1802.9 2012.2,1799.5 2015.4,1798.6 2018.6,1798.4 2021.7,1797.9 2024.9,1795.0 2028.1,1794.2 2031.3,1790.1 2034.4,1786.9 2037.6,1787.3 2040.8,1786.4 2043.9,1782.5 2047.1,1780.3 2050.3,1777.5 2053.5,1777.5 2056.6,1777.7 2059.8,1776.2 2063.0,1772.1 2066.2,1771.6 2069.3,1770.2 2072.5,1768.3 2075.7,1766.4 2078.8,1764.6 2082.0,1760.0 2085.2,1760.8 2088.4,1761.3 2091.5,1755.6 2094.7,1752.1 2097.9,1748.7 2101.1,1749.0 2104.2,1745.6 2107.4,1743.1 2110.6,1744.6 2113.8,1741.9 2116.9,1739.0 2120.1,1737.6 2123.3,1736.8 2126.4,1736.7 2129.6,1735.6 2132.8,1734.8 2136.0,1734.4 2139.1,1730.6 2142.3,1729.3 2145.5,1724.9 2148.7,1725.8 2151.8,1720.9 2155.0,1718.5 2158.2,1715.1 2161.4,1712.7 2164.5,1710.7 2167.7,1710.6 2170.9,1712.8 2174.0,1709.4 2177.2,1709.9 2180.4,1708.7 2183.6,1705.4 2186.7,1703.6 2189.9,1702.5 2193.1,1698.3 2196.3,1697.0 2199.4,1697.1 2202.6,1696.8 2205.8,1692.7 2208.9,1691.8 2212.1,1688.9 2215.3,1688.9 2218.5,1689.0 2221.6,1686.5 2224.8,1682.9 2228.0,1683.7 2231.2,1680.1 2234.3,1676.6 2237.5,1674.6 2240.7,1672.7 2243.9,1675.5 2247.0,1673.1 2250.2,1669.9 2253.4,1671.9 2256.5,1671.1 2259.7,1670.1 2262.9,1667.6 2266.1,1666.1 2269.2,1664.4 2272.4,1661.2 2275.6,1663.0 2278.8,1663.1 2281.9,1662.1 2285.1,1661.0 2288.3,1660.0 2291.5,1654.0 2294.6,1650.8 2297.8,1652.4 2301.0,1650.5 2304.1,1649.9 2307.3,1648.9 2310.5,1647.5 2313.7,1644.5 2316.8,1642.6 2320.0,1642.2 2323.2,1642.2 2326.4,1641.9" fill="none" stroke="#b583d8" stroke-width="15" stroke-linejoin="round" stroke-linecap="butt"/>
<polyline points="1504.5,1956.6 1507.7,1957.0 1510.8,1957.3 1514.0,1957.6 1517.2,1957.9 1520.4,1958.3 1523.5,1958.6 1526.7,1958.9 1529.9,1959.2 1533.1,1959.3 1536.2,1959.4 1539.4,1959.5 1542.6,1959.6 1545.8,1959.7 1548.9,1959.8 1552.1,1959.9 1555.3,1959.9 1558.4,1959.6 1561.6,1959.4 1564.8,1959.2 1568.0,1958.9 1571.1,1958.7 1574.3,1958.5 1577.5,1958.2 1580.7,1958.0 1583.8,1957.8 1587.0,1957.5 1590.2,1957.0 1593.3,1956.6 1596.5,1956.2 1599.7,1955.7 1602.9,1955.3 1606.0,1954.9 1609.2,1954.5 1612.4,1954.0 1615.6,1953.6 1618.7,1953.2 1621.9,1952.7 1625.1,1952.3 1628.3,1951.8 1631.4,1951.1 1634.6,1950.3 1637.8,1949.6 1640.9,1948.9 1644.1,1948.1 1647.3,1947.4 1650.5,1946.7 1653.6,1946.0 1656.8,1945.2 1660.0,1944.5 1663.2,1943.8 1666.3,1943.1 1669.5,1942.2 1672.7,1941.2 1675.9,1940.1 1679.0,1939.0 1682.2,1938.0 1685.4,1936.9 1688.5,1935.8 1691.7,1934.8 1694.9,1933.7 1698.1,1932.6 1701.2,1931.6 1704.4,1930.5 1707.6,1929.4 1710.8,1928.3 1713.9,1927.0 1717.1,1925.7 1720.3,1924.4 1723.5,1923.2 1726.6,1921.9 1729.8,1920.6 1733.0,1919.4 1736.1,1918.1 1739.3,1916.8 1742.5,1915.5 1745.7,1914.3 1748.8,1913.0 1752.0,1911.6 1755.2,1910.0 1758.4,1908.6 1761.5,1907.0 1764.7,1905.2 1767.9,1903.8 1771.0,1902.1 1774.2,1900.8 1777.4,1899.0 1780.6,1897.3 1783.7,1895.7 1786.9,1894.2 1790.1,1892.8 1793.3,1891.1 1796.4,1889.2 1799.6,1888.3 1802.8,1887.3 1806.0,1885.1 1809.1,1882.9 1812.3,1881.6 1815.5,1880.3 1818.6,1878.4 1821.8,1877.6 1825.0,1876.4 1828.2,1875.2 1831.3,1873.0 1834.5,1871.5 1837.7,1870.1 1840.9,1867.4 1844.0,1864.5 1847.2,1863.7 1850.4,1861.4 1853.6,1860.1 1856.7,1857.3 1859.9,1855.7 1863.1,1855.0 1866.2,1854.0 1869.4,1853.3 1872.6,1850.7 1875.8,1848.7 1878.9,1847.6 1882.1,1845.5 1885.3,1843.7 1888.5,1840.3 1891.6,1839.9 1894.8,1835.7 1898.0,1834.5 1901.1,1832.6 1904.3,1831.2 1907.5,1828.2 1910.7,1825.7 1913.8,1824.6 1917.0,1823.1 1920.2,1820.1 1923.4,1816.8 1926.5,1816.0 1929.7,1813.0 1932.9,1809.2 1936.1,1808.4 1939.2,1808.2 1942.4,1807.0 1945.6,1802.8 1948.7,1799.7 1951.9,1795.4 1955.1,1792.5 1958.3,1793.2 1961.4,1792.9 1964.6,1791.4 1967.8,1789.9 1971.0,1785.1 1974.1,1780.4 1977.3,1776.5 1980.5,1777.2 1983.7,1772.8 1986.8,1772.8 1990.0,1771.1 1993.2,1767.1 1996.3,1768.1 1999.5,1767.5 2002.7,1761.3 2005.9,1760.4 2009.0,1758.4 2012.2,1754.7 2015.4,1751.0 2018.6,1752.6 2021.7,1750.1 2024.9,1747.0 2028.1,1743.8 2031.3,1743.1 2034.4,1738.8 2037.6,1732.6 2040.8,1732.4 2043.9,1730.1 2047.1,1731.1 2050.3,1729.4 2053.5,1724.3 2056.6,1724.9 2059.8,1717.8 2063.0,1712.7 2066.2,1715.5 2069.3,1708.9 2072.5,1709.1 2075.7,1704.7 2078.8,1701.3 2082.0,1702.4 2085.2,1698.6 2088.4,1695.6 2091.5,1691.6 2094.7,1693.0 2097.9,1688.5 2101.1,1683.1 2104.2,1681.6 2107.4,1680.9 2110.6,1683.1 2113.8,1679.9 2116.9,1678.3 2120.1,1673.2 2123.3,1669.7 2126.4,1667.6 2129.6,1668.8 2132.8,1664.3 2136.0,1660.9 2139.1,1661.9 2142.3,1655.1 2145.5,1652.4 2148.7,1654.5 2151.8,1647.5 2155.0,1649.5 2158.2,1647.8 2161.4,1642.6 2164.5,1639.9 2167.7,1637.8 2170.9,1634.9 2174.0,1634.0 2177.2,1633.8 2180.4,1633.9 2183.6,1633.9 2186.7,1627.3 2189.9,1622.4 2193.1,1620.6 2196.3,1616.9 2199.4,1617.2 2202.6,1617.2 2205.8,1615.3 2208.9,1609.0 2212.1,1611.8 2215.3,1608.3 2218.5,1607.7 2221.6,1601.8 2224.8,1601.3 2228.0,1600.2 2231.2,1598.0 2234.3,1594.6 2237.5,1589.8 2240.7,1589.9 2243.9,1584.8 2247.0,1587.6 2250.2,1587.0 2253.4,1587.3 2256.5,1586.5 2259.7,1579.4 2262.9,1575.2 2266.1,1576.7 2269.2,1576.7 2272.4,1573.9 2275.6,1568.6 2278.8,1564.3 2281.9,1561.7 2285.1,1560.7 2288.3,1563.3 2291.5,1561.7 2294.6,1561.7 2297.8,1558.0 2301.0,1554.8 2304.1,1555.4 2307.3,1554.4 2310.5,1548.5 2313.7,1550.9 2316.8,1544.7 2320.0,1539.6 2323.2,1535.5 2326.4,1538.8" fill="none" stroke="#cf970d" stroke-width="15" stroke-linejoin="round" stroke-linecap="butt"/>
<polyline points="1504.5,1956.6 1507.7,1957.0 1510.8,1957.3 1514.0,1957.6 1517.2,1957.9 1520.4,1958.3 1523.5,1958.6 1526.7,1958.9 1529.9,1959.2 1533.1,1959.3 1536.2,1959.4 1539.4,1959.5 1542.6,1959.6 1545.8,1959.7 1548.9,1959.8 1552.1,1959.9 1555.3,1959.9 1558.4,1959.6 1561.6,1959.4 1564.8,1959.2 1568.0,1958.9 1571.1,1958.7 1574.3,1958.4 1577.5,1958.2 1580.7,1958.0 1583.8,1957.7 1587.0,1957.4 1590.2,1957.0 1593.3,1956.6 1596.5,1956.1 1599.7,1955.7 1602.9,1955.2 1606.0,1954.8 1609.2,1954.3 1612.4,1953.9 1615.6,1953.4 1618.7,1953.0 1621.9,1952.6 1625.1,1952.1 1628.3,1951.6 1631.4,1950.8 1634.6,1950.1 1637.8,1949.3 1640.9,1948.6 1644.1,1947.8 1647.3,1947.1 1650.5,1946.3 1653.6,1945.5 1656.8,1944.8 1660.0,1944.0 1663.2,1943.3 1666.3,1942.5 1669.5,1941.6 1672.7,1940.5 1675.9,1939.4 1679.0,1938.3 1682.2,1937.2 1685.4,1936.0 1688.5,1934.9 1691.7,1933.8 1694.9,1932.7 1698.1,1931.6 1701.2,1930.4 1704.4,1929.3 1707.6,1928.2 1710.8,1927.0 1713.9,1925.6 1717.1,1924.3 1720.3,1922.9 1723.5,1921.5 1726.6,1920.2 1729.8,1918.8 1733.0,1917.5 1736.1,1916.1 1739.3,1914.8 1742.5,1913.4 1745.7,1912.1 1748.8,1910.7 1752.0,1909.2 1755.2,1907.5 1758.4,1905.8 1761.5,1904.2 1764.7,1902.6 1767.9,1900.9 1771.0,1899.3 1774.2,1897.5 1777.4,1895.9 1780.6,1894.4 1783.7,1892.5 1786.9,1890.7 1790.1,1888.8 1793.3,1887.4 1796.4,1885.7 1799.6,1884.0 1802.8,1882.6 1806.0,1880.2 1809.1,1878.8 1812.3,1877.5 1815.5,1875.6 1818.6,1874.2 1821.8,1872.0 1825.0,1870.4 1828.2,1869.1 1831.3,1867.8 1834.5,1865.1 1837.7,1863.3 1840.9,1860.6 1844.0,1858.7 1847.2,1855.9 1850.4,1854.6 1853.6,1853.1 1856.7,1851.4 1859.9,1848.4 1863.1,1846.3 1866.2,1844.8 1869.4,1843.6 1872.6,1840.7 1875.8,1837.6 1878.9,1835.8 1882.1,1835.3 1885.3,1834.2 1888.5,1832.5 1891.6,1830.5 1894.8,1828.8 1898.0,1827.0 1901.1,1823.5 1904.3,1819.9 1907.5,1819.0 1910.7,1815.4 1913.8,1813.9 1917.0,1810.8 1920.2,1807.5 1923.4,1804.5 1926.5,1804.6 1929.7,1802.7 1932.9,1799.6 1936.1,1795.5 1939.2,1795.1 1942.4,1793.1 1945.6,1788.9 1948.7,1788.1 1951.9,1785.6 1955.1,1783.3 1958.3,1779.6 1961.4,1775.4 1964.6,1775.0 1967.8,1771.4 1971.0,1768.3 1974.1,1765.0 1977.3,1763.2 1980.5,1759.6 1983.7,1758.8 1986.8,1757.1 1990.0,1755.8 1993.2,1751.6 1996.3,1749.4 1999.5,1748.1 2002.7,1746.7 2005.9,1742.3 2009.0,1739.2 2012.2,1735.9 2015.4,1734.5 2018.6,1732.1 2021.7,1731.3 2024.9,1726.9 2028.1,1726.9 2031.3,1723.5 2034.4,1719.0 2037.6,1715.8 2040.8,1716.0 2043.9,1714.2 2047.1,1708.8 2050.3,1705.8 2053.5,1701.7 2056.6,1698.3 2059.8,1697.7 2063.0,1693.6 2066.2,1691.2 2069.3,1691.1 2072.5,1689.7 2075.7,1689.6 2078.8,1686.4 2082.0,1680.2 2085.2,1680.7 2088.4,1677.1 2091.5,1676.7 2094.7,1675.5 2097.9,1670.3 2101.1,1668.8 2104.2,1668.0 2107.4,1665.7 2110.6,1660.4 2113.8,1656.7 2116.9,1656.9 2120.1,1654.6 2123.3,1647.8 2126.4,1647.4 2129.6,1643.9 2132.8,1641.8 2136.0,1637.3 2139.1,1634.7 2142.3,1631.0 2145.5,1629.4 2148.7,1629.5 2151.8,1628.4 2155.0,1627.3 2158.2,1621.0 2161.4,1620.9 2164.5,1620.4 2167.7,1613.4 2170.9,1613.2 2174.0,1607.8 2177.2,1608.8 2180.4,1606.0 2183.6,1604.9 2186.7,1599.6 2189.9,1596.9 2193.1,1594.3 2196.3,1591.1 2199.4,1587.7 2202.6,1588.0 2205.8,1585.5 2208.9,1584.1 2212.1,1584.4 2215.3,1579.1 2218.5,1576.6 2221.6,1572.9 2224.8,1573.6 2228.0,1570.9 2231.2,1568.8 2234.3,1565.1 2237.5,1565.9 2240.7,1563.8 2243.9,1560.9 2247.0,1561.0 2250.2,1557.3 2253.4,1553.3 2256.5,1552.1 2259.7,1549.2 2262.9,1547.0 2266.1,1547.3 2269.2,1545.8 2272.4,1540.2 2275.6,1540.2 2278.8,1538.8 2281.9,1539.2 2285.1,1537.7 2288.3,1536.4 2291.5,1530.2 2294.6,1527.1 2297.8,1523.6 2301.0,1520.2 2304.1,1519.7 2307.3,1516.6 2310.5,1516.4 2313.7,1516.2 2316.8,1512.0 2320.0,1509.1 2323.2,1506.3 2326.4,1508.2" fill="none" stroke="#12bcc2" stroke-width="16" stroke-linejoin="round" stroke-linecap="butt"/>
<polyline points="1504.5,1956.6 1507.7,1957.0 1510.8,1957.3 1514.0,1957.6 1517.2,1957.9 1520.4,1958.3 1523.5,1958.6 1526.7,1958.9 1529.9,1959.2 1533.1,1959.3 1536.2,1959.4 1539.4,1959.5 1542.6,1959.6 1545.8,1959.7 1548.9,1959.8 1552.1,1959.9 1555.3,1959.9 1558.4,1959.6 1561.6,1959.4 1564.8,1959.1 1568.0,1958.9 1571.1,1958.7 1574.3,1958.4 1577.5,1958.2 1580.7,1957.9 1583.8,1957.7 1587.0,1957.4 1590.2,1957.0 1593.3,1956.5 1596.5,1956.0 1599.7,1955.6 1602.9,1955.1 1606.0,1954.7 1609.2,1954.2 1612.4,1953.8 1615.6,1953.3 1618.7,1952.9 1621.9,1952.4 1625.1,1952.0 1628.3,1951.4 1631.4,1950.6 1634.6,1949.9 1637.8,1949.1 1640.9,1948.3 1644.1,1947.5 1647.3,1946.7 1650.5,1946.0 1653.6,1945.2 1656.8,1944.4 1660.0,1943.6 1663.2,1942.8 1666.3,1942.1 1669.5,1941.2 1672.7,1940.0 1675.9,1938.8 1679.0,1937.6 1682.2,1936.5 1685.4,1935.3 1688.5,1934.1 1691.7,1933.0 1694.9,1931.8 1698.1,1930.6 1701.2,1929.5 1704.4,1928.3 1707.6,1927.1 1710.8,1925.9 1713.9,1924.4 1717.1,1923.0 1720.3,1921.6 1723.5,1920.1 1726.6,1918.7 1729.8,1917.3 1733.0,1915.9 1736.1,1914.4 1739.3,1913.0 1742.5,1911.6 1745.7,1910.1 1748.8,1908.7 1752.0,1907.1 1755.2,1905.2 1758.4,1903.4 1761.5,1901.5 1764.7,1899.7 1767.9,1898.0 1771.0,1896.4 1774.2,1894.8 1777.4,1892.7 1780.6,1890.5 1783.7,1888.4 1786.9,1886.8 1790.1,1884.9 1793.3,1882.8 1796.4,1880.9 1799.6,1879.2 1802.8,1877.8 1806.0,1876.0 1809.1,1874.8 1812.3,1873.3 1815.5,1870.9 1818.6,1868.1 1821.8,1866.5 1825.0,1865.1 1828.2,1863.7 1831.3,1861.9 1834.5,1859.0 1837.7,1857.2 1840.9,1853.9 1844.0,1853.1 1847.2,1851.3 1850.4,1848.8 1853.6,1846.7 1856.7,1843.3 1859.9,1840.5 1863.1,1837.6 1866.2,1836.0 1869.4,1835.9 1872.6,1833.2 1875.8,1830.8 1878.9,1828.7 1882.1,1827.2 1885.3,1823.9 1888.5,1820.4 1891.6,1820.4 1894.8,1817.3 1898.0,1815.7 1901.1,1813.3 1904.3,1809.5 1907.5,1806.0 1910.7,1804.4 1913.8,1804.5 1917.0,1799.9 1920.2,1799.4 1923.4,1797.1 1926.5,1792.5 1929.7,1791.1 1932.9,1789.4 1936.1,1783.9 1939.2,1779.6 1942.4,1779.1 1945.6,1777.3 1948.7,1775.7 1951.9,1774.4 1955.1,1771.9 1958.3,1765.2 1961.4,1765.3 1964.6,1763.4 1967.8,1761.3 1971.0,1759.6 1974.1,1754.9 1977.3,1749.7 1980.5,1745.0 1983.7,1742.5 1986.8,1738.6 1990.0,1740.4 1993.2,1738.5 1996.3,1731.8 1999.5,1732.6 2002.7,1730.6 2005.9,1726.8 2009.0,1724.9 2012.2,1720.7 2015.4,1720.6 2018.6,1718.0 2021.7,1710.2 2024.9,1710.5 2028.1,1703.8 2031.3,1704.2 2034.4,1697.1 2037.6,1694.3 2040.8,1691.7 2043.9,1693.0 2047.1,1693.1 2050.3,1686.4 2053.5,1686.1 2056.6,1684.6 2059.8,1677.4 2063.0,1671.6 2066.2,1674.1 2069.3,1666.6 2072.5,1664.7 2075.7,1663.8 2078.8,1664.4 2082.0,1661.0 2085.2,1652.6 2088.4,1652.9 2091.5,1653.0 2094.7,1651.7 2097.9,1649.9 2101.1,1645.6 2104.2,1637.1 2107.4,1638.4 2110.6,1636.8 2113.8,1628.2 2116.9,1621.6 2120.1,1616.9 2123.3,1619.4 2126.4,1618.6 2129.6,1611.6 2132.8,1610.6 2136.0,1606.8 2139.1,1606.8 2142.3,1608.1 2145.5,1604.7 2148.7,1598.0 2151.8,1592.8 2155.0,1590.5 2158.2,1588.8 2161.4,1586.1 2164.5,1584.4 2167.7,1581.4 2170.9,1576.1 2174.0,1577.4 2177.2,1573.6 2180.4,1567.4 2183.6,1563.5 2186.7,1566.0 2189.9,1559.4 2193.1,1555.7 2196.3,1558.4 2199.4,1557.8 2202.6,1556.9 2205.8,1556.5 2208.9,1547.0 2212.1,1545.6 2215.3,1539.7 2218.5,1541.8 2221.6,1542.7 2224.8,1534.6 2228.0,1529.6 2231.2,1524.0 2234.3,1522.4 2237.5,1521.7 2240.7,1518.1 2243.9,1521.0 2247.0,1517.7 2250.2,1515.8 2253.4,1516.3 2256.5,1511.5 2259.7,1510.3 2262.9,1507.1 2266.1,1505.4 2269.2,1503.9 2272.4,1501.8 2275.6,1497.4 2278.8,1490.7 2281.9,1486.4 2285.1,1483.6 2288.3,1481.3 2291.5,1483.8 2294.6,1478.2 2297.8,1480.2 2301.0,1481.5 2304.1,1478.0 2307.3,1473.0 2310.5,1472.6 2313.7,1468.8 2316.8,1468.8 2320.0,1461.8 2323.2,1461.4 2326.4,1461.7" fill="none" stroke="#7b3b40" stroke-width="16" stroke-linejoin="round" stroke-linecap="butt"/>
<rect x="1504.2" y="1289.7" width="819.8" height="705.5999999999999" fill="none" stroke="#151515" stroke-width="8"/>
<line x1="1491.2" y1="1960.0" x2="1504.2" y2="1960.0" stroke="#151515" stroke-width="5" />
<line x1="1496.2" y1="1876.2" x2="1504.2" y2="1876.2" stroke="#151515" stroke-width="4" />
<text x="1484.0" y="1973.5" font-size="38.0" text-anchor="end" fill="#222" stroke="#222" stroke-width="0.9" >0</text>
<line x1="1491.2" y1="1792.4" x2="1504.2" y2="1792.4" stroke="#151515" stroke-width="5" />
<line x1="1496.2" y1="1708.6" x2="1504.2" y2="1708.6" stroke="#151515" stroke-width="4" />
<text x="1484.0" y="1805.9" font-size="38.0" text-anchor="end" fill="#222" stroke="#222" stroke-width="0.9" >100n</text>
<line x1="1491.2" y1="1624.8" x2="1504.2" y2="1624.8" stroke="#151515" stroke-width="5" />
<line x1="1496.2" y1="1541.0" x2="1504.2" y2="1541.0" stroke="#151515" stroke-width="4" />
<text x="1484.0" y="1638.3" font-size="38.0" text-anchor="end" fill="#222" stroke="#222" stroke-width="0.9" >200n</text>
<line x1="1491.2" y1="1457.3" x2="1504.2" y2="1457.3" stroke="#151515" stroke-width="5" />
<line x1="1496.2" y1="1373.5" x2="1504.2" y2="1373.5" stroke="#151515" stroke-width="4" />
<text x="1484.0" y="1470.8" font-size="38.0" text-anchor="end" fill="#222" stroke="#222" stroke-width="0.9" >300n</text>
<line x1="1491.2" y1="1289.7" x2="1504.2" y2="1289.7" stroke="#151515" stroke-width="5" />
<text x="1484.0" y="1303.2" font-size="38.0" text-anchor="end" fill="#222" stroke="#222" stroke-width="0.9" >400n</text>
<line x1="1504.5" y1="1995.3" x2="1504.5" y2="2008.3" stroke="#151515" stroke-width="6" />
<line x1="1709.3" y1="1995.3" x2="1709.3" y2="2003.3" stroke="#151515" stroke-width="4" />
<line x1="1914.2" y1="1995.3" x2="1914.2" y2="2008.3" stroke="#151515" stroke-width="6" />
<line x1="2119.1" y1="1995.3" x2="2119.1" y2="2003.3" stroke="#151515" stroke-width="4" />
<line x1="2323.9" y1="1995.3" x2="2323.9" y2="2008.3" stroke="#151515" stroke-width="6" />
<text x="1502.0" y="2054.5" font-size="37.5" text-anchor="middle" fill="#222" stroke="#222" stroke-width="0.9" >0.0</text>
<text x="1915.0" y="2054.5" font-size="37.5" text-anchor="middle" fill="#222" stroke="#222" stroke-width="0.9" >0.5</text>
<text x="2329.0" y="2054.5" font-size="37.5" text-anchor="middle" fill="#222" stroke="#222" stroke-width="0.9" >1.0</text>
<text x="1902.7" y="2114.0" font-size="38.0" text-anchor="middle" fill="#222" stroke="#222" stroke-width="0.9" ><tspan font-style="italic">V</tspan><tspan font-size="24" dy="9">sd</tspan><tspan dy="-9"> (V)</tspan></text>
<text transform="translate(1362.0,1632.0) rotate(-90)" font-size="38.0" text-anchor="middle" fill="#222" stroke="#222" stroke-width="0.9" ><tspan font-style="italic">I</tspan><tspan font-size="24" dy="9">sd</tspan><tspan dy="-9"> (A)</tspan></text>
<line x1="1761.0" y1="1315.6" x2="1827.0" y2="1315.6" stroke="#5a5a5a" stroke-width="6.5" stroke-linecap="round"/>
<circle cx="1794.0" cy="1315.6" r="4.6" fill="#fff" fill-opacity="0.6" stroke="#5a5a5a" stroke-width="2.2"/>
<text x="1839.0" y="1325.4" font-size="27.6" text-anchor="start" fill="#333" stroke="#333" stroke-width="1.0" >Dark</text>
<line x1="1761.0" y1="1357.0" x2="1827.0" y2="1357.0" stroke="#1c5fca" stroke-width="8.5" stroke-linecap="round"/>
<circle cx="1794.0" cy="1357" r="4.6" fill="#fff" fill-opacity="0.6" stroke="#1c5fca" stroke-width="2.2"/>
<text x="1839.0" y="1366.8" font-size="27.6" text-anchor="start" fill="#333" stroke="#333" stroke-width="1.0" >0.15 mW cm<tspan font-size="17" dy="-10">−2</tspan></text>
<line x1="1761.0" y1="1398.6" x2="1827.0" y2="1398.6" stroke="#b583d8" stroke-width="9" stroke-linecap="round"/>
<circle cx="1794.0" cy="1398.6" r="4.6" fill="#fff" fill-opacity="0.6" stroke="#b583d8" stroke-width="2.2"/>
<text x="1839.0" y="1408.4" font-size="27.6" text-anchor="start" fill="#333" stroke="#333" stroke-width="1.0" >2.11 mW cm<tspan font-size="17" dy="-10">−2</tspan></text>
<line x1="1761.0" y1="1440.0" x2="1827.0" y2="1440.0" stroke="#12bcc2" stroke-width="12.5" stroke-linecap="round"/>
<circle cx="1794.0" cy="1440" r="4.6" fill="#fff" fill-opacity="0.6" stroke="#12bcc2" stroke-width="2.2"/>
<text x="1839.0" y="1449.8" font-size="27.6" text-anchor="start" fill="#333" stroke="#333" stroke-width="1.0" >34.7 mW cm<tspan font-size="17" dy="-10">−2</tspan></text>
<line x1="2050.0" y1="1315.6" x2="2113.0" y2="1315.6" stroke="#ee3f45" stroke-width="8.5" stroke-linecap="round"/>
<circle cx="2081.5" cy="1315.6" r="4.6" fill="#fff" fill-opacity="0.6" stroke="#ee3f45" stroke-width="2.2"/>
<text x="2125.0" y="1325.4" font-size="27.6" text-anchor="start" fill="#333" stroke="#333" stroke-width="1.0" >0.07 mW cm<tspan font-size="17" dy="-10">−2</tspan></text>
<line x1="2050.0" y1="1352.5" x2="2113.0" y2="1352.5" stroke="#0c9a5c" stroke-width="9" stroke-linecap="round"/>
<circle cx="2081.5" cy="1352.5" r="4.6" fill="#fff" fill-opacity="0.6" stroke="#0c9a5c" stroke-width="2.2"/>
<text x="2125.0" y="1362.3" font-size="27.6" text-anchor="start" fill="#333" stroke="#333" stroke-width="1.0" >0.32 mW cm<tspan font-size="17" dy="-10">−2</tspan></text>
<line x1="2050.0" y1="1394.6" x2="2113.0" y2="1394.6" stroke="#cf970d" stroke-width="8.5" stroke-linecap="round"/>
<circle cx="2081.5" cy="1394.6" r="4.6" fill="#fff" fill-opacity="0.6" stroke="#cf970d" stroke-width="2.2"/>
<text x="2125.0" y="1404.4" font-size="27.6" text-anchor="start" fill="#333" stroke="#333" stroke-width="1.0" >11.6 mW cm<tspan font-size="17" dy="-10">−2</tspan></text>
<line x1="2050.0" y1="1437.0" x2="2113.0" y2="1437.0" stroke="#7b3b40" stroke-width="8.5" stroke-linecap="round"/>
<circle cx="2081.5" cy="1437" r="4.6" fill="#fff" fill-opacity="0.6" stroke="#7b3b40" stroke-width="2.2"/>
<text x="2125.0" y="1446.8" font-size="27.6" text-anchor="start" fill="#333" stroke="#333" stroke-width="1.0" >45.9 mW cm<tspan font-size="17" dy="-10">−2</tspan></text>
<rect x="1573.8" y="1478" width="317.20000000000005" height="272.79999999999995" fill="#fff" stroke="#2a2a2a" stroke-width="4.4"/>
<line x1="1573.8" y1="1724.0" x2="1891.0" y2="1724.0" stroke="#222" stroke-width="5.5" />
<polyline points="1573.8,1724.0 1579.2,1724.0 1584.6,1724.0 1589.9,1724.0 1595.3,1723.4 1600.7,1722.0 1606.1,1720.7 1611.4,1719.4 1616.8,1718.0 1622.2,1716.7 1627.6,1715.3 1632.9,1714.0 1638.3,1712.8 1643.7,1712.1 1649.1,1711.3 1654.4,1710.6 1659.8,1709.9 1665.2,1709.1 1670.6,1708.4 1675.9,1707.7 1681.3,1706.9 1686.7,1706.2 1692.1,1705.5 1697.5,1704.8 1702.8,1704.2 1708.2,1703.7 1713.6,1703.3 1719.0,1702.9 1724.3,1702.5 1729.7,1702.1 1735.1,1701.7 1740.5,1701.2 1745.8,1700.8 1751.2,1700.4 1756.6,1700.0 1762.0,1699.6 1767.3,1699.1 1772.7,1698.7 1778.1,1698.3 1783.5,1697.9 1788.9,1697.5 1794.2,1697.1 1799.6,1696.7 1805.0,1696.3 1810.4,1696.0 1815.7,1695.7 1821.1,1695.3 1826.5,1695.0 1831.9,1694.6 1837.2,1694.3 1842.6,1693.9 1848.0,1693.6 1853.4,1693.2 1858.7,1692.9 1864.1,1692.5 1869.5,1692.2 1874.9,1691.8 1880.2,1691.5 1885.6,1691.1 1891.0,1690.8" fill="none" stroke="#f03a3a" stroke-width="5.6" stroke-linejoin="round"/>
<polyline points="1573.8,1724.0 1579.2,1724.0 1584.6,1724.0 1589.9,1724.0 1595.3,1723.2 1600.7,1721.6 1606.1,1720.0 1611.4,1718.3 1616.8,1716.7 1622.2,1715.1 1627.6,1713.4 1632.9,1711.8 1638.3,1710.1 1643.7,1708.3 1649.1,1706.6 1654.4,1704.8 1659.8,1703.0 1665.2,1701.3 1670.6,1699.5 1675.9,1697.7 1681.3,1695.9 1686.7,1694.2 1692.1,1692.4 1697.5,1690.6 1702.8,1688.9 1708.2,1687.4 1713.6,1685.9 1719.0,1684.4 1724.3,1682.8 1729.7,1681.3 1735.1,1679.8 1740.5,1678.2 1745.8,1676.7 1751.2,1675.2 1756.6,1673.7 1762.0,1672.1 1767.3,1670.6 1772.7,1669.1 1778.1,1667.5 1783.5,1666.0 1788.9,1664.5 1794.2,1663.0 1799.6,1661.6 1805.0,1660.4 1810.4,1659.1 1815.7,1657.9 1821.1,1656.6 1826.5,1655.4 1831.9,1654.1 1837.2,1652.9 1842.6,1651.6 1848.0,1650.4 1853.4,1649.1 1858.7,1647.9 1864.1,1646.6 1869.5,1645.4 1874.9,1644.1 1880.2,1642.9 1885.6,1641.6 1891.0,1640.4" fill="none" stroke="#2a3bbd" stroke-width="5.6" stroke-linejoin="round"/>
<polyline points="1573.8,1724.0 1579.2,1723.7 1584.6,1723.3 1589.9,1723.0 1595.3,1721.7 1600.7,1719.5 1606.1,1717.3 1611.4,1715.0 1616.8,1712.8 1622.2,1710.6 1627.6,1708.3 1632.9,1706.1 1638.3,1703.6 1643.7,1700.1 1649.1,1696.5 1654.4,1693.0 1659.8,1689.4 1665.2,1685.9 1670.6,1682.3 1675.9,1678.8 1681.3,1675.3 1686.7,1671.7 1692.1,1668.2 1697.5,1664.6 1702.8,1661.0 1708.2,1657.3 1713.6,1653.7 1719.0,1650.0 1724.3,1646.3 1729.7,1642.6 1735.1,1638.9 1740.5,1635.2 1745.8,1631.6 1751.2,1627.9 1756.6,1624.2 1762.0,1620.5 1767.3,1616.8 1772.7,1613.1 1778.1,1609.5 1783.5,1605.8 1788.9,1602.1 1794.2,1598.4 1799.6,1595.0 1805.0,1591.6 1810.4,1588.3 1815.7,1585.0 1821.1,1581.6 1826.5,1578.3 1831.9,1575.0 1837.2,1571.6 1842.6,1568.3 1848.0,1565.0 1853.4,1561.6 1858.7,1558.3 1864.1,1554.9 1869.5,1551.6 1874.9,1548.3 1880.2,1544.9 1885.6,1541.6 1891.0,1538.3" fill="none" stroke="#12a83c" stroke-width="5.6" stroke-linejoin="round"/>
<line x1="1573.8" y1="1724.0" x2="1581.8" y2="1724.0" stroke="#222" stroke-width="3" />
<text x="1561.8" y="1733.0" font-size="26.0" text-anchor="end" fill="#333" stroke="#333" stroke-width="1.0" >0</text>
<line x1="1573.8" y1="1601.0" x2="1581.8" y2="1601.0" stroke="#222" stroke-width="3" />
<text x="1561.8" y="1610.0" font-size="26.0" text-anchor="end" fill="#333" stroke="#333" stroke-width="1.0" >10n</text>
<line x1="1573.8" y1="1478.0" x2="1581.8" y2="1478.0" stroke="#222" stroke-width="3" />
<text x="1561.8" y="1487.0" font-size="26.0" text-anchor="end" fill="#333" stroke="#333" stroke-width="1.0" >20n</text>
<line x1="1573.8" y1="1750.8" x2="1573.8" y2="1742.8" stroke="#222" stroke-width="3" />
<line x1="1891.0" y1="1750.8" x2="1891.0" y2="1742.8" stroke="#222" stroke-width="3" />
<text x="1572.8" y="1790.0" font-size="26.0" text-anchor="middle" fill="#333" stroke="#333" stroke-width="1.0" >0.0</text>
<text x="1890.0" y="1790.0" font-size="26.0" text-anchor="middle" fill="#333" stroke="#333" stroke-width="1.0" >0.5</text>
<rect x="1510.5" y="1906.5" width="164" height="79" fill="none" stroke="#151515" stroke-width="4.4" stroke-dasharray="16 6.5"/>
<line x1="1596.0" y1="1901.0" x2="1664.0" y2="1781.0" stroke="#111" stroke-width="4" />
<polygon points="1672.5,1765.0 1670.0,1796.0 1649.0,1784.0" fill="#111" stroke="#111" stroke-width="0.8" />
<line x1="326.5" y1="2843.0" x2="810.4" y2="2288.0" stroke="#2f40ac" stroke-width="3.2" />
<line x1="667.0" y1="2365.0" x2="1155.0" y2="2286.5" stroke="#f23c3c" stroke-width="3.2" />
<circle cx="374.0" cy="2801.0" r="12.5" fill="url(#spk)"/>
<circle cx="458.0" cy="2685.8" r="12.5" fill="url(#spk)"/>
<circle cx="544.0" cy="2577.0" r="12.5" fill="url(#spk)"/>
<circle cx="755.0" cy="2346.7" r="12.5" fill="url(#spk)"/>
<circle cx="856.5" cy="2330.0" r="12.5" fill="url(#spk)"/>
<circle cx="946.0" cy="2313.0" r="12.5" fill="url(#spk)"/>
<circle cx="1023.0" cy="2315.0" r="12.5" fill="url(#spk)"/>
<circle cx="1069.0" cy="2305.0" r="12.5" fill="url(#spk)"/>
<circle cx="1101.0" cy="2294.0" r="12.5" fill="url(#spk)"/>
<rect x="278.6" y="2210" width="910.4" height="775" fill="none" stroke="#333" stroke-width="4"/>
<line x1="264.6" y1="2984.6" x2="278.6" y2="2984.6" stroke="#2a2a2a" stroke-width="3.4" />
<line x1="269.6" y1="2900.5" x2="278.6" y2="2900.5" stroke="#2a2a2a" stroke-width="3.4" />
<line x1="269.6" y1="2851.3" x2="278.6" y2="2851.3" stroke="#2a2a2a" stroke-width="3.4" />
<line x1="269.6" y1="2816.4" x2="278.6" y2="2816.4" stroke="#2a2a2a" stroke-width="3.4" />
<line x1="269.6" y1="2789.4" x2="278.6" y2="2789.4" stroke="#2a2a2a" stroke-width="3.4" />
<line x1="269.6" y1="2767.3" x2="278.6" y2="2767.3" stroke="#2a2a2a" stroke-width="3.4" />
<line x1="269.6" y1="2748.6" x2="278.6" y2="2748.6" stroke="#2a2a2a" stroke-width="3.4" />
<line x1="269.6" y1="2732.4" x2="278.6" y2="2732.4" stroke="#2a2a2a" stroke-width="3.4" />
<line x1="269.6" y1="2718.1" x2="278.6" y2="2718.1" stroke="#2a2a2a" stroke-width="3.4" />
<line x1="264.6" y1="2705.3" x2="278.6" y2="2705.3" stroke="#2a2a2a" stroke-width="3.4" />
<line x1="269.6" y1="2621.2" x2="278.6" y2="2621.2" stroke="#2a2a2a" stroke-width="3.4" />
<line x1="269.6" y1="2572.0" x2="278.6" y2="2572.0" stroke="#2a2a2a" stroke-width="3.4" />
<line x1="269.6" y1="2537.1" x2="278.6" y2="2537.1" stroke="#2a2a2a" stroke-width="3.4" />
<line x1="269.6" y1="2510.1" x2="278.6" y2="2510.1" stroke="#2a2a2a" stroke-width="3.4" />
<line x1="269.6" y1="2488.0" x2="278.6" y2="2488.0" stroke="#2a2a2a" stroke-width="3.4" />
<line x1="269.6" y1="2469.3" x2="278.6" y2="2469.3" stroke="#2a2a2a" stroke-width="3.4" />
<line x1="269.6" y1="2453.1" x2="278.6" y2="2453.1" stroke="#2a2a2a" stroke-width="3.4" />
<line x1="269.6" y1="2438.8" x2="278.6" y2="2438.8" stroke="#2a2a2a" stroke-width="3.4" />
<line x1="264.6" y1="2426.0" x2="278.6" y2="2426.0" stroke="#2a2a2a" stroke-width="3.4" />
<line x1="269.6" y1="2341.9" x2="278.6" y2="2341.9" stroke="#2a2a2a" stroke-width="3.4" />
<line x1="269.6" y1="2292.7" x2="278.6" y2="2292.7" stroke="#2a2a2a" stroke-width="3.4" />
<line x1="269.6" y1="2257.8" x2="278.6" y2="2257.8" stroke="#2a2a2a" stroke-width="3.4" />
<line x1="269.6" y1="2230.8" x2="278.6" y2="2230.8" stroke="#2a2a2a" stroke-width="3.4" />
<line x1="269.6" y1="2341.9" x2="278.6" y2="2341.9" stroke="#2a2a2a" stroke-width="3.4" />
<line x1="269.6" y1="2292.7" x2="278.6" y2="2292.7" stroke="#2a2a2a" stroke-width="3.4" />
<line x1="269.6" y1="2257.8" x2="278.6" y2="2257.8" stroke="#2a2a2a" stroke-width="3.4" />
<line x1="269.6" y1="2230.8" x2="278.6" y2="2230.8" stroke="#2a2a2a" stroke-width="3.4" />
<text x="256.0" y="2439.0" font-size="38.0" text-anchor="end" fill="#222" stroke="#222" stroke-width="0.9" >1E-7</text>
<text x="256.0" y="2718.3" font-size="38.0" text-anchor="end" fill="#222" stroke="#222" stroke-width="0.9" >1E-8</text>
<text x="256.0" y="2997.6" font-size="38.0" text-anchor="end" fill="#222" stroke="#222" stroke-width="0.9" >1E-9</text>
<line x1="308.7" y1="2985.0" x2="308.7" y2="2995.0" stroke="#2a2a2a" stroke-width="3.4" />
<line x1="333.8" y1="2985.0" x2="333.8" y2="2995.0" stroke="#2a2a2a" stroke-width="3.4" />
<line x1="354.3" y1="2985.0" x2="354.3" y2="2995.0" stroke="#2a2a2a" stroke-width="3.4" />
<line x1="371.6" y1="2985.0" x2="371.6" y2="2995.0" stroke="#2a2a2a" stroke-width="3.4" />
<line x1="386.6" y1="2985.0" x2="386.6" y2="2995.0" stroke="#2a2a2a" stroke-width="3.4" />
<line x1="399.9" y1="2985.0" x2="399.9" y2="2995.0" stroke="#2a2a2a" stroke-width="3.4" />
<line x1="411.7" y1="2985.0" x2="411.7" y2="3000.0" stroke="#2a2a2a" stroke-width="3.4" />
<line x1="489.6" y1="2985.0" x2="489.6" y2="2995.0" stroke="#2a2a2a" stroke-width="3.4" />
<line x1="535.2" y1="2985.0" x2="535.2" y2="2995.0" stroke="#2a2a2a" stroke-width="3.4" />
<line x1="567.6" y1="2985.0" x2="567.6" y2="2995.0" stroke="#2a2a2a" stroke-width="3.4" />
<line x1="592.7" y1="2985.0" x2="592.7" y2="2995.0" stroke="#2a2a2a" stroke-width="3.4" />
<line x1="613.2" y1="2985.0" x2="613.2" y2="2995.0" stroke="#2a2a2a" stroke-width="3.4" />
<line x1="630.5" y1="2985.0" x2="630.5" y2="2995.0" stroke="#2a2a2a" stroke-width="3.4" />
<line x1="645.5" y1="2985.0" x2="645.5" y2="2995.0" stroke="#2a2a2a" stroke-width="3.4" />
<line x1="658.8" y1="2985.0" x2="658.8" y2="2995.0" stroke="#2a2a2a" stroke-width="3.4" />
<line x1="670.6" y1="2985.0" x2="670.6" y2="3000.0" stroke="#2a2a2a" stroke-width="3.4" />
<line x1="748.5" y1="2985.0" x2="748.5" y2="2995.0" stroke="#2a2a2a" stroke-width="3.4" />
<line x1="794.1" y1="2985.0" x2="794.1" y2="2995.0" stroke="#2a2a2a" stroke-width="3.4" />
<line x1="826.5" y1="2985.0" x2="826.5" y2="2995.0" stroke="#2a2a2a" stroke-width="3.4" />
<line x1="851.6" y1="2985.0" x2="851.6" y2="2995.0" stroke="#2a2a2a" stroke-width="3.4" />
<line x1="872.1" y1="2985.0" x2="872.1" y2="2995.0" stroke="#2a2a2a" stroke-width="3.4" />
<line x1="889.4" y1="2985.0" x2="889.4" y2="2995.0" stroke="#2a2a2a" stroke-width="3.4" />
<line x1="904.4" y1="2985.0" x2="904.4" y2="2995.0" stroke="#2a2a2a" stroke-width="3.4" />
<line x1="917.7" y1="2985.0" x2="917.7" y2="2995.0" stroke="#2a2a2a" stroke-width="3.4" />
<line x1="929.5" y1="2985.0" x2="929.5" y2="3000.0" stroke="#2a2a2a" stroke-width="3.4" />
<line x1="1007.4" y1="2985.0" x2="1007.4" y2="2995.0" stroke="#2a2a2a" stroke-width="3.4" />
<line x1="1053.0" y1="2985.0" x2="1053.0" y2="2995.0" stroke="#2a2a2a" stroke-width="3.4" />
<line x1="1085.4" y1="2985.0" x2="1085.4" y2="2995.0" stroke="#2a2a2a" stroke-width="3.4" />
<line x1="1110.5" y1="2985.0" x2="1110.5" y2="2995.0" stroke="#2a2a2a" stroke-width="3.4" />
<line x1="1131.0" y1="2985.0" x2="1131.0" y2="2995.0" stroke="#2a2a2a" stroke-width="3.4" />
<line x1="1148.3" y1="2985.0" x2="1148.3" y2="2995.0" stroke="#2a2a2a" stroke-width="3.4" />
<line x1="1163.3" y1="2985.0" x2="1163.3" y2="2995.0" stroke="#2a2a2a" stroke-width="3.4" />
<line x1="1176.6" y1="2985.0" x2="1176.6" y2="2995.0" stroke="#2a2a2a" stroke-width="3.4" />
<line x1="1189.0" y1="2985.0" x2="1189.0" y2="3000.0" stroke="#2a2a2a" stroke-width="3.4" />
<text x="410.7" y="3044.5" font-size="38.0" text-anchor="middle" fill="#222" stroke="#222" stroke-width="0.9" >0.1</text>
<text x="669.6" y="3044.5" font-size="38.0" text-anchor="middle" fill="#222" stroke="#222" stroke-width="0.9" >1</text>
<text x="928.5" y="3044.5" font-size="38.0" text-anchor="middle" fill="#222" stroke="#222" stroke-width="0.9" >10</text>
<text x="1187.4" y="3044.5" font-size="38.0" text-anchor="middle" fill="#222" stroke="#222" stroke-width="0.9" >100</text>
<text x="736.7" y="3119.5" font-size="39.2" text-anchor="middle" fill="#222" stroke="#222" stroke-width="0.9" >Power density (mW cm<tspan font-size="24" dy="-13">−2</tspan><tspan dy="13">)</tspan></text>
<text transform="translate(151.0,2652.0) rotate(-90)" font-size="39.2" text-anchor="middle" fill="#222" stroke="#222" stroke-width="0.9" >Photocurrent (A)</text>
<text x="314.0" y="2299.0" font-size="38.5" text-anchor="start" fill="#f23c3c" stroke="#f23c3c" stroke-width="0.9" >Fit curve under strong light</text>
<text x="418.6" y="2860.0" font-size="38.6" text-anchor="start" fill="#2f40ac" stroke="#2f40ac" stroke-width="0.9" >Fit curve under weak light</text>
<text x="950.0" y="2723.5" font-size="36.0" text-anchor="start" fill="#2f40ac" stroke="#2f40ac" stroke-width="0.9" ><tspan font-style="italic">I</tspan><tspan font-size="46" stroke="none">∝</tspan><tspan font-style="italic" font-weight="bold">P</tspan><tspan font-size="23" dy="-12" font-weight="bold">1.04</tspan></text>
<text x="950.0" y="2782.0" font-size="36.0" text-anchor="start" fill="#f23c3c" stroke="#f23c3c" stroke-width="0.9" ><tspan font-style="italic">I</tspan><tspan font-size="46" stroke="none">∝</tspan><tspan font-style="italic" font-weight="bold">P</tspan><tspan font-size="23" dy="-12" font-weight="bold">1.04</tspan></text>
<polyline points="1590.5,2521.4 1667.3,2421.0 1745.0,2327.0 1932.7,2323.6 2023.7,2682.5 2103.8,2832.7 2174.0,2911.0 2214.0,2933.0 2243.0,2943.0" fill="none" stroke="#f23c3c" stroke-width="2.6"/>
<polyline points="1590.5,2657.4 1667.3,2584.0 1745.0,2519.0 1932.7,2515.6 2023.7,2771.8 2103.8,2877.8 2174.0,2934.5 2214.0,2951.0 2243.0,2958.0" fill="none" stroke="#2f43b0" stroke-width="3"/>
<circle cx="1590.5" cy="2521.4" r="13" fill="url(#spr)"/>
<circle cx="1667.3" cy="2421.0" r="13" fill="url(#spr)"/>
<circle cx="1745.0" cy="2327.0" r="13" fill="url(#spr)"/>
<circle cx="1932.7" cy="2323.6" r="13" fill="url(#spr)"/>
<circle cx="2023.7" cy="2682.5" r="13" fill="url(#spr)"/>
<circle cx="2103.8" cy="2832.7" r="13" fill="url(#spr)"/>
<circle cx="2174.0" cy="2911.0" r="13" fill="url(#spr)"/>
<circle cx="2214.0" cy="2933.0" r="13" fill="url(#spr)"/>
<circle cx="2243.0" cy="2943.0" r="13" fill="url(#spr)"/>
<circle cx="1590.5" cy="2657.4" r="13" fill="url(#spb)"/>
<circle cx="1667.3" cy="2584.0" r="13" fill="url(#spb)"/>
<circle cx="1745.0" cy="2519.0" r="13" fill="url(#spb)"/>
<circle cx="1932.7" cy="2515.6" r="13" fill="url(#spb)"/>
<circle cx="2023.7" cy="2771.8" r="13" fill="url(#spb)"/>
<circle cx="2103.8" cy="2877.8" r="13" fill="url(#spb)"/>
<circle cx="2174.0" cy="2934.5" r="13" fill="url(#spb)"/>
<circle cx="2214.0" cy="2951.0" r="13" fill="url(#spb)"/>
<circle cx="2243.0" cy="2958.0" r="13" fill="url(#spb)"/>
<line x1="1506.5" y1="2222.0" x2="2310.8" y2="2222.0" stroke="#222" stroke-width="4" />
<line x1="1505.0" y1="2991.0" x2="2312.3" y2="2991.0" stroke="#222" stroke-width="4" />
<line x1="1506.5" y1="2220.0" x2="1506.5" y2="2993.0" stroke="#2f43b0" stroke-width="4.2" />
<line x1="2310.8" y1="2220.0" x2="2310.8" y2="2993.0" stroke="#f23c3c" stroke-width="4.2" />
<line x1="1491.5" y1="2991.0" x2="1506.5" y2="2991.0" stroke="#2f43b0" stroke-width="3.4" />
<text x="1478.0" y="3004.5" font-size="38.0" text-anchor="end" fill="#2f43b0" stroke="#2f43b0" stroke-width="0.9" >0</text>
<line x1="1498.5" y1="2905.4" x2="1506.5" y2="2905.4" stroke="#2f43b0" stroke-width="3.4" />
<line x1="1491.5" y1="2819.9" x2="1506.5" y2="2819.9" stroke="#2f43b0" stroke-width="3.4" />
<text x="1478.0" y="2833.4" font-size="38.0" text-anchor="end" fill="#2f43b0" stroke="#2f43b0" stroke-width="0.9" >10</text>
<line x1="1498.5" y1="2734.3" x2="1506.5" y2="2734.3" stroke="#2f43b0" stroke-width="3.4" />
<line x1="1491.5" y1="2648.8" x2="1506.5" y2="2648.8" stroke="#2f43b0" stroke-width="3.4" />
<text x="1478.0" y="2662.3" font-size="38.0" text-anchor="end" fill="#2f43b0" stroke="#2f43b0" stroke-width="0.9" >20</text>
<line x1="1498.5" y1="2563.2" x2="1506.5" y2="2563.2" stroke="#2f43b0" stroke-width="3.4" />
<line x1="1491.5" y1="2477.7" x2="1506.5" y2="2477.7" stroke="#2f43b0" stroke-width="3.4" />
<text x="1478.0" y="2491.2" font-size="38.0" text-anchor="end" fill="#2f43b0" stroke="#2f43b0" stroke-width="0.9" >30</text>
<line x1="1498.5" y1="2392.2" x2="1506.5" y2="2392.2" stroke="#2f43b0" stroke-width="3.4" />
<line x1="1491.5" y1="2306.6" x2="1506.5" y2="2306.6" stroke="#2f43b0" stroke-width="3.4" />
<text x="1478.0" y="2320.1" font-size="38.0" text-anchor="end" fill="#2f43b0" stroke="#2f43b0" stroke-width="0.9" >40</text>
<line x1="2310.8" y1="2991.0" x2="2324.8" y2="2991.0" stroke="#f23c3c" stroke-width="3.4" />
<text x="2334.5" y="3004.0" font-size="38.0" text-anchor="start" fill="#f23c3c" stroke="#f23c3c" stroke-width="0.9" >0</text>
<line x1="2310.8" y1="2921.1" x2="2318.8" y2="2921.1" stroke="#f23c3c" stroke-width="3.4" />
<line x1="2310.8" y1="2851.1" x2="2324.8" y2="2851.1" stroke="#f23c3c" stroke-width="3.4" />
<text x="2334.5" y="2864.1" font-size="38.0" text-anchor="start" fill="#f23c3c" stroke="#f23c3c" stroke-width="0.9" >2</text>
<line x1="2310.8" y1="2781.2" x2="2318.8" y2="2781.2" stroke="#f23c3c" stroke-width="3.4" />
<line x1="2310.8" y1="2711.3" x2="2324.8" y2="2711.3" stroke="#f23c3c" stroke-width="3.4" />
<text x="2334.5" y="2724.3" font-size="38.0" text-anchor="start" fill="#f23c3c" stroke="#f23c3c" stroke-width="0.9" >4</text>
<line x1="2310.8" y1="2641.3" x2="2318.8" y2="2641.3" stroke="#f23c3c" stroke-width="3.4" />
<line x1="2310.8" y1="2571.4" x2="2324.8" y2="2571.4" stroke="#f23c3c" stroke-width="3.4" />
<text x="2334.5" y="2584.4" font-size="38.0" text-anchor="start" fill="#f23c3c" stroke="#f23c3c" stroke-width="0.9" >6</text>
<line x1="2310.8" y1="2501.5" x2="2318.8" y2="2501.5" stroke="#f23c3c" stroke-width="3.4" />
<line x1="2310.8" y1="2431.6" x2="2324.8" y2="2431.6" stroke="#f23c3c" stroke-width="3.4" />
<text x="2334.5" y="2444.6" font-size="38.0" text-anchor="start" fill="#f23c3c" stroke="#f23c3c" stroke-width="0.9" >8</text>
<line x1="2310.8" y1="2361.6" x2="2318.8" y2="2361.6" stroke="#f23c3c" stroke-width="3.4" />
<line x1="2310.8" y1="2291.7" x2="2324.8" y2="2291.7" stroke="#f23c3c" stroke-width="3.4" />
<text x="2334.5" y="2304.7" font-size="38.0" text-anchor="start" fill="#f23c3c" stroke="#f23c3c" stroke-width="0.9" >10</text>
<line x1="1534.2" y1="2991.0" x2="1534.2" y2="3000.0" stroke="#222" stroke-width="3.4" />
<line x1="1556.5" y1="2991.0" x2="1556.5" y2="3000.0" stroke="#222" stroke-width="3.4" />
<line x1="1574.8" y1="2991.0" x2="1574.8" y2="3000.0" stroke="#222" stroke-width="3.4" />
<line x1="1590.2" y1="2991.0" x2="1590.2" y2="3000.0" stroke="#222" stroke-width="3.4" />
<line x1="1603.6" y1="2991.0" x2="1603.6" y2="3000.0" stroke="#222" stroke-width="3.4" />
<line x1="1615.4" y1="2991.0" x2="1615.4" y2="3000.0" stroke="#222" stroke-width="3.4" />
<line x1="1626.0" y1="2991.0" x2="1626.0" y2="3005.0" stroke="#222" stroke-width="3.4" />
<line x1="1695.5" y1="2991.0" x2="1695.5" y2="3000.0" stroke="#222" stroke-width="3.4" />
<line x1="1736.1" y1="2991.0" x2="1736.1" y2="3000.0" stroke="#222" stroke-width="3.4" />
<line x1="1765.0" y1="2991.0" x2="1765.0" y2="3000.0" stroke="#222" stroke-width="3.4" />
<line x1="1787.3" y1="2991.0" x2="1787.3" y2="3000.0" stroke="#222" stroke-width="3.4" />
<line x1="1805.6" y1="2991.0" x2="1805.6" y2="3000.0" stroke="#222" stroke-width="3.4" />
<line x1="1821.0" y1="2991.0" x2="1821.0" y2="3000.0" stroke="#222" stroke-width="3.4" />
<line x1="1834.4" y1="2991.0" x2="1834.4" y2="3000.0" stroke="#222" stroke-width="3.4" />
<line x1="1846.2" y1="2991.0" x2="1846.2" y2="3000.0" stroke="#222" stroke-width="3.4" />
<line x1="1856.8" y1="2991.0" x2="1856.8" y2="3005.0" stroke="#222" stroke-width="3.4" />
<line x1="1926.3" y1="2991.0" x2="1926.3" y2="3000.0" stroke="#222" stroke-width="3.4" />
<line x1="1966.9" y1="2991.0" x2="1966.9" y2="3000.0" stroke="#222" stroke-width="3.4" />
<line x1="1995.8" y1="2991.0" x2="1995.8" y2="3000.0" stroke="#222" stroke-width="3.4" />
<line x1="2018.1" y1="2991.0" x2="2018.1" y2="3000.0" stroke="#222" stroke-width="3.4" />
<line x1="2036.4" y1="2991.0" x2="2036.4" y2="3000.0" stroke="#222" stroke-width="3.4" />
<line x1="2051.8" y1="2991.0" x2="2051.8" y2="3000.0" stroke="#222" stroke-width="3.4" />
<line x1="2065.2" y1="2991.0" x2="2065.2" y2="3000.0" stroke="#222" stroke-width="3.4" />
<line x1="2077.0" y1="2991.0" x2="2077.0" y2="3000.0" stroke="#222" stroke-width="3.4" />
<line x1="2087.6" y1="2991.0" x2="2087.6" y2="3005.0" stroke="#222" stroke-width="3.4" />
<line x1="2157.1" y1="2991.0" x2="2157.1" y2="3000.0" stroke="#222" stroke-width="3.4" />
<line x1="2197.7" y1="2991.0" x2="2197.7" y2="3000.0" stroke="#222" stroke-width="3.4" />
<line x1="2226.6" y1="2991.0" x2="2226.6" y2="3000.0" stroke="#222" stroke-width="3.4" />
<line x1="2248.9" y1="2991.0" x2="2248.9" y2="3000.0" stroke="#222" stroke-width="3.4" />
<line x1="2267.2" y1="2991.0" x2="2267.2" y2="3000.0" stroke="#222" stroke-width="3.4" />
<line x1="2282.6" y1="2991.0" x2="2282.6" y2="3000.0" stroke="#222" stroke-width="3.4" />
<line x1="2296.0" y1="2991.0" x2="2296.0" y2="3000.0" stroke="#222" stroke-width="3.4" />
<line x1="2307.8" y1="2991.0" x2="2307.8" y2="3000.0" stroke="#222" stroke-width="3.4" />
<text x="1626.0" y="3051.0" font-size="37.5" text-anchor="middle" fill="#222" stroke="#222" stroke-width="0.9" >0.1</text>
<text x="1856.8" y="3051.0" font-size="37.5" text-anchor="middle" fill="#222" stroke="#222" stroke-width="0.9" >1</text>
<text x="2087.6" y="3051.0" font-size="37.5" text-anchor="middle" fill="#222" stroke="#222" stroke-width="0.9" >10</text>
<text x="1934.0" y="3120.0" font-size="39.2" text-anchor="middle" fill="#222" stroke="#222" stroke-width="0.9" >Power density (mW cm<tspan font-size="24" dy="-13">−2</tspan><tspan dy="13">)</tspan></text>
<text transform="translate(1401.0,2613.0) rotate(-90)" font-size="39.2" text-anchor="middle" fill="#2f43b0" stroke="#2f43b0" stroke-width="0.9" >Responsivity (A W<tspan font-size="24" dy="-13">−1</tspan><tspan dy="13">)</tspan></text>
<text transform="translate(2427.0,2627.5) rotate(-90)" font-size="39.2" text-anchor="middle" fill="#f23c3c" stroke="#f23c3c" stroke-width="0.9" >Detectivity (10<tspan font-size="24" dy="-13">12</tspan><tspan dy="13"> Jones)</tspan></text>
<polyline points="262.0,3877.5 499.0,3877.5 503.0,3870.0 506.0,3700.0 511.0,3450.0 516.0,3330.0 522.0,3312.0 532.0,3308.0 538.0,3307.9 544.0,3308.7 550.0,3309.1 556.0,3310.1 562.0,3308.7 568.0,3310.0 574.0,3303.7 580.0,3306.8 586.0,3310.1 592.0,3308.0 598.0,3309.8 604.0,3304.3 610.0,3306.8 616.0,3305.2 622.0,3307.3 628.0,3307.5 634.0,3303.6 640.0,3305.0 646.0,3307.5 652.0,3311.9 658.0,3310.9 664.0,3306.6 670.0,3311.1 676.0,3306.5 682.0,3309.8 688.0,3306.4 694.0,3305.5 700.0,3311.6 706.0,3307.0 712.0,3307.0 718.0,3312.4 724.0,3311.6" fill="none" stroke="#181818" stroke-width="21" stroke-linejoin="round" stroke-linecap="round"/>
<circle cx="725" cy="3308" r="7.5" fill="#ddd" stroke="#181818" stroke-width="4"/>
<polyline points="758.0,3304.7 764.0,3308.9 770.0,3306.5 776.0,3307.4 782.0,3304.7 788.0,3309.2 794.0,3307.9 800.0,3309.6 806.0,3309.3 812.0,3305.9 818.0,3306.4 824.0,3305.3 830.0,3305.3 836.0,3305.0 842.0,3306.5 848.0,3308.4 854.0,3304.9 860.0,3309.1 866.0,3307.2 872.0,3307.1 878.0,3310.3 884.0,3308.4 890.0,3307.5 896.0,3308.6 902.0,3310.1 906.0,3310.0" fill="none" stroke="#181818" stroke-width="21" stroke-linejoin="round" stroke-linecap="round"/>
<circle cx="907.1" cy="3316.0" r="5.8" fill="#a8a8a8" stroke="#181818" stroke-width="4.4"/>
<circle cx="907.2" cy="3322.2" r="5.8" fill="#a8a8a8" stroke="#181818" stroke-width="4.4"/>
<circle cx="907.3" cy="3328.4" r="5.8" fill="#a8a8a8" stroke="#181818" stroke-width="4.4"/>
<circle cx="907.4" cy="3334.6" r="5.8" fill="#a8a8a8" stroke="#181818" stroke-width="4.4"/>
<circle cx="907.5" cy="3340.8" r="5.8" fill="#a8a8a8" stroke="#181818" stroke-width="4.4"/>
<circle cx="907.6" cy="3347.0" r="5.8" fill="#a8a8a8" stroke="#181818" stroke-width="4.4"/>
<circle cx="907.7" cy="3353.2" r="5.8" fill="#a8a8a8" stroke="#181818" stroke-width="4.4"/>
<circle cx="907.8" cy="3359.4" r="5.8" fill="#a8a8a8" stroke="#181818" stroke-width="4.4"/>
<circle cx="907.9" cy="3365.6" r="5.8" fill="#a8a8a8" stroke="#181818" stroke-width="4.4"/>
<circle cx="908.0" cy="3371.8" r="5.8" fill="#a8a8a8" stroke="#181818" stroke-width="4.4"/>
<circle cx="908.1" cy="3378.0" r="5.8" fill="#a8a8a8" stroke="#181818" stroke-width="4.4"/>
<circle cx="908.2" cy="3384.2" r="5.8" fill="#a8a8a8" stroke="#181818" stroke-width="4.4"/>
<circle cx="908.3" cy="3390.4" r="5.8" fill="#a8a8a8" stroke="#181818" stroke-width="4.4"/>
<circle cx="908.4" cy="3396.6" r="5.8" fill="#a8a8a8" stroke="#181818" stroke-width="4.4"/>
<circle cx="908.5" cy="3402.8" r="5.8" fill="#a8a8a8" stroke="#181818" stroke-width="4.4"/>
<circle cx="908.6" cy="3409.0" r="5.8" fill="#a8a8a8" stroke="#181818" stroke-width="4.4"/>
<circle cx="908.7" cy="3415.2" r="5.8" fill="#a8a8a8" stroke="#181818" stroke-width="4.4"/>
<circle cx="908.8" cy="3421.4" r="5.8" fill="#a8a8a8" stroke="#181818" stroke-width="4.4"/>
<circle cx="908.9" cy="3427.6" r="5.8" fill="#a8a8a8" stroke="#181818" stroke-width="4.4"/>
<circle cx="909.0" cy="3433.8" r="5.8" fill="#a8a8a8" stroke="#181818" stroke-width="4.4"/>
<circle cx="909.1" cy="3440.0" r="5.8" fill="#a8a8a8" stroke="#181818" stroke-width="4.4"/>
<circle cx="909.2" cy="3446.2" r="5.8" fill="#a8a8a8" stroke="#181818" stroke-width="4.4"/>
<circle cx="909.2" cy="3452.4" r="5.8" fill="#a8a8a8" stroke="#181818" stroke-width="4.4"/>
<circle cx="909.3" cy="3458.6" r="5.8" fill="#a8a8a8" stroke="#181818" stroke-width="4.4"/>
<circle cx="909.4" cy="3464.8" r="5.8" fill="#a8a8a8" stroke="#181818" stroke-width="4.4"/>
<circle cx="909.5" cy="3471.0" r="5.8" fill="#a8a8a8" stroke="#181818" stroke-width="4.4"/>
<circle cx="909.6" cy="3477.2" r="5.8" fill="#a8a8a8" stroke="#181818" stroke-width="4.4"/>
<circle cx="909.7" cy="3483.4" r="5.8" fill="#a8a8a8" stroke="#181818" stroke-width="4.4"/>
<circle cx="909.8" cy="3489.6" r="5.8" fill="#a8a8a8" stroke="#181818" stroke-width="4.4"/>
<circle cx="909.9" cy="3495.8" r="5.8" fill="#a8a8a8" stroke="#181818" stroke-width="4.4"/>
<circle cx="910.0" cy="3502.0" r="5.8" fill="#a8a8a8" stroke="#181818" stroke-width="4.4"/>
<circle cx="910.1" cy="3508.2" r="5.8" fill="#a8a8a8" stroke="#181818" stroke-width="4.4"/>
<circle cx="910.2" cy="3514.4" r="5.8" fill="#a8a8a8" stroke="#181818" stroke-width="4.4"/>
<circle cx="910.3" cy="3520.6" r="5.8" fill="#a8a8a8" stroke="#181818" stroke-width="4.4"/>
<circle cx="910.4" cy="3526.8" r="5.8" fill="#a8a8a8" stroke="#181818" stroke-width="4.4"/>
<circle cx="910.5" cy="3533.0" r="5.8" fill="#a8a8a8" stroke="#181818" stroke-width="4.4"/>
<circle cx="910.6" cy="3539.2" r="5.8" fill="#a8a8a8" stroke="#181818" stroke-width="4.4"/>
<circle cx="910.7" cy="3545.4" r="5.8" fill="#a8a8a8" stroke="#181818" stroke-width="4.4"/>
<circle cx="910.8" cy="3551.6" r="5.8" fill="#a8a8a8" stroke="#181818" stroke-width="4.4"/>
<circle cx="910.9" cy="3557.8" r="5.8" fill="#a8a8a8" stroke="#181818" stroke-width="4.4"/>
<circle cx="911.0" cy="3564.0" r="5.8" fill="#a8a8a8" stroke="#181818" stroke-width="4.4"/>
<circle cx="911.1" cy="3570.2" r="5.8" fill="#a8a8a8" stroke="#181818" stroke-width="4.4"/>
<circle cx="911.2" cy="3576.4" r="5.8" fill="#a8a8a8" stroke="#181818" stroke-width="4.4"/>
<circle cx="911.3" cy="3582.6" r="5.8" fill="#a8a8a8" stroke="#181818" stroke-width="4.4"/>
<circle cx="911.4" cy="3588.8" r="5.8" fill="#a8a8a8" stroke="#181818" stroke-width="4.4"/>
<circle cx="911.5" cy="3595.0" r="5.8" fill="#a8a8a8" stroke="#181818" stroke-width="4.4"/>
<circle cx="911.6" cy="3601.2" r="5.8" fill="#a8a8a8" stroke="#181818" stroke-width="4.4"/>
<circle cx="911.7" cy="3607.4" r="5.8" fill="#a8a8a8" stroke="#181818" stroke-width="4.4"/>
<circle cx="911.8" cy="3613.6" r="5.8" fill="#a8a8a8" stroke="#181818" stroke-width="4.4"/>
<circle cx="911.9" cy="3619.8" r="5.8" fill="#a8a8a8" stroke="#181818" stroke-width="4.4"/>
<circle cx="912.0" cy="3626.0" r="5.8" fill="#a8a8a8" stroke="#181818" stroke-width="4.4"/>
<circle cx="912.1" cy="3632.2" r="5.8" fill="#a8a8a8" stroke="#181818" stroke-width="4.4"/>
<circle cx="912.2" cy="3638.4" r="5.8" fill="#a8a8a8" stroke="#181818" stroke-width="4.4"/>
<circle cx="912.3" cy="3644.6" r="5.8" fill="#a8a8a8" stroke="#181818" stroke-width="4.4"/>
<circle cx="912.4" cy="3650.8" r="5.8" fill="#a8a8a8" stroke="#181818" stroke-width="4.4"/>
<circle cx="912.5" cy="3657.0" r="5.8" fill="#a8a8a8" stroke="#181818" stroke-width="4.4"/>
<polygon points="906.5,3650.0 917.0,3650.0 925.5,3846.0 906.0,3846.0" fill="#181818" stroke="#181818" stroke-width="0.8" />
<polyline points="915.7,3846.0 918.0,3858.0 926.0,3866.0 945.0,3870.0 980.0,3873.5 1040.0,3876.0 1120.0,3877.5 1219.0,3878.5" fill="none" stroke="#181818" stroke-width="20" stroke-linejoin="round" stroke-linecap="round"/>
<circle cx="1221.9" cy="3878.3" r="7.5" fill="#ddd" stroke="#181818" stroke-width="4"/>
<rect x="260" y="3208.7" width="470.20000000000005" height="736.7000000000003" fill="none" stroke="#333" stroke-width="3.6"/>
<rect x="757.3" y="3208.7" width="467.10000000000014" height="736.7000000000003" fill="none" stroke="#333" stroke-width="3.6"/>
<line x1="246.5" y1="3882.6" x2="260.0" y2="3882.6" stroke="#2a2a2a" stroke-width="3.2" />
<line x1="252.5" y1="3790.8" x2="260.0" y2="3790.8" stroke="#2a2a2a" stroke-width="3.2" />
<line x1="246.5" y1="3699.0" x2="260.0" y2="3699.0" stroke="#2a2a2a" stroke-width="3.2" />
<line x1="252.5" y1="3607.2" x2="260.0" y2="3607.2" stroke="#2a2a2a" stroke-width="3.2" />
<line x1="246.5" y1="3515.4" x2="260.0" y2="3515.4" stroke="#2a2a2a" stroke-width="3.2" />
<line x1="252.5" y1="3423.6" x2="260.0" y2="3423.6" stroke="#2a2a2a" stroke-width="3.2" />
<line x1="246.5" y1="3331.8" x2="260.0" y2="3331.8" stroke="#2a2a2a" stroke-width="3.2" />
<line x1="252.5" y1="3240.0" x2="260.0" y2="3240.0" stroke="#2a2a2a" stroke-width="3.2" />
<text x="231.5" y="3895.0" font-size="38.0" text-anchor="end" fill="#222" stroke="#222" stroke-width="0.9" >0.0</text>
<text x="231.5" y="3711.4" font-size="38.0" text-anchor="end" fill="#222" stroke="#222" stroke-width="0.9" >3.0n</text>
<text x="231.5" y="3527.8" font-size="38.0" text-anchor="end" fill="#222" stroke="#222" stroke-width="0.9" >6.0n</text>
<text x="231.5" y="3344.2" font-size="38.0" text-anchor="end" fill="#222" stroke="#222" stroke-width="0.9" >9.0n</text>
<line x1="259.5" y1="3945.4" x2="259.5" y2="3959.9" stroke="#2a2a2a" stroke-width="3.2" />
<line x1="330.0" y1="3945.4" x2="330.0" y2="3953.4" stroke="#2a2a2a" stroke-width="3.2" />
<line x1="400.4" y1="3945.4" x2="400.4" y2="3959.9" stroke="#2a2a2a" stroke-width="3.2" />
<line x1="470.9" y1="3945.4" x2="470.9" y2="3953.4" stroke="#2a2a2a" stroke-width="3.2" />
<line x1="541.3" y1="3945.4" x2="541.3" y2="3959.9" stroke="#2a2a2a" stroke-width="3.2" />
<line x1="611.8" y1="3945.4" x2="611.8" y2="3953.4" stroke="#2a2a2a" stroke-width="3.2" />
<line x1="682.2" y1="3945.4" x2="682.2" y2="3959.9" stroke="#2a2a2a" stroke-width="3.2" />
<line x1="756.0" y1="3945.4" x2="756.0" y2="3959.9" stroke="#2a2a2a" stroke-width="3.2" />
<line x1="826.0" y1="3945.4" x2="826.0" y2="3953.4" stroke="#2a2a2a" stroke-width="3.2" />
<line x1="896.1" y1="3945.4" x2="896.1" y2="3959.9" stroke="#2a2a2a" stroke-width="3.2" />
<line x1="966.1" y1="3945.4" x2="966.1" y2="3953.4" stroke="#2a2a2a" stroke-width="3.2" />
<line x1="1036.2" y1="3945.4" x2="1036.2" y2="3959.9" stroke="#2a2a2a" stroke-width="3.2" />
<line x1="1106.2" y1="3945.4" x2="1106.2" y2="3953.4" stroke="#2a2a2a" stroke-width="3.2" />
<line x1="1176.3" y1="3945.4" x2="1176.3" y2="3959.9" stroke="#2a2a2a" stroke-width="3.2" />
<text x="259.5" y="4001.8" font-size="38.0" text-anchor="middle" fill="#222" stroke="#222" stroke-width="0.9" >2.4</text>
<text x="400.4" y="4001.8" font-size="38.0" text-anchor="middle" fill="#222" stroke="#222" stroke-width="0.9" >2.7</text>
<text x="541.3" y="4001.8" font-size="38.0" text-anchor="middle" fill="#222" stroke="#222" stroke-width="0.9" >3.0</text>
<text x="682.2" y="4001.8" font-size="38.0" text-anchor="middle" fill="#222" stroke="#222" stroke-width="0.9" >3.3</text>
<text x="758.0" y="4001.8" font-size="38.0" text-anchor="middle" fill="#222" stroke="#222" stroke-width="0.9" >3.6</text>
<text x="897.6" y="4001.8" font-size="38.0" text-anchor="middle" fill="#222" stroke="#222" stroke-width="0.9" >3.9</text>
<text x="1037.7" y="4001.8" font-size="38.0" text-anchor="middle" fill="#222" stroke="#222" stroke-width="0.9" >4.2</text>
<text x="1177.8" y="4001.8" font-size="38.0" text-anchor="middle" fill="#222" stroke="#222" stroke-width="0.9" >4.5</text>
<text x="735.0" y="4059.0" font-size="39.2" text-anchor="middle" fill="#222" stroke="#222" stroke-width="0.9" >Time (s)</text>
<text transform="translate(138.0,3594.6) rotate(-90)" font-size="39.2" text-anchor="middle" fill="#222" stroke="#222" stroke-width="0.9" >Photocurrent (A)</text>
<line x1="467.0" y1="3360.0" x2="583.5" y2="3360.0" stroke="#2a2a2a" stroke-width="3.3" />
<line x1="395.0" y1="3825.0" x2="577.7" y2="3825.0" stroke="#2a2a2a" stroke-width="3.3" />
<line x1="837.0" y1="3362.7" x2="996.0" y2="3362.7" stroke="#2a2a2a" stroke-width="3.3" />
<line x1="850.0" y1="3823.0" x2="1073.0" y2="3823.0" stroke="#2a2a2a" stroke-width="3.3" />
<line x1="452.0" y1="3812.0" x2="481.0" y2="3420.0" stroke="#f68b1f" stroke-width="2.6" />
<polygon points="483.0,3396.0 489.5,3428.0 473.5,3427.0" fill="#f68b1f" stroke="#f68b1f" stroke-width="0.8" />
<line x1="936.0" y1="3389.5" x2="971.0" y2="3790.0" stroke="#f68b1f" stroke-width="2.6" />
<polygon points="973.0,3813.0 963.5,3782.0 979.5,3780.5" fill="#f68b1f" stroke="#f68b1f" stroke-width="0.8" />
<text x="410.0" y="3346.0" font-size="37.8" text-anchor="start" fill="#f23c3c" stroke="#f23c3c" stroke-width="0.9" >90%</text>
<text x="597.0" y="3802.0" font-size="38.5" text-anchor="start" fill="#2f40ac" stroke="#2f40ac" stroke-width="0.9" >10%</text>
<text x="939.0" y="3339.0" font-size="39.0" text-anchor="start" fill="#f23c3c" stroke="#f23c3c" stroke-width="0.9" >90%</text>
<text x="791.0" y="3810.6" font-size="37.7" text-anchor="start" fill="#2f40ac" stroke="#2f40ac" stroke-width="0.9" >10%</text>
<text x="318.0" y="3559.5" font-size="37.7" text-anchor="start" fill="#222" stroke="#222" stroke-width="0.9" >19.3 ms</text>
<text x="993.7" y="3548.6" font-size="38.3" text-anchor="start" fill="#222" stroke="#222" stroke-width="0.9" >17.6 ms</text>
<polyline points="1497.0,3898.1 1503.5,3804.5 1504.5,3381.4 1507.3,3397.1 1510.2,3412.7 1513.1,3427.8 1515.9,3440.1 1518.6,3488.7 1519.4,3898.1 1528.4,3898.1 1532.6,3866.5 1533.4,3407.8 1537.2,3417.9 1541.0,3430.8 1544.8,3444.6 1548.7,3888.2 1548.3,3898.1 1557.2,3898.1 1562.2,3419.8 1567.9,3432.1 1573.7,3441.9 1577.2,3845.4 1577.2,3898.1 1586.1,3898.1 1592.2,3488.7 1591.1,3405.4 1596.8,3418.9 1602.5,3430.8 1605.6,3796.1 1606.0,3898.1 1615.0,3898.1 1620.7,3544.9 1620.0,3388.6 1623.8,3402.3 1627.6,3417.8 1631.4,3426.9 1634.1,3730.1 1634.9,3898.1 1643.8,3898.1 1648.5,3601.9 1648.8,3403.0 1652.6,3416.5 1656.5,3431.5 1660.3,3442.8 1662.6,3682.3 1663.8,3898.1 1672.7,3898.1 1677.6,3666.5 1677.7,3419.8 1681.5,3432.7 1685.3,3446.6 1689.1,3459.3 1692.0,3627.7 1692.6,3898.1 1701.6,3898.1 1706.8,3724.1 1706.6,3410.2 1709.4,3424.2 1712.3,3436.1 1715.1,3449.3 1718.0,3465.5 1720.5,3585.8 1721.5,3898.1 1730.4,3898.1 1734.6,3775.4 1735.4,3410.2 1739.2,3421.4 1743.1,3431.9 1746.9,3442.9 1749.6,3528.2 1750.4,3898.1 1759.3,3898.1 1763.0,3838.0 1764.3,3410.2 1770.0,3422.1 1775.7,3437.7 1777.4,3467.9 1779.2,3898.1 1788.2,3898.1 1791.5,3888.2 1793.2,3407.8 1798.9,3423.4 1804.6,3432.0 1807.2,3876.5 1808.1,3898.1 1817.0,3898.1 1821.6,3465.6 1822.0,3424.6 1827.8,3437.1 1833.5,3453.7 1835.7,3822.2 1837.0,3898.1 1845.9,3898.1 1850.1,3516.5 1850.9,3424.6 1856.6,3437.9 1862.3,3448.1 1864.5,3767.7 1865.8,3898.1 1874.8,3898.1 1878.6,3584.1 1879.8,3431.8 1883.6,3441.2 1887.4,3452.5 1891.2,3469.0 1893.0,3717.4 1894.7,3898.1 1903.6,3898.1 1907.7,3632.0 1908.6,3417.4 1914.4,3427.1 1920.1,3441.6" fill="none" stroke="#222" stroke-width="2.3" stroke-linejoin="round"/>
<polyline points="1500.2,3898.1 1506.7,3804.5 1507.7,3381.4 1510.5,3397.1 1513.4,3412.7 1516.3,3427.8 1519.1,3440.1 1521.8,3488.7 1522.6,3898.1 1531.6,3898.1 1535.8,3866.5 1536.6,3407.8 1540.4,3417.9 1544.2,3430.8 1548.0,3444.6 1551.9,3888.2 1551.5,3898.1 1560.4,3898.1 1565.4,3419.8 1571.1,3432.1 1576.9,3441.9 1580.4,3845.4 1580.4,3898.1 1589.3,3898.1 1595.4,3488.7 1594.3,3405.4 1600.0,3418.9 1605.7,3430.8 1608.8,3796.1 1609.2,3898.1 1618.2,3898.1 1623.9,3544.9 1623.2,3388.6 1627.0,3402.3 1630.8,3417.8 1634.6,3426.9 1637.3,3730.1 1638.1,3898.1 1647.0,3898.1 1651.7,3601.9 1652.0,3403.0 1655.8,3416.5 1659.7,3431.5 1663.5,3442.8 1665.8,3682.3 1667.0,3898.1 1675.9,3898.1 1680.8,3666.5 1680.9,3419.8 1684.7,3432.7 1688.5,3446.6 1692.3,3459.3 1695.2,3627.7 1695.8,3898.1 1704.8,3898.1 1710.0,3724.1 1709.8,3410.2 1712.6,3424.2 1715.5,3436.1 1718.3,3449.3 1721.2,3465.5 1723.7,3585.8 1724.7,3898.1 1733.6,3898.1 1737.8,3775.4 1738.6,3410.2 1742.4,3421.4 1746.3,3431.9 1750.1,3442.9 1752.8,3528.2 1753.6,3898.1 1762.5,3898.1 1766.2,3838.0 1767.5,3410.2 1773.2,3422.1 1778.9,3437.7 1780.6,3467.9 1782.4,3898.1 1791.4,3898.1 1794.7,3888.2 1796.4,3407.8 1802.1,3423.4 1807.8,3432.0 1810.4,3876.5 1811.3,3898.1 1820.2,3898.1 1824.8,3465.6 1825.2,3424.6 1831.0,3437.1 1836.7,3453.7 1838.9,3822.2 1840.2,3898.1 1849.1,3898.1 1853.3,3516.5 1854.1,3424.6 1859.8,3437.9 1865.5,3448.1 1867.7,3767.7 1869.0,3898.1 1878.0,3898.1 1881.8,3584.1 1883.0,3431.8 1886.8,3441.2 1890.6,3452.5 1894.4,3469.0 1896.2,3717.4 1897.9,3898.1 1906.8,3898.1 1910.9,3632.0 1911.8,3417.4 1917.6,3427.1 1923.3,3441.6" fill="none" stroke="#2a2a2a" stroke-width="1.8" stroke-linejoin="round"/>
<circle cx="1497.0" cy="3898.1" r="9.8" fill="url(#spk)"/>
<circle cx="1503.5" cy="3804.5" r="9.8" fill="url(#spk)"/>
<circle cx="1504.5" cy="3381.4" r="9.8" fill="url(#spk)"/>
<circle cx="1507.3" cy="3397.1" r="9.8" fill="url(#spk)"/>
<circle cx="1510.2" cy="3412.7" r="9.8" fill="url(#spk)"/>
<circle cx="1513.1" cy="3427.8" r="9.8" fill="url(#spk)"/>
<circle cx="1515.9" cy="3440.1" r="9.8" fill="url(#spk)"/>
<circle cx="1518.6" cy="3488.7" r="9.8" fill="url(#spk)"/>
<circle cx="1519.4" cy="3898.1" r="9.8" fill="url(#spk)"/>
<circle cx="1528.4" cy="3898.1" r="9.8" fill="url(#spk)"/>
<circle cx="1532.6" cy="3866.5" r="9.8" fill="url(#spk)"/>
<circle cx="1533.4" cy="3407.8" r="9.8" fill="url(#spk)"/>
<circle cx="1537.2" cy="3417.9" r="9.8" fill="url(#spk)"/>
<circle cx="1541.0" cy="3430.8" r="9.8" fill="url(#spk)"/>
<circle cx="1544.8" cy="3444.6" r="9.8" fill="url(#spk)"/>
<circle cx="1548.7" cy="3888.2" r="9.8" fill="url(#spk)"/>
<circle cx="1548.3" cy="3898.1" r="9.8" fill="url(#spk)"/>
<circle cx="1557.2" cy="3898.1" r="9.8" fill="url(#spk)"/>
<circle cx="1562.2" cy="3419.8" r="9.8" fill="url(#spk)"/>
<circle cx="1567.9" cy="3432.1" r="9.8" fill="url(#spk)"/>
<circle cx="1573.7" cy="3441.9" r="9.8" fill="url(#spk)"/>
<circle cx="1577.2" cy="3845.4" r="9.8" fill="url(#spk)"/>
<circle cx="1577.2" cy="3898.1" r="9.8" fill="url(#spk)"/>
<circle cx="1586.1" cy="3898.1" r="9.8" fill="url(#spk)"/>
<circle cx="1592.2" cy="3488.7" r="9.8" fill="url(#spk)"/>
<circle cx="1591.1" cy="3405.4" r="9.8" fill="url(#spk)"/>
<circle cx="1596.8" cy="3418.9" r="9.8" fill="url(#spk)"/>
<circle cx="1602.5" cy="3430.8" r="9.8" fill="url(#spk)"/>
<circle cx="1605.6" cy="3796.1" r="9.8" fill="url(#spk)"/>
<circle cx="1606.0" cy="3898.1" r="9.8" fill="url(#spk)"/>
<circle cx="1615.0" cy="3898.1" r="9.8" fill="url(#spk)"/>
<circle cx="1620.7" cy="3544.9" r="9.8" fill="url(#spk)"/>
<circle cx="1620.0" cy="3388.6" r="9.8" fill="url(#spk)"/>
<circle cx="1623.8" cy="3402.3" r="9.8" fill="url(#spk)"/>
<circle cx="1627.6" cy="3417.8" r="9.8" fill="url(#spk)"/>
<circle cx="1631.4" cy="3426.9" r="9.8" fill="url(#spk)"/>
<circle cx="1634.1" cy="3730.1" r="9.8" fill="url(#spk)"/>
<circle cx="1634.9" cy="3898.1" r="9.8" fill="url(#spk)"/>
<circle cx="1643.8" cy="3898.1" r="9.8" fill="url(#spk)"/>
<circle cx="1648.5" cy="3601.9" r="9.8" fill="url(#spk)"/>
<circle cx="1648.8" cy="3403.0" r="9.8" fill="url(#spk)"/>
<circle cx="1652.6" cy="3416.5" r="9.8" fill="url(#spk)"/>
<circle cx="1656.5" cy="3431.5" r="9.8" fill="url(#spk)"/>
<circle cx="1660.3" cy="3442.8" r="9.8" fill="url(#spk)"/>
<circle cx="1662.6" cy="3682.3" r="9.8" fill="url(#spk)"/>
<circle cx="1663.8" cy="3898.1" r="9.8" fill="url(#spk)"/>
<circle cx="1672.7" cy="3898.1" r="9.8" fill="url(#spk)"/>
<circle cx="1677.6" cy="3666.5" r="9.8" fill="url(#spk)"/>
<circle cx="1677.7" cy="3419.8" r="9.8" fill="url(#spk)"/>
<circle cx="1681.5" cy="3432.7" r="9.8" fill="url(#spk)"/>
<circle cx="1685.3" cy="3446.6" r="9.8" fill="url(#spk)"/>
<circle cx="1689.1" cy="3459.3" r="9.8" fill="url(#spk)"/>
<circle cx="1692.0" cy="3627.7" r="9.8" fill="url(#spk)"/>
<circle cx="1692.6" cy="3898.1" r="9.8" fill="url(#spk)"/>
<circle cx="1701.6" cy="3898.1" r="9.8" fill="url(#spk)"/>
<circle cx="1706.8" cy="3724.1" r="9.8" fill="url(#spk)"/>
<circle cx="1706.6" cy="3410.2" r="9.8" fill="url(#spk)"/>
<circle cx="1709.4" cy="3424.2" r="9.8" fill="url(#spk)"/>
<circle cx="1712.3" cy="3436.1" r="9.8" fill="url(#spk)"/>
<circle cx="1715.1" cy="3449.3" r="9.8" fill="url(#spk)"/>
<circle cx="1718.0" cy="3465.5" r="9.8" fill="url(#spk)"/>
<circle cx="1720.5" cy="3585.8" r="9.8" fill="url(#spk)"/>
<circle cx="1721.5" cy="3898.1" r="9.8" fill="url(#spk)"/>
<circle cx="1730.4" cy="3898.1" r="9.8" fill="url(#spk)"/>
<circle cx="1734.6" cy="3775.4" r="9.8" fill="url(#spk)"/>
<circle cx="1735.4" cy="3410.2" r="9.8" fill="url(#spk)"/>
<circle cx="1739.2" cy="3421.4" r="9.8" fill="url(#spk)"/>
<circle cx="1743.1" cy="3431.9" r="9.8" fill="url(#spk)"/>
<circle cx="1746.9" cy="3442.9" r="9.8" fill="url(#spk)"/>
<circle cx="1749.6" cy="3528.2" r="9.8" fill="url(#spk)"/>
<circle cx="1750.4" cy="3898.1" r="9.8" fill="url(#spk)"/>
<circle cx="1759.3" cy="3898.1" r="9.8" fill="url(#spk)"/>
<circle cx="1763.0" cy="3838.0" r="9.8" fill="url(#spk)"/>
<circle cx="1764.3" cy="3410.2" r="9.8" fill="url(#spk)"/>
<circle cx="1770.0" cy="3422.1" r="9.8" fill="url(#spk)"/>
<circle cx="1775.7" cy="3437.7" r="9.8" fill="url(#spk)"/>
<circle cx="1777.4" cy="3467.9" r="9.8" fill="url(#spk)"/>
<circle cx="1779.2" cy="3898.1" r="9.8" fill="url(#spk)"/>
<circle cx="1788.2" cy="3898.1" r="9.8" fill="url(#spk)"/>
<circle cx="1791.5" cy="3888.2" r="9.8" fill="url(#spk)"/>
<circle cx="1793.2" cy="3407.8" r="9.8" fill="url(#spk)"/>
<circle cx="1798.9" cy="3423.4" r="9.8" fill="url(#spk)"/>
<circle cx="1804.6" cy="3432.0" r="9.8" fill="url(#spk)"/>
<circle cx="1807.2" cy="3876.5" r="9.8" fill="url(#spk)"/>
<circle cx="1808.1" cy="3898.1" r="9.8" fill="url(#spk)"/>
<circle cx="1817.0" cy="3898.1" r="9.8" fill="url(#spk)"/>
<circle cx="1821.6" cy="3465.6" r="9.8" fill="url(#spk)"/>
<circle cx="1822.0" cy="3424.6" r="9.8" fill="url(#spk)"/>
<circle cx="1827.8" cy="3437.1" r="9.8" fill="url(#spk)"/>
<circle cx="1833.5" cy="3453.7" r="9.8" fill="url(#spk)"/>
<circle cx="1835.7" cy="3822.2" r="9.8" fill="url(#spk)"/>
<circle cx="1837.0" cy="3898.1" r="9.8" fill="url(#spk)"/>
<circle cx="1845.9" cy="3898.1" r="9.8" fill="url(#spk)"/>
<circle cx="1850.1" cy="3516.5" r="9.8" fill="url(#spk)"/>
<circle cx="1850.9" cy="3424.6" r="9.8" fill="url(#spk)"/>
<circle cx="1856.6" cy="3437.9" r="9.8" fill="url(#spk)"/>
<circle cx="1862.3" cy="3448.1" r="9.8" fill="url(#spk)"/>
<circle cx="1864.5" cy="3767.7" r="9.8" fill="url(#spk)"/>
<circle cx="1865.8" cy="3898.1" r="9.8" fill="url(#spk)"/>
<circle cx="1874.8" cy="3898.1" r="9.8" fill="url(#spk)"/>
<circle cx="1878.6" cy="3584.1" r="9.8" fill="url(#spk)"/>
<circle cx="1879.8" cy="3431.8" r="9.8" fill="url(#spk)"/>
<circle cx="1883.6" cy="3441.2" r="9.8" fill="url(#spk)"/>
<circle cx="1887.4" cy="3452.5" r="9.8" fill="url(#spk)"/>
<circle cx="1891.2" cy="3469.0" r="9.8" fill="url(#spk)"/>
<circle cx="1893.0" cy="3717.4" r="9.8" fill="url(#spk)"/>
<circle cx="1894.7" cy="3898.1" r="9.8" fill="url(#spk)"/>
<circle cx="1903.6" cy="3898.1" r="9.8" fill="url(#spk)"/>
<circle cx="1907.7" cy="3632.0" r="9.8" fill="url(#spk)"/>
<circle cx="1908.6" cy="3417.4" r="9.8" fill="url(#spk)"/>
<circle cx="1914.4" cy="3427.1" r="9.8" fill="url(#spk)"/>
<circle cx="1920.1" cy="3441.6" r="9.8" fill="url(#spk)"/>
<polygon points="1929.3,3335.0 1931.2,3335.0 1933.5,3700.0 1931.6,3888.0 1929.6,3888.0 1928.5,3700.0" fill="#222" stroke="#222" stroke-width="0.8" />
<line x1="1930.2" y1="3297.0" x2="1930.2" y2="3308.0" stroke="#222" stroke-width="1.6" />
<line x1="1930.2" y1="3316.0" x2="1930.2" y2="3320.0" stroke="#222" stroke-width="1.6" />
<polyline points="1938.2,3410.2 1941.0,3425.3 1943.9,3435.4 1946.7,3448.6 1949.6,3460.9 1951.1,3498.9 1953.1,3898.1 1962.0,3898.1 1965.3,3861.1 1967.0,3412.6 1970.8,3424.7 1974.6,3436.4 1978.4,3448.3 1980.3,3887.8 1981.9,3898.1 1990.8,3898.1 1995.8,3419.8 2001.5,3430.6 2007.2,3447.2 2009.5,3849.4 2010.7,3898.1 2019.5,3898.1 2023.7,3483.9 2024.5,3419.8 2028.3,3436.6 2032.1,3445.4 2035.9,3455.6 2038.7,3796.0 2039.4,3898.1 2048.3,3898.1 2052.9,3540.6 2053.3,3417.4 2059.0,3426.4 2064.7,3436.2 2066.2,3741.8 2068.2,3898.1 2077.1,3898.1 2080.4,3599.0 2082.1,3415.0 2087.8,3429.9 2093.5,3441.3 2094.6,3686.7 2097.0,3898.1 2105.9,3898.1 2109.6,3657.5 2110.9,3417.4 2116.6,3426.6 2122.3,3437.0 2123.8,3634.1 2125.8,3898.1 2134.7,3898.1 2137.2,3715.9 2139.7,3419.8 2145.4,3433.4 2151.1,3445.0 2151.4,3580.7 2154.6,3898.1 2163.5,3898.1 2166.4,3773.5 2168.5,3410.2 2171.4,3425.6 2174.2,3435.4 2177.1,3447.2 2179.9,3460.9 2183.4,3898.1 2192.3,3898.1 2194.8,3828.6 2197.3,3403.0 2201.1,3418.3 2204.9,3429.0 2208.7,3439.2 2209.8,3475.5 2212.2,3898.1 2221.1,3898.1 2224.0,3885.3 2226.1,3415.0 2229.9,3429.2 2233.7,3441.1 2237.5,3453.6 2239.0,3875.3 2241.0,3898.1 2249.9,3898.1 2254.9,3415.0 2260.6,3424.5 2266.3,3433.4 2266.5,3823.6 2269.8,3898.1 2278.7,3898.1 2282.4,3514.8 2283.7,3419.8 2287.5,3434.5 2291.3,3446.3 2295.1,3458.4 2295.8,3772.6 2298.6,3898.1 2307.5,3898.1 2309.9,3565.7 2312.5,3415.0 2315.3,3426.0 2318.2,3436.1 2321.0,3450.6 2323.9,3459.8 2325.0,3714.2 2327.4,3898.1 2336.3,3898.1 2339.2,3624.1 2341.3,3415.0 2347.0,3425.9 2352.7,3442.1 2354.2,3656.6 2357.2,3898.1 2363.7,3898.1" fill="none" stroke="#222" stroke-width="2.3" stroke-linejoin="round"/>
<polyline points="1941.4,3410.2 1944.2,3425.3 1947.1,3435.4 1949.9,3448.6 1952.8,3460.9 1954.3,3498.9 1956.3,3898.1 1965.2,3898.1 1968.5,3861.1 1970.2,3412.6 1974.0,3424.7 1977.8,3436.4 1981.6,3448.3 1983.5,3887.8 1985.1,3898.1 1994.0,3898.1 1999.0,3419.8 2004.7,3430.6 2010.4,3447.2 2012.7,3849.4 2013.9,3898.1 2022.7,3898.1 2026.9,3483.9 2027.7,3419.8 2031.5,3436.6 2035.3,3445.4 2039.1,3455.6 2041.9,3796.0 2042.6,3898.1 2051.5,3898.1 2056.1,3540.6 2056.5,3417.4 2062.2,3426.4 2067.9,3436.2 2069.4,3741.8 2071.4,3898.1 2080.3,3898.1 2083.6,3599.0 2085.3,3415.0 2091.0,3429.9 2096.7,3441.3 2097.8,3686.7 2100.2,3898.1 2109.1,3898.1 2112.8,3657.5 2114.1,3417.4 2119.8,3426.6 2125.5,3437.0 2127.0,3634.1 2129.0,3898.1 2137.9,3898.1 2140.4,3715.9 2142.9,3419.8 2148.6,3433.4 2154.3,3445.0 2154.6,3580.7 2157.8,3898.1 2166.7,3898.1 2169.6,3773.5 2171.7,3410.2 2174.6,3425.6 2177.4,3435.4 2180.3,3447.2 2183.1,3460.9 2186.6,3898.1 2195.5,3898.1 2198.0,3828.6 2200.5,3403.0 2204.3,3418.3 2208.1,3429.0 2211.9,3439.2 2213.0,3475.5 2215.4,3898.1 2224.3,3898.1 2227.2,3885.3 2229.3,3415.0 2233.1,3429.2 2236.9,3441.1 2240.7,3453.6 2242.2,3875.3 2244.2,3898.1 2253.1,3898.1 2258.1,3415.0 2263.8,3424.5 2269.5,3433.4 2269.7,3823.6 2273.0,3898.1 2281.9,3898.1 2285.6,3514.8 2286.9,3419.8 2290.7,3434.5 2294.5,3446.3 2298.3,3458.4 2299.0,3772.6 2301.8,3898.1 2310.7,3898.1 2313.1,3565.7 2315.7,3415.0 2318.5,3426.0 2321.4,3436.1 2324.2,3450.6 2327.1,3459.8 2328.2,3714.2 2330.6,3898.1 2339.5,3898.1 2342.4,3624.1 2344.5,3415.0 2350.2,3425.9 2355.9,3442.1 2357.4,3656.6 2360.4,3898.1 2366.9,3898.1" fill="none" stroke="#2a2a2a" stroke-width="1.8" stroke-linejoin="round"/>
<circle cx="1938.2" cy="3410.2" r="9.8" fill="url(#spk)"/>
<circle cx="1941.0" cy="3425.3" r="9.8" fill="url(#spk)"/>
<circle cx="1943.9" cy="3435.4" r="9.8" fill="url(#spk)"/>
<circle cx="1946.7" cy="3448.6" r="9.8" fill="url(#spk)"/>
<circle cx="1949.6" cy="3460.9" r="9.8" fill="url(#spk)"/>
<circle cx="1951.1" cy="3498.9" r="9.8" fill="url(#spk)"/>
<circle cx="1953.1" cy="3898.1" r="9.8" fill="url(#spk)"/>
<circle cx="1962.0" cy="3898.1" r="9.8" fill="url(#spk)"/>
<circle cx="1965.3" cy="3861.1" r="9.8" fill="url(#spk)"/>
<circle cx="1967.0" cy="3412.6" r="9.8" fill="url(#spk)"/>
<circle cx="1970.8" cy="3424.7" r="9.8" fill="url(#spk)"/>
<circle cx="1974.6" cy="3436.4" r="9.8" fill="url(#spk)"/>
<circle cx="1978.4" cy="3448.3" r="9.8" fill="url(#spk)"/>
<circle cx="1980.3" cy="3887.8" r="9.8" fill="url(#spk)"/>
<circle cx="1981.9" cy="3898.1" r="9.8" fill="url(#spk)"/>
<circle cx="1990.8" cy="3898.1" r="9.8" fill="url(#spk)"/>
<circle cx="1995.8" cy="3419.8" r="9.8" fill="url(#spk)"/>
<circle cx="2001.5" cy="3430.6" r="9.8" fill="url(#spk)"/>
<circle cx="2007.2" cy="3447.2" r="9.8" fill="url(#spk)"/>
<circle cx="2009.5" cy="3849.4" r="9.8" fill="url(#spk)"/>
<circle cx="2010.7" cy="3898.1" r="9.8" fill="url(#spk)"/>
<circle cx="2019.5" cy="3898.1" r="9.8" fill="url(#spk)"/>
<circle cx="2023.7" cy="3483.9" r="9.8" fill="url(#spk)"/>
<circle cx="2024.5" cy="3419.8" r="9.8" fill="url(#spk)"/>
<circle cx="2028.3" cy="3436.6" r="9.8" fill="url(#spk)"/>
<circle cx="2032.1" cy="3445.4" r="9.8" fill="url(#spk)"/>
<circle cx="2035.9" cy="3455.6" r="9.8" fill="url(#spk)"/>
<circle cx="2038.7" cy="3796.0" r="9.8" fill="url(#spk)"/>
<circle cx="2039.4" cy="3898.1" r="9.8" fill="url(#spk)"/>
<circle cx="2048.3" cy="3898.1" r="9.8" fill="url(#spk)"/>
<circle cx="2052.9" cy="3540.6" r="9.8" fill="url(#spk)"/>
<circle cx="2053.3" cy="3417.4" r="9.8" fill="url(#spk)"/>
<circle cx="2059.0" cy="3426.4" r="9.8" fill="url(#spk)"/>
<circle cx="2064.7" cy="3436.2" r="9.8" fill="url(#spk)"/>
<circle cx="2066.2" cy="3741.8" r="9.8" fill="url(#spk)"/>
<circle cx="2068.2" cy="3898.1" r="9.8" fill="url(#spk)"/>
<circle cx="2077.1" cy="3898.1" r="9.8" fill="url(#spk)"/>
<circle cx="2080.4" cy="3599.0" r="9.8" fill="url(#spk)"/>
<circle cx="2082.1" cy="3415.0" r="9.8" fill="url(#spk)"/>
<circle cx="2087.8" cy="3429.9" r="9.8" fill="url(#spk)"/>
<circle cx="2093.5" cy="3441.3" r="9.8" fill="url(#spk)"/>
<circle cx="2094.6" cy="3686.7" r="9.8" fill="url(#spk)"/>
<circle cx="2097.0" cy="3898.1" r="9.8" fill="url(#spk)"/>
<circle cx="2105.9" cy="3898.1" r="9.8" fill="url(#spk)"/>
<circle cx="2109.6" cy="3657.5" r="9.8" fill="url(#spk)"/>
<circle cx="2110.9" cy="3417.4" r="9.8" fill="url(#spk)"/>
<circle cx="2116.6" cy="3426.6" r="9.8" fill="url(#spk)"/>
<circle cx="2122.3" cy="3437.0" r="9.8" fill="url(#spk)"/>
<circle cx="2123.8" cy="3634.1" r="9.8" fill="url(#spk)"/>
<circle cx="2125.8" cy="3898.1" r="9.8" fill="url(#spk)"/>
<circle cx="2134.7" cy="3898.1" r="9.8" fill="url(#spk)"/>
<circle cx="2137.2" cy="3715.9" r="9.8" fill="url(#spk)"/>
<circle cx="2139.7" cy="3419.8" r="9.8" fill="url(#spk)"/>
<circle cx="2145.4" cy="3433.4" r="9.8" fill="url(#spk)"/>
<circle cx="2151.1" cy="3445.0" r="9.8" fill="url(#spk)"/>
<circle cx="2151.4" cy="3580.7" r="9.8" fill="url(#spk)"/>
<circle cx="2154.6" cy="3898.1" r="9.8" fill="url(#spk)"/>
<circle cx="2163.5" cy="3898.1" r="9.8" fill="url(#spk)"/>
<circle cx="2166.4" cy="3773.5" r="9.8" fill="url(#spk)"/>
<circle cx="2168.5" cy="3410.2" r="9.8" fill="url(#spk)"/>
<circle cx="2171.4" cy="3425.6" r="9.8" fill="url(#spk)"/>
<circle cx="2174.2" cy="3435.4" r="9.8" fill="url(#spk)"/>
<circle cx="2177.1" cy="3447.2" r="9.8" fill="url(#spk)"/>
<circle cx="2179.9" cy="3460.9" r="9.8" fill="url(#spk)"/>
<circle cx="2183.4" cy="3898.1" r="9.8" fill="url(#spk)"/>
<circle cx="2192.3" cy="3898.1" r="9.8" fill="url(#spk)"/>
<circle cx="2194.8" cy="3828.6" r="9.8" fill="url(#spk)"/>
<circle cx="2197.3" cy="3403.0" r="9.8" fill="url(#spk)"/>
<circle cx="2201.1" cy="3418.3" r="9.8" fill="url(#spk)"/>
<circle cx="2204.9" cy="3429.0" r="9.8" fill="url(#spk)"/>
<circle cx="2208.7" cy="3439.2" r="9.8" fill="url(#spk)"/>
<circle cx="2209.8" cy="3475.5" r="9.8" fill="url(#spk)"/>
<circle cx="2212.2" cy="3898.1" r="9.8" fill="url(#spk)"/>
<circle cx="2221.1" cy="3898.1" r="9.8" fill="url(#spk)"/>
<circle cx="2224.0" cy="3885.3" r="9.8" fill="url(#spk)"/>
<circle cx="2226.1" cy="3415.0" r="9.8" fill="url(#spk)"/>
<circle cx="2229.9" cy="3429.2" r="9.8" fill="url(#spk)"/>
<circle cx="2233.7" cy="3441.1" r="9.8" fill="url(#spk)"/>
<circle cx="2237.5" cy="3453.6" r="9.8" fill="url(#spk)"/>
<circle cx="2239.0" cy="3875.3" r="9.8" fill="url(#spk)"/>
<circle cx="2241.0" cy="3898.1" r="9.8" fill="url(#spk)"/>
<circle cx="2249.9" cy="3898.1" r="9.8" fill="url(#spk)"/>
<circle cx="2254.9" cy="3415.0" r="9.8" fill="url(#spk)"/>
<circle cx="2260.6" cy="3424.5" r="9.8" fill="url(#spk)"/>
<circle cx="2266.3" cy="3433.4" r="9.8" fill="url(#spk)"/>
<circle cx="2266.5" cy="3823.6" r="9.8" fill="url(#spk)"/>
<circle cx="2269.8" cy="3898.1" r="9.8" fill="url(#spk)"/>
<circle cx="2278.7" cy="3898.1" r="9.8" fill="url(#spk)"/>
<circle cx="2282.4" cy="3514.8" r="9.8" fill="url(#spk)"/>
<circle cx="2283.7" cy="3419.8" r="9.8" fill="url(#spk)"/>
<circle cx="2287.5" cy="3434.5" r="9.8" fill="url(#spk)"/>
<circle cx="2291.3" cy="3446.3" r="9.8" fill="url(#spk)"/>
<circle cx="2295.1" cy="3458.4" r="9.8" fill="url(#spk)"/>
<circle cx="2295.8" cy="3772.6" r="9.8" fill="url(#spk)"/>
<circle cx="2298.6" cy="3898.1" r="9.8" fill="url(#spk)"/>
<circle cx="2307.5" cy="3898.1" r="9.8" fill="url(#spk)"/>
<circle cx="2309.9" cy="3565.7" r="9.8" fill="url(#spk)"/>
<circle cx="2312.5" cy="3415.0" r="9.8" fill="url(#spk)"/>
<circle cx="2315.3" cy="3426.0" r="9.8" fill="url(#spk)"/>
<circle cx="2318.2" cy="3436.1" r="9.8" fill="url(#spk)"/>
<circle cx="2321.0" cy="3450.6" r="9.8" fill="url(#spk)"/>
<circle cx="2323.9" cy="3459.8" r="9.8" fill="url(#spk)"/>
<circle cx="2325.0" cy="3714.2" r="9.8" fill="url(#spk)"/>
<circle cx="2327.4" cy="3898.1" r="9.8" fill="url(#spk)"/>
<circle cx="2336.3" cy="3898.1" r="9.8" fill="url(#spk)"/>
<circle cx="2339.2" cy="3624.1" r="9.8" fill="url(#spk)"/>
<circle cx="2341.3" cy="3415.0" r="9.8" fill="url(#spk)"/>
<circle cx="2347.0" cy="3425.9" r="9.8" fill="url(#spk)"/>
<circle cx="2352.7" cy="3442.1" r="9.8" fill="url(#spk)"/>
<circle cx="2354.2" cy="3656.6" r="9.8" fill="url(#spk)"/>
<circle cx="2357.2" cy="3898.1" r="9.8" fill="url(#spk)"/>
<circle cx="2363.7" cy="3898.1" r="9.8" fill="url(#spk)"/>
<rect x="1495" y="3227.7" width="871" height="723.8000000000002" fill="none" stroke="#252525" stroke-width="5"/>
<rect x="1921" y="3223.7" width="15" height="8" fill="#fff"/>
<line x1="1913.5" y1="3241.7" x2="1927.0" y2="3213.7" stroke="#1a1a1a" stroke-width="3" />
<line x1="1929.5" y1="3241.7" x2="1943.0" y2="3213.7" stroke="#1a1a1a" stroke-width="3" />
<rect x="1921" y="3947.5" width="15" height="8" fill="#fff"/>
<line x1="1913.5" y1="3965.5" x2="1927.0" y2="3937.5" stroke="#1a1a1a" stroke-width="3" />
<line x1="1929.5" y1="3965.5" x2="1943.0" y2="3937.5" stroke="#1a1a1a" stroke-width="3" />
<line x1="1481.0" y1="3900.0" x2="1495.0" y2="3900.0" stroke="#1a1a1a" stroke-width="3.4" />
<text x="1468.5" y="3911.8" font-size="38.0" text-anchor="end" fill="#222" stroke="#222" stroke-width="0.9" >0.0</text>
<line x1="1486.0" y1="3852.0" x2="1495.0" y2="3852.0" stroke="#1a1a1a" stroke-width="3.4" />
<line x1="1481.0" y1="3804.0" x2="1495.0" y2="3804.0" stroke="#1a1a1a" stroke-width="3.4" />
<text x="1468.5" y="3815.8" font-size="38.0" text-anchor="end" fill="#222" stroke="#222" stroke-width="0.9" >0.2</text>
<line x1="1486.0" y1="3755.9" x2="1495.0" y2="3755.9" stroke="#1a1a1a" stroke-width="3.4" />
<line x1="1481.0" y1="3707.9" x2="1495.0" y2="3707.9" stroke="#1a1a1a" stroke-width="3.4" />
<text x="1468.5" y="3719.7" font-size="38.0" text-anchor="end" fill="#222" stroke="#222" stroke-width="0.9" >0.4</text>
<line x1="1486.0" y1="3659.9" x2="1495.0" y2="3659.9" stroke="#1a1a1a" stroke-width="3.4" />
<line x1="1481.0" y1="3611.9" x2="1495.0" y2="3611.9" stroke="#1a1a1a" stroke-width="3.4" />
<text x="1468.5" y="3623.7" font-size="38.0" text-anchor="end" fill="#222" stroke="#222" stroke-width="0.9" >0.6</text>
<line x1="1486.0" y1="3563.9" x2="1495.0" y2="3563.9" stroke="#1a1a1a" stroke-width="3.4" />
<line x1="1481.0" y1="3515.8" x2="1495.0" y2="3515.8" stroke="#1a1a1a" stroke-width="3.4" />
<text x="1468.5" y="3527.6" font-size="38.0" text-anchor="end" fill="#222" stroke="#222" stroke-width="0.9" >0.8</text>
<line x1="1486.0" y1="3467.8" x2="1495.0" y2="3467.8" stroke="#1a1a1a" stroke-width="3.4" />
<line x1="1481.0" y1="3419.8" x2="1495.0" y2="3419.8" stroke="#1a1a1a" stroke-width="3.4" />
<text x="1468.5" y="3431.6" font-size="38.0" text-anchor="end" fill="#222" stroke="#222" stroke-width="0.9" >1.0</text>
<line x1="1486.0" y1="3371.8" x2="1495.0" y2="3371.8" stroke="#1a1a1a" stroke-width="3.4" />
<line x1="1481.0" y1="3323.8" x2="1495.0" y2="3323.8" stroke="#1a1a1a" stroke-width="3.4" />
<text x="1468.5" y="3335.6" font-size="38.0" text-anchor="end" fill="#222" stroke="#222" stroke-width="0.9" >1.2</text>
<line x1="1486.0" y1="3275.7" x2="1495.0" y2="3275.7" stroke="#1a1a1a" stroke-width="3.4" />
<line x1="1481.0" y1="3227.7" x2="1495.0" y2="3227.7" stroke="#1a1a1a" stroke-width="3.4" />
<text x="1468.5" y="3239.5" font-size="38.0" text-anchor="end" fill="#222" stroke="#222" stroke-width="0.9" >1.4</text>
<line x1="1495.0" y1="3951.5" x2="1495.0" y2="3965.5" stroke="#1a1a1a" stroke-width="3.4" />
<line x1="1566.0" y1="3951.5" x2="1566.0" y2="3959.5" stroke="#1a1a1a" stroke-width="3.4" />
<line x1="1637.0" y1="3951.5" x2="1637.0" y2="3965.5" stroke="#1a1a1a" stroke-width="3.4" />
<line x1="1708.0" y1="3951.5" x2="1708.0" y2="3959.5" stroke="#1a1a1a" stroke-width="3.4" />
<line x1="1779.0" y1="3951.5" x2="1779.0" y2="3965.5" stroke="#1a1a1a" stroke-width="3.4" />
<line x1="1850.0" y1="3951.5" x2="1850.0" y2="3959.5" stroke="#1a1a1a" stroke-width="3.4" />
<line x1="1937.0" y1="3951.5" x2="1937.0" y2="3965.5" stroke="#1a1a1a" stroke-width="3.4" />
<line x1="2008.5" y1="3951.5" x2="2008.5" y2="3959.5" stroke="#1a1a1a" stroke-width="3.4" />
<line x1="2080.0" y1="3951.5" x2="2080.0" y2="3965.5" stroke="#1a1a1a" stroke-width="3.4" />
<line x1="2151.5" y1="3951.5" x2="2151.5" y2="3959.5" stroke="#1a1a1a" stroke-width="3.4" />
<line x1="2223.0" y1="3951.5" x2="2223.0" y2="3965.5" stroke="#1a1a1a" stroke-width="3.4" />
<line x1="2294.5" y1="3951.5" x2="2294.5" y2="3959.5" stroke="#1a1a1a" stroke-width="3.4" />
<line x1="2366.0" y1="3951.5" x2="2366.0" y2="3965.5" stroke="#1a1a1a" stroke-width="3.4" />
<text x="1494.5" y="4006.8" font-size="38.0" text-anchor="middle" fill="#222" stroke="#222" stroke-width="0.9" >0</text>
<text x="1636.5" y="4006.8" font-size="38.0" text-anchor="middle" fill="#222" stroke="#222" stroke-width="0.9" >10</text>
<text x="1778.5" y="4006.8" font-size="38.0" text-anchor="middle" fill="#222" stroke="#222" stroke-width="0.9" >20</text>
<text x="1936.0" y="4006.8" font-size="38.0" text-anchor="middle" fill="#222" stroke="#222" stroke-width="0.9" >190</text>
<text x="2079.0" y="4006.8" font-size="38.0" text-anchor="middle" fill="#222" stroke="#222" stroke-width="0.9" >200</text>
<text x="2222.0" y="4006.8" font-size="38.0" text-anchor="middle" fill="#222" stroke="#222" stroke-width="0.9" >210</text>
<text x="2365.0" y="4006.8" font-size="38.0" text-anchor="middle" fill="#222" stroke="#222" stroke-width="0.9" >220</text>
<text x="1912.0" y="4064.7" font-size="39.2" text-anchor="middle" fill="#222" stroke="#222" stroke-width="0.9" >Time (s)</text>
<text transform="translate(1381.0,3622.0) rotate(-90)" font-size="39.2" text-anchor="middle" fill="#222" stroke="#222" stroke-width="0.9" >Photocurrent (a.u.)</text>
<line x1="1669.8" y1="3299.0" x2="1742.0" y2="3299.0" stroke="#222" stroke-width="2.5" />
<circle cx="1705.0" cy="3299.0" r="9.8" fill="url(#spk)"/>
<rect x="1746" y="3280" width="466" height="38" fill="#fff"/>
<text x="1748.0" y="3312.0" font-size="39.1" text-anchor="start" fill="#222" stroke="#222" stroke-width="0.9" >110 cycles on/off switching</text>
<text transform="translate(26.19,96.5) scale(0.796,1)" font-size="116" fill="#2a2224" stroke="#fff" stroke-width="3.6">a</text>
<text transform="translate(30.95,1296.5) scale(1.081,1)" font-size="116" fill="#2a2224" stroke="#fff" stroke-width="3.6">b</text>
<text transform="translate(1282.13,1277.5) scale(0.941,1)" font-size="116" fill="#2a2224" stroke="#fff" stroke-width="3.6">c</text>
<text transform="translate(30.34,2236.0) scale(1.053,1)" font-size="116" fill="#2a2224" stroke="#fff" stroke-width="3.6">d</text>
<text transform="translate(1292.03,2227.0) scale(0.955,1)" font-size="116" fill="#2a2224" stroke="#fff" stroke-width="3.6">e</text>
<text transform="translate(39.03,3248.5) scale(1.204,1)" font-size="116" fill="#2a2224" stroke="#fff" stroke-width="3.6">f</text>
<text transform="translate(1309.31,3232.5) scale(1.053,1)" font-size="116" fill="#2a2224" stroke="#fff" stroke-width="3.6">g</text>
</svg>
</body></html>
